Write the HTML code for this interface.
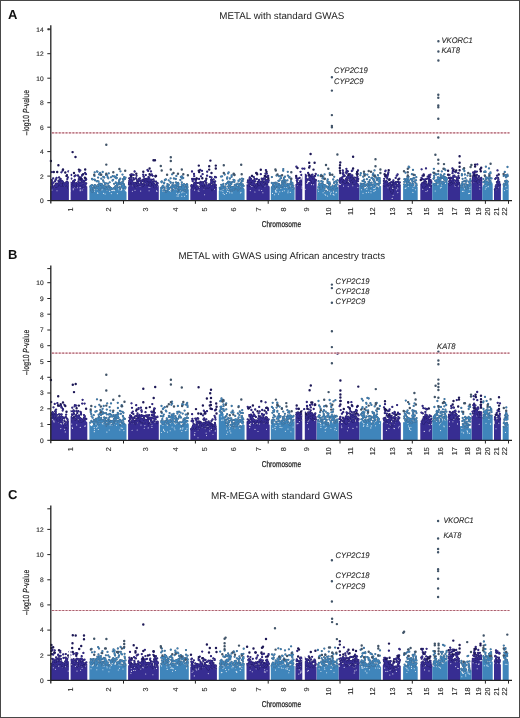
<!DOCTYPE html><html><head><meta charset="utf-8"><style>
html,body{margin:0;padding:0;background:#fff;width:520px;height:718px;overflow:hidden;}
#f{position:relative;width:520px;height:718px;box-sizing:border-box;border:1px solid #474747;overflow:hidden;background:#fff;}
svg{position:absolute;left:-1px;top:-1px;will-change:transform;}
text{font-family:"Liberation Sans",sans-serif;text-rendering:geometricPrecision;}
</style></head><body><div id="f">
<svg width="520" height="718" viewBox="0 0 520 718">
<path fill="#372d92" d="M50.4 200.6L50.4 186.3L51.4 185.6L52.4 185.1L53.4 186.4L54.4 188.1L55.4 186.4L56.4 186.4L57.4 185.5L58.4 184L59.4 183.5L60.4 185.5L61.4 186.1L62.4 185.8L63.4 185.7L64.4 186.4L65.4 185.6L66.4 184.7L67.4 186.8L68.4 187.5L69.4 189L70.4 186.6L71.4 185.7L72.4 185.5L73.4 184.8L74.4 185.5L75.4 186.1L76.4 187.3L77.4 185.6L78.4 184L79.4 184.7L80.4 184.1L81.4 184.3L82.4 186.2L83.4 188.5L84.4 187.2L85.4 185.4L86.4 186.1L87.3 186.5L87.3 200.6zM128.1 200.6L128.1 186.7L129.1 186L130.1 182.8L131.1 182.5L132.1 185.1L133.1 185.6L134.1 185.4L135.1 186.3L136.1 187.8L137.1 185.1L138.1 185.1L139.1 185.8L140.1 186.8L141.1 185.4L142.1 186.7L143.1 185.8L144.1 184.2L145.1 183.2L146.1 184L147.1 184.5L148.1 184.7L149.1 185.1L150.1 185.9L151.1 185.1L152.1 183.3L153.1 184.2L154.1 187.1L155.1 187.9L156.1 185.8L157.1 186.5L158.1 186.3L158.8 183.9L158.8 200.6zM190.3 200.6L190.3 189L191.3 188.3L192.3 189.2L193.3 189.3L194.3 188L195.3 187.2L196.3 187.5L197.3 188.6L198.3 188.8L199.3 187.9L200.3 186.6L201.3 186.7L202.3 185.8L203.3 185.4L204.3 188.2L205.3 188.9L206.3 187.4L207.3 186.8L208.3 187.2L209.3 187.5L210.3 187.8L211.3 189.2L212.3 189.6L213.3 189.1L214.3 187.6L215.3 186.6L216.3 186.7L216.9 186.8L216.9 200.6zM246.5 200.6L246.5 183.9L247.5 185.6L248.5 186.5L249.5 184.3L250.5 183.6L251.5 184.3L252.5 184.2L253.5 184.4L254.5 186.3L255.5 187.3L256.5 186.6L257.5 185.4L258.5 184.5L259.5 185.5L260.5 184.4L261.5 185.2L262.5 185.9L263.5 185.5L264.5 183.9L265.5 182.9L266.5 183.4L267.5 185L268.5 185.6L269.5 186.5L269.7 186.4L269.7 200.6zM295.4 200.6L295.4 184L296.4 183.9L297.4 183.9L298.4 184.5L299.4 184.7L300.4 184.6L301.4 183.1L302.4 181.7L303.4 180.2L304.4 181.8L305.4 182.4L306.4 181.7L307.4 183.1L308.4 182.2L309.4 182L310.4 179.6L311.4 181.4L312.4 182.4L313.4 182.3L314.4 180.5L315.4 180.7L316.4 178.8L316.6 179.5L316.6 200.6zM338.5 200.6L338.5 183.5L339.5 185L340.5 184.9L341.5 183.4L342.5 181.8L343.5 181.2L344.5 183.1L345.5 181.9L346.5 183.1L347.5 182.6L348.5 181.8L349.5 181.3L350.5 180.8L351.5 182.8L352.5 184.7L353.5 184.1L354.5 185L355.5 183.9L356.5 182.4L357.5 182.6L358.5 183.5L359.5 185.2L359.5 183.9L359.5 200.6zM382.8 200.6L382.8 184.6L383.8 184.9L384.8 186.2L385.8 185.9L386.8 184.3L387.8 183.6L388.8 185L389.8 187.7L390.8 190L391.8 193.5L392.8 190.7L393.8 186.4L394.8 184.1L395.8 186L396.8 186.7L397.8 185.6L398.8 186.1L399.8 185.4L400.8 184.3L400.8 184.6L400.8 200.6zM420.3 200.6L420.3 184L421.3 183.5L422.3 185.1L423.3 187.7L424.3 187.7L425.3 185.7L426.3 185.4L427.3 185.8L428.3 184.6L429.3 184.2L430.3 185.1L431.3 186L432.3 184.5L432.3 184L432.3 200.6zM447.7 200.6L447.7 183.4L448.7 184.3L449.7 183.9L450.7 185.2L451.7 182.7L452.7 182L453.7 183.2L454.7 185.8L455.7 184.4L456.7 183.9L457.7 183.5L458.7 182.5L459.7 181.6L460 181.4L460 200.6zM471.5 200.6L471.5 182.5L472.5 181.5L473.5 181.5L474.5 180.8L475.5 180.5L476.5 180.2L477.5 181.4L478.5 183.7L479.5 183.3L480.5 180.2L481.5 180.1L482.3 180.3L482.3 200.6zM494 200.6L494 189.4L495 189.6L496 190.6L497 187L498 183.8L499 184.2L500 184.3L500.9 185.3L500.9 200.6z"/>
<path fill="#3f85bb" d="M89.4 200.6L89.4 187.9L90.4 188.5L91.4 191.1L92.4 191.3L93.4 190.7L94.4 189.5L95.4 188.9L96.4 189.2L97.4 189L98.4 189.8L99.4 190.8L100.4 189.4L101.4 187.2L102.4 186.2L103.4 187.6L104.4 188.3L105.4 189.6L106.4 190.2L107.4 190.6L108.4 188L109.4 187.5L110.4 189.3L111.4 190.9L112.4 190.6L113.4 190.7L114.4 190L115.4 188.4L116.4 186.7L117.4 187.6L118.4 188.5L119.4 189.7L120.4 188.4L121.4 190.1L122.4 189.4L123.4 186.7L124.4 188.3L125.4 191.1L126.4 192L126.5 191.1L126.5 200.6zM159.9 200.6L159.9 189.8L160.9 187.9L161.9 189.2L162.9 191.5L163.9 191.5L164.9 191.6L165.9 192.3L166.9 191.3L167.9 189.1L168.9 189.3L169.9 191.2L170.9 191.7L171.9 190.6L172.9 190.4L173.9 189.9L174.9 188.5L175.9 187.5L176.9 189L177.9 191.5L178.9 190.5L179.9 190.4L180.9 191.2L181.9 190.7L182.9 189.7L183.9 190L184.9 192.2L185.9 192L186.9 190.5L187.9 189.4L188.8 189.6L188.8 200.6zM218.8 200.6L218.8 190.7L219.8 189.7L220.8 187.9L221.8 186.9L222.8 189.5L223.8 189.9L224.8 189.2L225.8 189.1L226.8 189L227.8 187.9L228.8 187.5L229.8 189.5L230.8 191.8L231.8 191L232.8 190.4L233.8 189.3L234.8 189.2L235.8 189L236.8 188.8L237.8 190.9L238.8 190.2L239.8 188.1L240.8 188.7L241.8 187.8L242.8 188.1L243.8 187.8L244.6 189.4L244.6 200.6zM270.8 200.6L270.8 187.2L271.8 186.6L272.8 188.5L273.8 189.2L274.8 188.7L275.8 186.3L276.8 186.2L277.8 188.4L278.8 187.7L279.8 187.9L280.8 188.7L281.8 188L282.8 184.2L283.8 184.4L284.8 185.7L285.8 187.1L286.8 187.7L287.8 188.4L288.8 187.4L289.8 186.2L290.8 186.5L291.8 187.9L292.8 188.9L293.8 188.6L294.6 187.7L294.6 200.6zM316.9 200.6L316.9 187.4L317.9 189.3L318.9 189.4L319.9 189.9L320.9 188L321.9 189L322.9 187.6L323.9 188.2L324.9 189.3L325.9 191.9L326.9 191.3L327.9 190.5L328.9 190.4L329.9 189.5L330.9 188.3L331.9 189.8L332.9 190.4L333.9 191.5L334.9 188.4L335.9 187.4L336.9 187.5L337.9 188.1L338.5 188.3L338.5 200.6zM359.5 200.6L359.5 184.7L360.5 184.7L361.5 186.8L362.5 189.2L363.5 188.6L364.5 188.2L365.5 188.2L366.5 187.3L367.5 186.2L368.5 185.9L369.5 187.8L370.5 187.2L371.5 186.8L372.5 185.8L373.5 185.6L374.5 184.3L375.5 184.8L376.5 186.6L377.5 188.3L378.5 187.6L379.5 185.7L380.5 185.9L381.1 186.3L381.1 200.6zM403.1 200.6L403.1 185.5L404.1 185.4L405.1 185.8L406.1 186.7L407.1 184.4L408.1 183.4L409.1 183.3L410.1 184.8L411.1 185.8L412.1 186.2L413.1 185.8L414.1 186.5L415.1 185.2L416.1 184.9L417.1 186.5L417.7 186.6L417.7 200.6zM432.3 200.6L432.3 181.9L433.3 182.5L434.3 184.2L435.3 185.2L436.3 184.7L437.3 183.4L438.3 184.2L439.3 183.4L440.3 181.7L441.3 183.6L442.3 183.7L443.3 184L444.3 181.8L445.3 181.7L446.3 181.7L447.3 181.1L447.7 181.8L447.7 200.6zM460 200.6L460 187.1L461 186.3L462 188L463 187.9L464 185.1L465 185.9L466 188L467 189.2L468 188.2L469 187L470 187.5L471 184.8L471.5 184L471.5 200.6zM482.3 200.6L482.3 187.4L483.3 184.9L484.3 184L485.3 184.3L486.3 185.5L487.3 184.5L488.3 184.2L489.3 185.1L490.3 183.6L491.3 181.8L492.3 182.8L492.7 183.9L492.7 200.6zM502.7 200.6L502.7 187.7L503.7 186.2L504.7 184.5L505.7 183.7L506.7 184.7L507.7 183.9L508.7 184.4L508.7 184.7L508.7 200.6z"/>
<path stroke="#fff" stroke-opacity="0.85" stroke-width="1.1" stroke-linecap="round" fill="none" d="M57 190.7h0M73.7 182.5h0M80.2 190.8h0M73.2 189.7h0M79.4 183.2h0M69.7 190.2h0M80.2 189.9h0M79.9 187.7h0M82.2 190h0M75.4 186.1h0M53 184.7h0M64.1 183.8h0M80.2 187.5h0M73.2 188.7h0M75 187.8h0M52 190h0M77.3 187.8h0M70 191.1h0M103.6 193.4h0M106.2 189.4h0M117.4 193.6h0M94.5 191.1h0M112 189.1h0M103.5 186.2h0M97.9 188.1h0M111.3 193.6h0M97.8 185.7h0M102.1 189.8h0M97.2 188.7h0M97.8 193.4h0M109.6 185.6h0M94.4 189.2h0M109.7 191.3h0M94 187.3h0M114.6 190.6h0M100.6 188.4h0M123.4 187.1h0M110.2 189.5h0M105.1 194h0M124.9 189.6h0M97.6 192.7h0M97.8 185.7h0M121.6 190h0M118.9 189.8h0M121 190.2h0M96.4 186.1h0M109.7 191.4h0M121.9 186.6h0M112.1 190.6h0M108.1 187.3h0M100.6 190.5h0M149.1 190.7h0M133.9 183.9h0M136.5 186.9h0M144.1 183.2h0M138.7 184.1h0M156.6 190.7h0M132.4 191.2h0M132.4 185.6h0M156.9 191.4h0M149.9 187.3h0M135 190.3h0M132.6 183.9h0M140.4 183.8h0M140.7 191.1h0M148.8 187.2h0M161.7 185.2h0M178.3 196h0M163.5 191.1h0M180.3 188.8h0M183.7 191.4h0M162.9 191.1h0M176.3 188.9h0M178.9 189.1h0M182.1 190.4h0M178.1 194.2h0M172.2 190.4h0M181.8 196.3h0M181.7 192.7h0M169 186.2h0M186.6 194.2h0M182.8 189.3h0M177.1 196h0M182.9 191.9h0M169.4 190.4h0M184.4 191.7h0M179.1 193.4h0M184.6 196.3h0M168.7 185.5h0M168.2 189.8h0M176.6 193.2h0M184.4 188.4h0M207.8 187.4h0M204.6 194.7h0M206.5 187h0M204.1 189h0M214.2 187.2h0M199 191.2h0M194.6 190.1h0M214.4 189.3h0M198.1 190.7h0M204.4 186.8h0M194.7 185.5h0M198.7 189.2h0M198.6 187.8h0M234.2 188.7h0M240.2 185.8h0M232 192.9h0M226.5 193.2h0M229.1 191.3h0M233.2 189.7h0M229.2 185.9h0M224.3 194.5h0M227.6 191.4h0M222.8 191.2h0M228.5 189.3h0M227.1 186.1h0M227.4 187.4h0M223.2 193.3h0M226.7 189.6h0M241 192.2h0M240.4 193h0M223.3 189.1h0M221 190.7h0M235.4 188.7h0M229.7 192.8h0M236.2 187.5h0M239.6 188.8h0M254.9 192h0M261.7 190.5h0M250.5 185.2h0M262.9 192.8h0M262.6 183.9h0M260.2 182.6h0M259.1 190.1h0M250.3 190.6h0M261.6 184.8h0M251.9 186.4h0M264.9 186h0M288.1 191h0M278.5 194.1h0M276.8 188.9h0M275.6 191.9h0M290.4 185.2h0M287.9 192.7h0M278.2 187.7h0M282.4 191.2h0M275.7 190h0M284.7 187.1h0M284.3 190.7h0M276.7 191.9h0M279.8 191.8h0M290.3 184.4h0M290.3 192.4h0M278.5 184.6h0M274.6 194.8h0M272.5 193.4h0M275.4 190.8h0M274.3 187.4h0M286.5 184.5h0M307.5 183.1h0M311.5 180.7h0M313.6 184.7h0M297.8 185.2h0M306.6 183.5h0M307.2 182.6h0M301.9 188h0M302.2 186.3h0M311.5 184.6h0M305.2 189.3h0M336.4 192.3h0M323.1 192.7h0M322.7 186.8h0M326.9 190.1h0M327.6 196h0M331.1 192.2h0M325.7 195.3h0M333.2 194.4h0M335.9 192.7h0M326 188.9h0M330.5 193.9h0M324.7 191.2h0M334 195.1h0M318.5 191.3h0M318.7 187.8h0M333.5 191.9h0M329.6 191h0M324.6 187.3h0M325 194.3h0M357.9 187.5h0M357.3 182.2h0M357.8 180h0M348.6 180.5h0M348.2 186.6h0M352.8 185.7h0M346.2 181.5h0M347.3 183h0M343.5 186.1h0M349.3 182.3h0M375.4 190.2h0M375.8 187.3h0M363 193.2h0M366.8 189.2h0M367.8 187.7h0M379 184.4h0M370.9 190.2h0M371 192.8h0M368.6 192.3h0M373.8 191.2h0M362.7 187.2h0M366.3 192.6h0M361.3 185h0M374.3 191h0M364.3 188.4h0M373.8 188.5h0M374.9 188.5h0M365.6 186.6h0M361.5 189.8h0M397.4 187.5h0M392.2 198.4h0M396.4 189.7h0M392 191.7h0M388 187.7h0M393.1 195.2h0M397.8 192.6h0M387.2 181.6h0M397.8 188.7h0M412.9 192.4h0M413.8 186.4h0M408.3 186.5h0M405.2 188.5h0M405.6 183.3h0M410.6 183.4h0M415.4 189.7h0M410 183.1h0M406 187.9h0M410.6 185.5h0M412.9 188.2h0M413.6 184.5h0M405.4 186.4h0M430.4 186.1h0M427.5 190.8h0M426 191.5h0M428.4 184.1h0M429.7 187.4h0M422.8 189.2h0M445.5 183.4h0M438.8 181.8h0M435.2 191h0M443.7 179.9h0M437.8 184.7h0M439.9 182.6h0M444.9 181.3h0M440.4 187.9h0M441.7 184.9h0M437.9 183.8h0M441.4 187.3h0M437 184.1h0M438.6 183.6h0M453.6 182h0M456.2 183.2h0M455.5 182.8h0M458.4 186h0M456.1 183.1h0M455.1 186.3h0M463.8 191.3h0M465.9 187.5h0M469.7 187.6h0M467.4 185.8h0M468.6 193.6h0M462.4 191.4h0M463.8 184.1h0M464.6 188.7h0M469.6 193.4h0M469.9 189.6h0M479.8 186.3h0M473.9 181.8h0M478.2 180.5h0M473.3 181.6h0M479.8 189h0M488.3 184.1h0M485.3 189h0M490.5 182h0M488.1 186.8h0M486.2 181.7h0M486.2 187.6h0M488.3 186.2h0M484.7 182.1h0M486.1 185.4h0M497.4 187.3h0M496.3 188.5h0M498 187.6h0M507 189.2h0M506.4 183.3h0M504.5 190.6h0M505.9 186.6h0M506.8 182.6h0"/>
<defs><path id="f00" d="M61.8 180.9h0M75.8 186.1h0M71.5 183.5h0M82 181.1h0M61.4 172.3h0M55.4 185.1h0M77.9 184h0M68.5 188.2h0M74.8 180.2h0M71.4 178.6h0M62.3 182h0M72.2 183h0M67.3 179.1h0M84.5 184.9h0M74.6 185h0M75.9 183.4h0M86.2 179.4h0M61.3 184.8h0M74.8 185.4h0M67.5 185.6h0M55.4 186.9h0M78.3 183.8h0M60 182.3h0M81.9 185.3h0M67.1 182.5h0M82.3 180.2h0M81.6 184h0M65.9 183.5h0M82.3 174.9h0M56.6 185.8h0M59.4 182.6h0M68.3 184.9h0M60.5 185.2h0M66 183.3h0M71.2 175h0M75.5 184.2h0M73 181.4h0M53.2 178.3h0M78.7 176.6h0M79.3 182.7h0M65.3 185.2h0M73.6 184.7h0M53.7 186.7h0M57 184.9h0M53.1 186.6h0M56.6 186.1h0M64.1 185.5h0M82 182.3h0M56.5 185.4h0M63.5 183.8h0M55.6 180h0M86.2 183.4h0M68.3 187.7h0M54.9 186.2h0M60.6 178.9h0M57 186.3h0M84.7 184h0M56.4 183.6h0M52.2 182.4h0M85.6 178.3h0M75.7 186h0M64.2 184.9h0M78.4 181.4h0M78.6 182.8h0M59.1 177.5h0M85.9 178.6h0M79.6 178.5h0M77.3 184.7h0M69.5 186.7h0M52.3 185.1h0M61.1 185.2h0M75.6 175.4h0M67 175.1h0M86 174.2h0M64.1 184.7h0M59.3 182.8h0M58.5 180.9h0M82.9 181h0M68.1 183.9h0M79.4 184.3h0M74.5 176.3h0M78.8 179.2h0M68.1 186.9h0M79 182.9h0M79.4 171.5h0M65.2 183.8h0M84.5 182.4h0M57.3 185.8h0M56.6 177.8h0M79.6 184.2h0M80.3 170.4h0M74.4 183.4h0M70.6 186.2h0M51.8 172.1h0M74.1 182.1h0M84.1 185.8h0M81.9 179.2h0M58.7 183.1h0M61.6 185.7h0M71.9 185.1h0M66 184.5h0M83.2 186.5h0M67.4 182.8h0M83 185.9h0M83.5 185.7h0M70 184.9h0M52 182.9h0M57.7 185.8h0M79.4 183.9h0M67.9 182.5h0M70.8 185h0M69.5 185.3h0M78.8 183.9h0M71 185.3h0M61 180.8h0M69.1 185.6h0M78 175.5h0M66.9 181.6h0M69 186.1h0M75.6 184.7h0M70 185.1h0M84.3 183h0M82.1 175.5h0M60.4 182h0M84.4 180.6h0M56.1 186.1h0M66.8 184.8h0M59.7 183.5h0M74.8 179.9h0M82.8 186.9h0M76.4 183.1h0M56.3 178.7h0M85.3 185h0M84.7 184.8h0M68.4 171.4h0M80.5 184.2h0M66.4 182.2h0M63.2 184.7h0M62.5 181.5h0M52 182.1h0M66.8 184.9h0M62.9 182.1h0M69.3 188.3h0M85.9 179.9h0M85.4 185.3h0M60.6 185.3h0M78.6 183.1h0M55.8 184.7h0M83.3 181.9h0M60.4 184.3h0M83.6 185.2h0M75.9 186.8h0M53.3 182.7h0M66.2 184.6h0M84.2 183.9h0M79.4 184.3h0M81.4 184.7h0M81.6 183h0M63.2 182.6h0M83.8 187h0M55.8 184h0M59.7 183.3h0M57 186.2h0M58.4 183.3h0M62 181.4h0M61.5 184.2h0M57.5 184.5h0M51.9 184h0M51.8 180.2h0M70.6 185.8h0M68 177.4h0M55 181.3h0M66.5 182.4h0M80.6 183h0M69.1 184.4h0M85.8 184h0M80.5 180.3h0M73.6 183h0M63.5 185.2h0M55.9 186.5h0M77.3 184.5h0M57 186.1h0M80.8 177.3h0M74.8 184.4h0M59.8 182.6h0M67.4 185.5h0M66.9 184.1h0M85.1 172.9h0M70.5 185.7h0M85.2 184.6h0M63.8 185.5h0M64.7 183.4h0M68.9 187.9h0M69 188.7h0M60.6 185h0M65.3 185.4h0M52.1 183.7h0M59.5 180.4h0M69.9 182.6h0M74.4 180.4h0M82.2 184.3h0M62.7 170.5h0M153.2 184.4h0M146.3 181h0M147.1 183.7h0M141.1 182.8h0M141.3 182h0M141.9 184.1h0M129.7 180.5h0M143.1 185.2h0M151.1 179.8h0M142.2 185.6h0M142.7 186.1h0M132.7 182.7h0M131.7 181.7h0M143.7 185h0M147.4 184.8h0M150.2 180.4h0M143.8 184.9h0M143.6 183.8h0M156.5 185.9h0M150.2 179.7h0M134.6 171.5h0M143.2 174.6h0M155.5 186.4h0M151.8 174.4h0M130.9 181.4h0M150.9 185h0M154.9 186.1h0M152.6 183.3h0M143.5 176.4h0M135 185.7h0M143.6 184h0M130.1 182.6h0M133.7 174.9h0M148.6 176.8h0M133.9 179.6h0M132.3 181.8h0M147.4 183.5h0M154.2 183.9h0M145.8 175.1h0M147.2 183.2h0M152.1 182.8h0M157.6 183.2h0M139.4 180.7h0M141.8 185.4h0M150.5 185.7h0M152.7 182.9h0M147.5 170h0M145.9 179.2h0M138 184.4h0M130 182.8h0M146.8 182.6h0M143.8 176.7h0M132.8 183.9h0M147.9 185.1h0M129.1 183.7h0M132.1 182.7h0M135.5 184.1h0M146 182.5h0M147 182.6h0M132.9 174.7h0M136 186.6h0M131.8 180.2h0M154.2 181.2h0M140.6 185h0M129.3 181h0M145.3 181h0M147.7 183h0M156.1 181.7h0M136.2 178.4h0M130.3 180.3h0M140.7 185.1h0M130.7 177.3h0M129.4 181.8h0M156.2 186h0M134.8 183h0M143.7 181.6h0M152.5 183.1h0M137.9 183.1h0M130.4 174.9h0M151.6 179.8h0M129.2 178.3h0M150.5 183.6h0M150.4 183.7h0M135.5 186.9h0M135.7 187.2h0M138.7 180h0M149.1 178.4h0M149.6 184.4h0M145 180.6h0M151.8 181.5h0M136.7 182.3h0M156.9 185.5h0M154.4 187.1h0M136.5 185.4h0M150.5 175.3h0M150.6 184.4h0M154.4 185.7h0M135.9 178.5h0M147.2 180.8h0M148.2 170.9h0M142.6 179.8h0M149.2 178.1h0M141.6 181.3h0M145.5 181.3h0M135.1 183.4h0M131.2 174.4h0M133.2 184.8h0M132.1 174.6h0M139 184.9h0M129.8 183.5h0M149 181.5h0M149.1 180.4h0M130.9 179.7h0M139.5 179.8h0M152.7 175.8h0M130.9 175.5h0M155.4 176.5h0M132.1 183.5h0M132.2 184.4h0M153.5 179.3h0M147.3 178.7h0M147.3 183.9h0M131.9 183.8h0M150.9 184.7h0M138.2 182.5h0M129.6 183.1h0M137.2 180.5h0M139.6 184.8h0M156.9 183.9h0M153.6 182.1h0M129.9 181.6h0M141.6 180.6h0M139 181h0M144.5 182.4h0M153.9 186h0M152.7 183.3h0M129 184.6h0M151 171.4h0M129.1 182.8h0M143.2 180.3h0M134.3 183.3h0M139 179h0M136.5 175.8h0M137.2 184.2h0M149.2 182.8h0M132.2 180.7h0M131.3 177.7h0M149.1 179.6h0M147.1 183.4h0M140.6 184.3h0M154.7 187h0M154.7 187.2h0M135 185.6h0M155 184.7h0M140 178.4h0M135.8 185.1h0M144.4 178.6h0M150.8 181.9h0M139.1 184.1h0M133.5 178.2h0M148.1 180.1h0M133.9 183.1h0M151.4 181.7h0M132.6 182.5h0M154.6 186.3h0M134.5 184.8h0M213.2 186.2h0M203 182.1h0M195.9 186.2h0M195.7 182.3h0M200.2 184h0M201.2 183.8h0M194.9 186.6h0M215.9 185.1h0M193.8 184.7h0M210.7 187.5h0M206 186.2h0M204.1 187.5h0M192 171.5h0M212.7 187.4h0M205.3 187.5h0M210.5 185.7h0M214.7 181.6h0M211.5 177.5h0M197.5 189.2h0M196.2 186.8h0M193.3 188.6h0M205 181.2h0M202.6 174.2h0M213.8 187.5h0M206 185.9h0M194.2 176.1h0M197.6 186.3h0M207.1 175.7h0M207.8 185.7h0M202.3 184.5h0M196.7 188.4h0M197.5 187.8h0M213.6 179.4h0M212 190h0M210.7 183.5h0M207.2 171.7h0M192.6 188.2h0M209.9 176.8h0M208 186.3h0M205.9 182.8h0M193.8 187h0M197.6 188.9h0M203.1 184.8h0M197.1 188.6h0M208 187.5h0M209 186.5h0M192.1 178.9h0M196.7 178.5h0M212.7 181.7h0M194.7 184.9h0M193.6 178.9h0M212.1 186.6h0M202.4 183.5h0M211.6 187.5h0M206.8 186.6h0M196.7 188.3h0M208.9 184.4h0M194.8 179.4h0M197.8 187.3h0M195.1 185.5h0M212 188.7h0M195.4 184.1h0M199.1 179h0M194 174h0M192.6 180.5h0M207.8 186.6h0M203 184.1h0M197.6 188.5h0M200.2 169.8h0M216 177.3h0M193.6 187.4h0M213.4 188.2h0M209.2 185.9h0M215.5 186.9h0M211.2 187.6h0M194.7 187.1h0M211.8 187.4h0M195.8 184.8h0M213.8 186.8h0M205.4 188h0M195.7 181.3h0M208.8 186.6h0M193.2 188.5h0M206.3 185h0M198 188.3h0M206.4 182.9h0M211.3 186.1h0M196.2 187.3h0M209.4 185.2h0M209.1 187h0M211.3 187.8h0M212.1 182.9h0M203.4 186h0M213.8 185.4h0M212.8 188.5h0M195.8 180.4h0M200.3 186.4h0M200.4 183.7h0M191.3 186h0M202.3 182.5h0M194.2 183.2h0M211.5 182.2h0M199.2 183h0M200.7 181.8h0M192.7 181.2h0M214.9 184.5h0M203.9 184.5h0M204.5 188.3h0M215.2 186.1h0M195.7 186.4h0M197.4 183.1h0M191.9 188.2h0M208.5 186.8h0M191.6 185.2h0M205.5 185.7h0M208.6 187.1h0M212.8 185.1h0M192.3 188.2h0M203.4 183.6h0M198.1 188.5h0M201.3 185.8h0M205.9 180.7h0M194.9 183.7h0M209.7 186.3h0M211.7 179.8h0M200.8 184.8h0M212 187.5h0M201 176.3h0M210.5 186.1h0M197.2 187.7h0M202 170.8h0M211.1 180h0M211.4 182.6h0M192.5 186h0M215 177h0M197.4 187.3h0M206.9 185.5h0M204.4 187.9h0M201.9 182.9h0M191.7 188h0M215.2 181.5h0M214.4 183.4h0M211.3 181.3h0M213.1 188.9h0M207.1 186.1h0M265.7 179.9h0M248.4 185.2h0M249.8 178.9h0M251.9 175.8h0M263.4 185.4h0M262.3 184.2h0M263.4 179.3h0M253.4 184.3h0M267.7 182.5h0M267.3 180.2h0M263.2 179.6h0M260.8 182.1h0M248.6 181.7h0M256.6 184.2h0M267.3 184h0M263.7 185.1h0M262.4 180.2h0M253 181.6h0M268.1 181h0M259 184h0M248.7 184.4h0M256.2 186.6h0M254 185h0M262.5 182.2h0M252.5 183.6h0M258.4 182.8h0M267.4 182.9h0M253.8 177.2h0M250.4 181.3h0M254.5 180.4h0M259.1 179.8h0M251 180.5h0M260.2 182.2h0M263.8 178.5h0M249.8 183.3h0M255.1 186.8h0M248.7 184.8h0M251.6 180.4h0M257 185.5h0M254.3 183.8h0M255.2 187.1h0M248.9 185.7h0M268.6 180.2h0M249.2 180.8h0M268.4 181.9h0M249.7 182.3h0M256.7 185.8h0M259 185h0M267.1 180.7h0M260.8 174.2h0M261.4 183.7h0M252.7 184h0M248 180.5h0M265.4 181.8h0M251.4 181h0M265.5 173.6h0M251 178.9h0M265.2 178.1h0M254.4 185.5h0M265.1 181.7h0M255.3 185h0M255.3 181.4h0M252.5 184.5h0M259.5 181.3h0M264.9 178.6h0M266.8 173.7h0M258 182.4h0M250.8 183.1h0M259.8 184.4h0M262.1 185.2h0M256.9 173.3h0M249.3 185.1h0M256.8 185.5h0M262.9 186.3h0M265.4 176h0M264.2 182h0M253.5 180.7h0M258.4 183h0M254.6 184.7h0M261.7 178.7h0M266.7 183.7h0M253.7 182.8h0M259.5 183.4h0M251.6 184.5h0M254.3 183.8h0M268.2 176h0M265.9 170.1h0M268 181.1h0M264.8 183h0M261.9 182h0M253.8 181.9h0M267.8 182.2h0M261.3 183.3h0M254.7 179.1h0M248 185.3h0M261.9 183.4h0M249.2 181.4h0M255.4 184.8h0M256.3 184.5h0M259.5 183.1h0M249.8 183.9h0M266.4 181.2h0M249.8 177.4h0M252.8 184.2h0M258.8 184h0M257.9 182h0M252.2 181.6h0M249.8 182h0M260 184.3h0M256.1 187.3h0M256.8 179h0M259.2 180.4h0M263.6 185h0M268.6 180.6h0M249.6 178.4h0M255.8 187.3h0M267.9 181.6h0M264 184.1h0M264 184.3h0M252.5 183h0M247.7 182.4h0M252 183.5h0M262.5 184.3h0M266.4 180.5h0M266.1 180.7h0M267 176.9h0M251 179.5h0M306 182.3h0M303.2 178.1h0M314.1 179.7h0M300.5 171.8h0M313.4 177.6h0M301.6 182.9h0M301.4 183.6h0M297.1 181.6h0M304.2 178.6h0M303.3 180.5h0M309.7 177.1h0M306.9 179.3h0M309.7 166.1h0M313.3 178h0M304 179.9h0M304.4 168.7h0M303.8 179.2h0M304.3 181.1h0M315.7 180.2h0M308.1 172.9h0M301.2 180.6h0M303.6 179.7h0M300.1 183.8h0M312.7 177.4h0M313.9 181.4h0M309.8 179.4h0M308.8 179.3h0M302.4 168.6h0M296.3 178h0M312.9 180.4h0M300.8 180.7h0M310.7 178.6h0M310.1 178.6h0M306.5 178.9h0M309.4 179.9h0M308.5 179.6h0M300.6 180.9h0M301.4 175h0M305.5 178.3h0M306.4 180.1h0M300.6 183.8h0M314.3 178.3h0M306.5 179.7h0M312.1 181.6h0M299.6 177.9h0M305.2 179.2h0M312.4 174.7h0M313.1 182.6h0M303.7 174.3h0M312.2 182.3h0M299.3 183.2h0M298.3 183.3h0M311.9 179.6h0M305.1 182.5h0M309.8 178.6h0M305.6 177.1h0M311 180.1h0M309.5 179.5h0M306.4 181.5h0M303.5 179.1h0M303.7 180.7h0M300.2 181.2h0M297.4 183.9h0M310.2 179.1h0M302.6 180.3h0M312.5 182.7h0M308.6 175.2h0M300.2 182.3h0M311.7 178.4h0M303.5 180.5h0M304.9 181h0M310.1 179.1h0M304.2 177.8h0M312 181h0M303.8 177.7h0M314.2 180.4h0M315.1 175.9h0M303.5 176.6h0M302.7 180.8h0M311 178.9h0M306.5 179.9h0M313.8 176.6h0M296.8 180.4h0M305.3 180.7h0M312.6 181.1h0M305.5 174.9h0M304.8 180.1h0M306.2 176.2h0M309.3 176.6h0M304.1 181.2h0M309.5 178.3h0M311.2 175.6h0M298.6 183.9h0M297.8 178.7h0M298.3 184.6h0M310.9 177.5h0M297.4 180.4h0M310.1 178h0M297.4 180.2h0M304.4 178.7h0M315.7 174h0M313.2 182.1h0M302.8 178.3h0M296.4 166.7h0M301.6 182.4h0M302.4 180.7h0M313 180h0M306.2 180.6h0M297.3 183.1h0M313.1 176.9h0M312.9 181.9h0M300.2 184.1h0M306.7 180.6h0M305.3 180.5h0M355.3 183.6h0M349.5 180.5h0M342.8 170.5h0M348.1 176.7h0M344.2 181h0M341.3 180.6h0M356 180.8h0M346.6 173h0M356.6 178.3h0M340.9 181h0M347.9 171.3h0M346.3 178.6h0M351.5 181.5h0M349.4 176.5h0M356.8 179.5h0M346.4 168.8h0M340.5 178.4h0M352.5 181.1h0M348 177.8h0M356.5 177.6h0M353.8 183.9h0M345.6 182h0M357.7 173.9h0M342.2 178.4h0M350.5 180.8h0M346.9 177.8h0M351.7 182.3h0M354 182.8h0M349.9 178.4h0M358.2 179h0M354.9 180.3h0M346.7 170.6h0M353 179.6h0M344.7 182.2h0M350.4 174.5h0M354.6 182.8h0M342.1 179.2h0M356.2 182.2h0M353.6 183.2h0M345.4 182.5h0M345.1 181h0M358 170.5h0M343 179.9h0M357.5 181.1h0M345.6 180.5h0M341.5 182.1h0M347 181.1h0M357.9 181.2h0M343.3 172.7h0M348 176.2h0M351.6 177.9h0M345.4 182h0M353.9 181.7h0M350.1 176.5h0M353.9 182.8h0M346.4 173.4h0M349.6 179.2h0M351.5 182.1h0M354.2 184h0M355.3 181.3h0M346.2 172.2h0M344.5 181.8h0M340.7 181.8h0M353.9 179.9h0M347.3 177h0M341.5 181.7h0M351.8 171.1h0M351.6 179h0M354.3 182.4h0M357.5 176.9h0M346 180.6h0M354.9 182.9h0M343 173.7h0M349.6 177.8h0M352.3 175.5h0M342 180.5h0M340.7 182.9h0M349 174.2h0M352.2 180.8h0M347.2 179.9h0M344.7 176h0M354.5 177.7h0M342.3 177.4h0M353.9 181.5h0M356.6 173.8h0M353.7 177.6h0M351.9 176h0M341.9 177.7h0M352.9 180.5h0M344.7 182.6h0M351 175.7h0M344.6 182h0M343.7 181.7h0M352.4 170.5h0M354.8 182.8h0M352.8 183.7h0M355.5 182.7h0M339.5 181h0M342.1 180.7h0M340.5 182.8h0M350.1 174.4h0M340.2 178.7h0M341.5 182.2h0M351.5 181.6h0M345.8 179.4h0M343.6 176.1h0M343.4 174.9h0M354.9 181.6h0M340 179.6h0M339.9 182.5h0M347.5 182.9h0M351.5 178.5h0M350.6 179.4h0M349.2 177.6h0M343.7 174.7h0M390.3 185.3h0M390.9 186.3h0M385.2 176.3h0M389.2 180.1h0M384.2 178.8h0M387.4 176.5h0M396.7 182.3h0M388.2 184.5h0M386.8 175.4h0M386.3 181h0M393.2 185.7h0M386.6 183.7h0M385.3 171.3h0M389.9 184.7h0M392.9 189.9h0M384.7 185.9h0M397.5 185.6h0M399.3 184.2h0M395.4 184h0M396.5 185.1h0M389.6 185.2h0M385.5 185h0M396.6 185h0M389.9 183.2h0M387.3 182.8h0M387.2 181.8h0M389.6 184.1h0M391.3 184.8h0M384.5 181.7h0M397.3 185.3h0M384.2 183.1h0M385.6 183.7h0M395.2 184h0M385.6 183.5h0M386.5 183.5h0M390.8 190.4h0M384.8 184.3h0M391.3 182.1h0M392.7 191.4h0M387.3 178.6h0M392.8 183.7h0M399.3 178.7h0M385.5 175.5h0M392.2 192h0M386.5 177.2h0M387.1 183.3h0M388 174.7h0M391.2 187h0M384.9 183.9h0M388.8 184.9h0M394.4 182.8h0M385.6 170.7h0M391.5 192.1h0M383.9 181h0M392 193.2h0M391.3 187.3h0M392.4 191.5h0M391.8 190.3h0M394.2 184.5h0M396.7 175.7h0M395.7 177.9h0M389.7 179.4h0M386.6 183.3h0M393.4 180.4h0M385 185.2h0M384.3 183.3h0M386 184.7h0M395.8 182.1h0M398.9 183.8h0M394.7 184.1h0M399.1 184.8h0M391.4 190h0M399.1 183.3h0M399.8 182.3h0M387.2 177h0M391.1 190.6h0M399.3 184.4h0M390.3 188h0M394.5 184.1h0M389.8 187.6h0M397.1 186.4h0M393.5 187.1h0M391.1 188.4h0M395.2 183.8h0M387.6 183.2h0M399.3 185.2h0M385.9 182.8h0M393.1 182.1h0M384.6 184.8h0M386.4 181.4h0M391 189.5h0M398.1 181.8h0M397.6 174.5h0M388.1 173.8h0M390.3 189.4h0M398.5 185.2h0M384 183.7h0M388.4 172.4h0M421.6 169.3h0M430.5 185.5h0M426 181.9h0M424.3 187.1h0M428.9 178.3h0M425.7 185.3h0M425.2 185.6h0M431 186h0M424.1 182.1h0M422.6 185.4h0M421.9 183.7h0M426.6 178.8h0M422.9 186h0M429 181.7h0M424.6 186.3h0M423.7 174.5h0M422.4 184.3h0M428.8 175.5h0M430.4 183.6h0M431 182.8h0M424.1 185.1h0M428.5 178.9h0M422.5 184.9h0M431 185.8h0M429.5 182.8h0M423.7 186.5h0M426 168.4h0M422.7 179.1h0M424.5 186.3h0M428.8 182.2h0M423.1 185h0M429.6 177.2h0M427.1 185.2h0M429 180.3h0M430.4 174.7h0M424.5 180h0M429.6 183.3h0M424.9 184.6h0M424.8 184.8h0M422.3 184.3h0M430.5 184h0M427.7 176.6h0M428.9 182.7h0M430.6 180.1h0M431.3 181.3h0M428.9 177.6h0M423.8 183.7h0M425.1 179.4h0M422.6 183h0M424.6 180.5h0M424.7 179.9h0M429.8 177.2h0M422.6 175.7h0M428.8 179.5h0M427.9 184.3h0M430.1 182.5h0M425.8 184h0M429.2 178.3h0M430.1 184.5h0M424.7 185.7h0M422.2 183.5h0M421.5 178h0M423.5 187.3h0M421.9 179.3h0M423.2 184.9h0M425.3 179.9h0M458.2 173.1h0M454.4 175.7h0M449.5 174.8h0M453.2 182.1h0M456.5 177.3h0M452.7 182.1h0M457.8 179.1h0M454.9 171.6h0M449 183.7h0M449.9 184.6h0M456 181h0M449.8 183.9h0M450.5 181.5h0M455.7 172.2h0M452.4 168.4h0M453.2 181.1h0M451.3 183.3h0M456 184h0M450.5 184.3h0M452.3 177.7h0M449.2 181.3h0M455.7 184.8h0M453.2 177.2h0M454.6 183.1h0M457.9 180.8h0M452.1 180.9h0M458.5 176.1h0M458.2 180.8h0M450.1 184.1h0M452.6 178.2h0M448.6 177.8h0M456.9 181.7h0M448.7 177.9h0M452.9 178.6h0M454.6 180.5h0M452.9 170.8h0M458.6 173.3h0M455.1 184h0M452.6 181.3h0M458.1 178.2h0M456.9 178h0M459 178h0M451.9 177.9h0M451.4 180.6h0M450.3 177.7h0M453.7 182.8h0M458.3 183.3h0M458.4 178.3h0M450.2 179.6h0M454.6 176.6h0M454.8 183.3h0M458.4 183.1h0M456.8 184h0M451.5 183.4h0M457.7 182.1h0M456.2 183.5h0M456.3 180.7h0M449.6 181.9h0M456.2 183.7h0M455.5 184h0M452.5 173.2h0M453.1 179.7h0M457.1 179.1h0M453.4 175.9h0M452.8 171.5h0M477.4 179.9h0M477.3 181.5h0M472.9 179.2h0M474.5 176h0M474.6 174.8h0M474.6 180.9h0M476.7 179h0M475.4 175.8h0M474.4 177.1h0M479.9 179.7h0M476.9 171.6h0M477.8 181.9h0M473 180.8h0M475.4 180.8h0M478.2 181.3h0M475.2 178.6h0M480.8 179.3h0M473.8 179.5h0M475.3 172.4h0M478.8 181.6h0M473.9 180.7h0M473.5 174h0M478.2 182.7h0M478 182.8h0M477 179.5h0M473.3 175.9h0M478.9 181h0M473.9 176.9h0M476.3 176.7h0M473.2 172.4h0M472.4 180.9h0M476 180h0M473.2 176.7h0M481.3 178.6h0M474.8 177.2h0M474.4 179.3h0M478.6 181.6h0M473.8 180.6h0M477.3 164.4h0M480.7 180.1h0M476.9 178.5h0M474.1 177h0M476.9 174.9h0M475 171.3h0M479.7 179.9h0M473.7 178.4h0M473.5 176.6h0M478.7 180.5h0M481.2 180h0M478.8 177.7h0M473.4 179.4h0M472.9 178h0M478.9 182h0M478.7 182h0M478.8 182.4h0M481.2 178h0M472.4 181.4h0M478.9 176.2h0M478.1 182.5h0M499 183.3h0M498.9 181.8h0M499.9 184.9h0M496.8 187.2h0M498.1 177.9h0M499.2 181.7h0M496.9 182.1h0M495.4 189.2h0M498.7 181.9h0M500 184.7h0M497.3 185.3h0M494.9 189.6h0M495.4 188.6h0M497.1 184.3h0M496.4 184.9h0M497.5 170.4h0M495.8 187.7h0M497.4 183.8h0M499.3 183.9h0M499.4 183.2h0M496.6 185.4h0M497.8 183.1h0M495.3 178.9h0M496.8 188h0M498.2 180.6h0M496.6 187.5h0M499.2 183.1h0M497 175.7h0M496.7 186.7h0M495.7 186.3h0M498.3 181.3h0M497 186.5h0M498.9 182.1h0M499.1 182.9h0M498.6 183.8h0M496 178.1h0M498.4 179.4h0"/></defs>
<use href="#f00" stroke="#241c6a" stroke-width="2.3" stroke-linecap="round" fill="none"/>
<use href="#f00" stroke="#372d92" stroke-width="1.35" stroke-linecap="round" fill="none"/>
<defs><path id="f01" d="M99.8 189h0M123.7 186.2h0M110.8 189.6h0M108.8 173.3h0M95 180.3h0M108.3 178.3h0M115.1 187.8h0M122 185.9h0M91.2 190.2h0M107.7 187.2h0M101 187.1h0M102.4 185.1h0M120 188.8h0M116.8 177.9h0M94.5 175.9h0M115.5 176.9h0M100.5 186.6h0M111.1 188.3h0M105.4 187.6h0M92 191.1h0M119.8 187.2h0M123.3 186.1h0M99.7 186.8h0M97 186.9h0M124.1 177.2h0M119 184.4h0M122.5 174.6h0M109.7 182.3h0M92 185.2h0M106.2 183.4h0M113.1 188.7h0M92 178.9h0M94.8 185.5h0M102.4 185.2h0M99.5 185.1h0M100.9 183.9h0M104.2 187.8h0M96 188.2h0M122.3 185.5h0M98.1 177.6h0M125.5 187.8h0M95.2 187.8h0M93.5 188.1h0M93.5 188.8h0M99.4 186.2h0M121.6 182.5h0M104.9 186.2h0M108.8 185.9h0M102.2 186.4h0M100.1 173h0M94.7 185.2h0M112.5 180.5h0M97.9 187.5h0M99.1 187.7h0M106 174.9h0M120.3 178.7h0M91.1 189.8h0M115.3 177.5h0M107 186.4h0M90.3 186.4h0M123 179.2h0M120.5 171.3h0M99.1 189.6h0M95.7 185.6h0M114.4 176.4h0M115.8 182.4h0M117.3 184.5h0M109.8 188.4h0M117.9 187.3h0M122.8 183h0M101 187h0M99.2 185.3h0M115 188.8h0M92.8 187.9h0M110.9 188h0M98.2 184.8h0M90.7 187.5h0M106.6 175h0M113.1 179.8h0M107.1 189.4h0M99 174.3h0M115.2 187.1h0M91.1 186.6h0M114.1 187.9h0M99.4 185h0M123 186.6h0M91.5 188.9h0M105.1 183.3h0M97.3 181.2h0M116.4 183.3h0M97.5 171.8h0M101.3 178.7h0M98.4 188.3h0M117.1 185.5h0M123.9 184.2h0M96.9 188h0M105 183.5h0M123.8 186.7h0M104.2 187.5h0M124.7 188.2h0M92.1 191.4h0M104.2 177.5h0M121.5 182.8h0M125.5 177.7h0M101.9 185.6h0M123.3 180.8h0M91.4 185.4h0M103.7 186.2h0M102 185.7h0M90.4 187.3h0M102.7 172h0M94.7 172.3h0M97.6 186.8h0M119.3 180.7h0M105.6 189.1h0M107 188.5h0M122.8 187.1h0M103.2 176.8h0M91.4 188h0M119 182.1h0M91.7 191.1h0M92.5 179.4h0M99.4 183.6h0M122 187.1h0M99.9 174.6h0M112.1 188.9h0M115.6 186.1h0M100 189.9h0M117 174.9h0M112.7 176.2h0M91.2 188.9h0M107.1 175.4h0M124 185.2h0M99.2 187.5h0M107.7 177.2h0M96.8 181.3h0M116.4 178.3h0M117.6 183.4h0M101.9 184.7h0M103.1 180.3h0M93.1 189.9h0M116.9 185.5h0M92.6 191.5h0M109.8 186.8h0M124.9 179h0M125.2 188.6h0M93.3 190.1h0M107.9 183.7h0M106.1 188.7h0M105 184.1h0M114.1 183.8h0M120.2 183.5h0M94.6 179.6h0M100.7 184.4h0M103.5 181.7h0M97.3 187.6h0M99 189.3h0M121.5 185.1h0M101.8 184.1h0M125.3 187h0M98.5 181.5h0M93.9 186.2h0M119.2 180.2h0M122.6 188.2h0M100.7 187.9h0M97 171.5h0M110.9 177.3h0M186 190.9h0M178.5 184h0M171.3 187.6h0M187.2 189.7h0M175.5 186.7h0M182 176.5h0M174.9 187.8h0M176.4 184.3h0M180.2 187h0M178.1 182.8h0M174.9 185.7h0M186.5 189.9h0M179.3 188.3h0M181.5 190.1h0M187.5 187.6h0M162.3 188.2h0M171.6 190.5h0M172.1 187.4h0M179.7 188.4h0M168 188.1h0M180.9 177h0M175.1 186.8h0M182.5 187.3h0M166.5 191.1h0M181.8 182.3h0M178 188.3h0M176 186.4h0M186.9 188.2h0M178.1 183.1h0M182.9 186.4h0M168.8 185h0M164.2 182.7h0M170.4 181.9h0M168 186.9h0M167.7 187.2h0M165.8 191.9h0M180.4 189h0M167.4 188.6h0M173.8 187h0M178.1 186.1h0M170.6 178.3h0M184 190.2h0M183.2 178h0M182 189.5h0M183.3 184.7h0M161.2 188h0M186.6 185.6h0M167.6 189.6h0M164.7 190.1h0M181.8 188.4h0M164.9 180h0M182.3 189.1h0M184.9 187.8h0M182 184.9h0M185 184.8h0M183.5 188.7h0M179.6 186.9h0M180.9 188h0M184.7 188.1h0M168 188.1h0M164.6 188.1h0M162.4 186.8h0M164.7 188.1h0M174.3 185.4h0M184.2 191h0M183.6 186.8h0M176 182.3h0M183.6 187.6h0M172.1 174.3h0M162.8 185.8h0M178 191.3h0M177.3 184.7h0M186 189.9h0M187.4 186.3h0M173.9 178.5h0M161.7 182.3h0M177.7 189.1h0M184.2 188.7h0M173.7 186.1h0M181.7 189.4h0M172.6 187.2h0M175.8 179h0M168.7 180.3h0M171.7 187.1h0M168.2 185.6h0M187.2 184.7h0M182.3 188h0M169.4 187.9h0M176.7 183.9h0M182.1 190h0M180.4 180h0M175.6 187.3h0M168.9 189h0M165.9 179.5h0M177.3 185h0M182.2 178.3h0M177.4 185.8h0M177.8 185.3h0M177 183.9h0M166.6 186.4h0M173.2 182.8h0M163.5 190.5h0M161.8 181.4h0M185.6 187.2h0M170.8 182.8h0M182.1 186.1h0M167.8 187.9h0M172.2 188.2h0M172.5 184.9h0M186.1 191.5h0M176.2 187.7h0M164 183.4h0M176.4 175.9h0M172.9 189.8h0M171.3 186.6h0M173.7 187.2h0M163.6 186.5h0M166.6 191h0M161.2 188h0M179.3 190.1h0M187 189.7h0M184.4 190.7h0M161.3 181.8h0M167.4 184.1h0M165.9 191.6h0M181.8 184.4h0M184 184.2h0M163.1 186.3h0M180 187.5h0M186.1 190.4h0M186.9 184.1h0M240.6 185.1h0M221.2 184.8h0M230.3 184.5h0M222.3 187h0M242.7 181.1h0M223.4 187.9h0M228.2 182.3h0M234.5 180.5h0M239.4 185.5h0M237.4 183.7h0M237.9 187.7h0M238.5 184.6h0M241.7 187.4h0M240.6 187.9h0M238.1 186.6h0M231.6 175.3h0M233.4 187.5h0M238.5 180.6h0M234.3 187.6h0M230.6 188.5h0M237.1 187.9h0M229.1 184.3h0M228.9 186.2h0M238.6 181.3h0M231.7 188.5h0M224.1 188h0M223.2 185.5h0M233.7 189.7h0M241.8 186.2h0M239.9 179.4h0M242.7 186.6h0M229.9 178.5h0M220 189.1h0M233.3 186.8h0M241.8 180.8h0M232.1 187.2h0M236.1 186h0M228.3 183.4h0M228.1 173.4h0M235.9 184.7h0M222.1 185.5h0M229.3 184.8h0M233.5 179.8h0M242.8 184.4h0M230.3 186.3h0M243.6 186h0M232.4 182.2h0M223.8 188.1h0M243.2 179.1h0M232 190.4h0M241.2 182.3h0M241 185.3h0M223.5 188.3h0M232 187.5h0M224.2 188.7h0M234.8 184.9h0M235 189h0M229.6 181.8h0M227.1 183.2h0M219.8 187.9h0M239.9 184h0M235.7 187.3h0M231.6 187.5h0M226.1 183.9h0M233.5 187.5h0M222.6 188h0M237.9 190.3h0M222.1 186.9h0M232.2 182.2h0M234.4 181.8h0M221.2 187.2h0M238.2 189h0M236.9 187.2h0M223.8 188.4h0M222.1 176.3h0M233.7 188h0M230.5 189.1h0M221 176.6h0M233.7 174.4h0M230.3 186.3h0M225.7 188.7h0M242 178.6h0M227.3 177.5h0M239.3 187.6h0M234.2 174.3h0M231.6 176.8h0M225.5 186.4h0M236.9 188.2h0M227.1 178.7h0M231.3 184h0M225.5 187.9h0M228.3 186.8h0M243 186h0M233.2 189.5h0M232.5 188h0M229.4 188.6h0M222.7 180.3h0M228.1 186.5h0M224.3 188h0M225.4 188.7h0M235.6 186.4h0M223.4 183.9h0M221.9 186h0M239.7 187.9h0M230.3 182.3h0M239 189h0M228.2 181.6h0M228.7 172.3h0M224.7 174.5h0M231.8 189.9h0M230.6 190.9h0M236.7 187.5h0M241.3 183.7h0M228.5 186.4h0M290.3 183.6h0M290.9 181.5h0M273.4 187.3h0M276.5 175.5h0M284.7 185.8h0M275.4 184.9h0M282 182.6h0M280.2 185.8h0M271.8 182.9h0M279 187.5h0M272.7 187.4h0M286.5 185.5h0M277.7 184.3h0M277.5 183.4h0M283.3 169.1h0M293.5 188.7h0M284 177.7h0M290.9 178.8h0M285.6 182.1h0M279.7 186h0M289.2 177.6h0M292.4 183h0M278.4 180.8h0M288 184.6h0M285.7 184.9h0M283.8 182.1h0M273 186.8h0M282.3 183.9h0M277.1 185.8h0M279.4 186.8h0M271.9 177.1h0M281.7 184.6h0M284.2 183.5h0M275.4 186.7h0M278.3 186h0M287.7 183.9h0M292.3 186.6h0M292 183.7h0M273.5 188.4h0M279.6 180.3h0M281.1 178.2h0M273.2 185.8h0M291.5 185.4h0M277.4 187.3h0M275.3 185.7h0M287.2 186.1h0M280.5 187h0M285 176.7h0M286 186h0M287.8 171.8h0M284.9 186h0M289.5 177h0M279.2 186.8h0M275.8 182.7h0M291 181.1h0M292 186.9h0M278.9 180.9h0M286 184.5h0M286.6 185.1h0M273 186.1h0M272.7 183.4h0M279.1 184.2h0M284.9 184.9h0M281.9 187h0M292.1 184.1h0M293.4 188.7h0M285.2 180.5h0M278.9 187.1h0M275.1 186.9h0M288.6 187.8h0M289.6 184.3h0M283.6 180.1h0M283.9 179.5h0M284.9 184.5h0M288 186.6h0M287.4 180.4h0M288.8 186.4h0M281.7 185.9h0M283.2 170.7h0M274.6 188.7h0M282.2 181.2h0M288.7 186h0M293.5 187.7h0M288.3 187.8h0M272.3 186.9h0M273 185.4h0M283.9 183.8h0M292.4 186.5h0M275 187h0M287.9 175.6h0M275.3 187.2h0M288.8 186.8h0M293.3 185.6h0M285.7 185h0M289.3 184.5h0M278.8 176.2h0M274.1 183h0M273.1 183.9h0M280.5 178.4h0M273 184.7h0M280.7 175.9h0M292.5 184h0M276.6 185.2h0M277.5 184.8h0M276.8 185.7h0M326 186.2h0M322.9 176.5h0M331.4 187.9h0M318.9 184.3h0M318.6 181.2h0M323.6 186.2h0M329.3 188.3h0M328.9 189.3h0M335.9 186.1h0M334.5 189h0M325.6 190.7h0M325.3 185.3h0M322.2 184.9h0M319.7 186.5h0M332.2 187h0M331.2 188.1h0M334.2 189.7h0M336.4 184.4h0M323.6 185.4h0M332.7 187.2h0M336.2 187.5h0M327.4 180.9h0M329.6 186.2h0M319.6 189h0M323.2 176.8h0M334.5 188.4h0M336.1 187.8h0M329.7 173.2h0M324.6 174.4h0M330.8 188.6h0M324.4 185.2h0M322.7 181.7h0M321.3 181.2h0M323.7 187.1h0M328.9 189.6h0M328.7 182.5h0M329.6 187h0M318.5 186.4h0M319.7 184.4h0M320.4 184.6h0M324.8 186.6h0M330.9 187.9h0M321.2 174.9h0M324.4 179h0M335.1 185.4h0M320.8 188.3h0M335.2 187.8h0M327.6 186.7h0M320.1 186h0M321 185h0M327.8 188h0M321.7 186.3h0M321.8 188.2h0M322.5 178.4h0M327.7 179.5h0M318.1 175.4h0M327.5 182.9h0M329.1 184.4h0M322.3 181.9h0M320.8 187.2h0M318.4 187.4h0M328.1 188.4h0M335.4 187.8h0M329.3 188.8h0M329.6 182.5h0M331.9 188.9h0M322.7 183.9h0M337.3 187.8h0M330 183.9h0M333.9 188.7h0M333.8 187.9h0M336 187.9h0M336.4 185.5h0M325.9 190.9h0M322.6 181.9h0M331.2 187.9h0M324.6 187.8h0M321.7 187.6h0M337.5 180.2h0M327.3 187.4h0M333.2 179.5h0M332.7 185.7h0M321.7 184.1h0M334.5 182.1h0M319.6 183.4h0M324.7 187.9h0M336.9 182.6h0M332.6 189.7h0M334.2 176.8h0M335.7 181.4h0M334.3 182.2h0M329.5 187.3h0M334.1 182.9h0M335 186.9h0M336.8 184.4h0M336.5 187.5h0M367.4 174.7h0M376.3 183.8h0M362.4 187.8h0M363.4 180.9h0M378.5 179.1h0M369.8 180.1h0M362.9 188h0M371.6 182.6h0M364.5 186h0M360.8 173.2h0M374.5 170.4h0M379.8 183.3h0M374.9 182.2h0M376.5 178.1h0M363 188.5h0M364.6 183.1h0M367.9 185.8h0M376.8 180.2h0M369.6 188.2h0M378 183.8h0M361.8 185.3h0M372.8 174.9h0M370 183.5h0M364.5 186.1h0M378.3 184.7h0M362.5 184h0M362.9 187.5h0M369.4 183.9h0M373 179.5h0M369.1 187.4h0M374.7 184.3h0M369.7 186h0M373.7 179.1h0M365.1 182.3h0M374.1 181.8h0M363.2 176.7h0M372.3 185.2h0M364.9 185h0M376 177.5h0M373 178.9h0M361.2 185.1h0M379.7 178.2h0M361.2 185.4h0M365.2 174.4h0M364.7 182h0M378.8 181.4h0M378.6 185.2h0M363.4 188.2h0M375.4 184.3h0M379.7 180h0M364.1 179.6h0M363.6 184.6h0M362.5 180.9h0M378 175.4h0M360.4 175.2h0M371.4 177.9h0M370.3 183.5h0M372.2 177.7h0M361.9 187.3h0M371.2 185h0M368.3 186.2h0M375.2 184.5h0M376.8 179.6h0M369.5 187.6h0M373.3 184.3h0M368.9 186.8h0M379.7 182.2h0M367.4 185.5h0M374.9 175.3h0M377.2 187.6h0M367.7 184.1h0M375.5 184.2h0M375.6 185.2h0M361.9 186.8h0M374.1 180.5h0M370.7 184.7h0M368.5 181.9h0M373.2 173.3h0M374.9 176.7h0M378.5 178h0M374.6 184.4h0M373.9 175.8h0M368.9 177.1h0M364 173.8h0M369.1 181.8h0M365.4 185.8h0M367.3 184.1h0M362.3 185.3h0M379.8 181h0M378.9 179.3h0M375.3 183.2h0M365.3 184.9h0M360.8 183.6h0M377.9 175.2h0M366.9 179.2h0M416.3 177.2h0M407 182.6h0M416.3 183.6h0M409.2 167.4h0M415.5 183.1h0M413.4 184.6h0M412.5 178.9h0M405.6 185h0M406.8 184.3h0M404.5 184.8h0M409.2 180.6h0M405 181.5h0M416.1 180.3h0M408.6 176.8h0M409.6 183h0M410.2 184.8h0M412.7 185.3h0M408.7 166.7h0M413.8 178h0M412.2 180.8h0M413 169.9h0M406.5 179h0M407.9 182h0M414.5 181.5h0M414.9 175.1h0M411.5 184.4h0M404.2 181.8h0M413.3 185.2h0M404.9 185.7h0M406.2 180.5h0M404.1 184.4h0M407.4 178.4h0M416.6 185.2h0M405.5 172.7h0M416.4 184.2h0M408.3 179.2h0M408.1 180.4h0M410.1 183.4h0M404.7 185.2h0M406.1 185.9h0M412 179.8h0M407.4 176.8h0M413.3 184.7h0M410.3 184.1h0M415.9 180.4h0M404.7 184.8h0M412.9 184h0M413.2 185.4h0M414.2 178.5h0M405.2 181.6h0M406.4 180.2h0M414.3 178.6h0M407 184.9h0M412.5 181.9h0M405.8 185.3h0M411.5 184.9h0M412.1 184.3h0M407.3 181.9h0M410.8 179.1h0M404.4 179.2h0M406.8 184h0M412.2 180h0M411.9 174.2h0M406.6 184.2h0M412.5 184.5h0M406 185.1h0M413.9 178.2h0M444.4 174.2h0M438 182.2h0M443.3 175.9h0M436.2 174.6h0M446.7 179h0M438.4 177.4h0M445.8 180.5h0M437.3 181.7h0M443.2 183.1h0M440.6 178.9h0M442.3 183.7h0M440.8 174.6h0M435.7 173.9h0M440.7 175.3h0M445 179.1h0M445.8 180.4h0M433.5 178.8h0M445.4 170.1h0M446.2 178.3h0M445.9 177.6h0M435.2 180.7h0M444.1 179.5h0M441.4 181.6h0M437 181.3h0M440.2 179.2h0M434.5 184.2h0M437.8 177.3h0M443.4 182.4h0M436.7 180.8h0M435.6 181.2h0M445.5 180.3h0M441.2 176.5h0M443.4 177.6h0M442.9 182.9h0M444.6 168.8h0M433.9 168.8h0M439.2 182.7h0M434.1 175.7h0M442.4 183.8h0M439.5 178h0M446.8 179.8h0M443.6 181.9h0M435.9 184.6h0M438.8 178.7h0M437.3 182.7h0M436.2 184.7h0M435.8 183.7h0M440.1 181.4h0M439.7 179.9h0M446.4 178.6h0M446 178.6h0M435.9 181.1h0M435.2 184.7h0M434.2 177.7h0M446.4 179.3h0M438 180.7h0M438 177.7h0M438.5 182.7h0M445 177.1h0M433.3 172.6h0M443.1 182.1h0M441.8 171.4h0M438.7 180.7h0M437.3 179.7h0M442.2 177.9h0M446.1 181h0M438.2 174.1h0M444 178.2h0M442.4 182.5h0M468.8 186.7h0M462.7 184.1h0M464.2 184.8h0M469.9 183.8h0M468.5 186h0M469.8 185.8h0M469.7 182.4h0M470.3 179.2h0M467 185.1h0M469.2 184.3h0M461.9 175.4h0M468.7 181.7h0M468.1 186.5h0M465.4 178.2h0M470.2 174h0M462.5 181.9h0M466.3 185.9h0M462.5 186.8h0M465.5 183.5h0M463.5 184.3h0M466.3 181.5h0M466.6 188h0M469.5 184.9h0M462.3 183.3h0M470.3 184.1h0M466.2 186.5h0M461.2 185.8h0M462.1 185.9h0M467 184.8h0M470.1 181.1h0M464.4 171h0M467 185h0M469.3 181.8h0M464.4 181h0M463.8 169h0M463.3 169.2h0M461.5 187.1h0M466.3 187.3h0M465.8 187h0M469 181.8h0M467.5 175.6h0M470.5 180.6h0M467.8 188.1h0M461.4 184.3h0M470.3 184.7h0M466.4 188.6h0M464.9 174.5h0M466.6 180.3h0M461 185.8h0M462.6 178.8h0M461.9 174.2h0M488.3 183.4h0M485.6 181h0M487.5 181.7h0M488.9 184.1h0M487.8 182.8h0M489.8 178.6h0M489.9 180.8h0M485.3 171.4h0M487.6 182.1h0M485.7 182h0M489.3 176.7h0M487.4 178h0M485 180.8h0M486.3 183h0M486.3 177.9h0M489.5 183.8h0M485.2 176.4h0M488.8 179.5h0M488.7 179.1h0M485.5 184h0M486.3 184.6h0M491.5 178.4h0M489 168.4h0M490.1 182.7h0M486.1 184.2h0M490 177.6h0M487.4 182.1h0M485.5 181h0M489.3 174h0M490.5 173.3h0M487 181.8h0M485.9 166.7h0M484.8 182.6h0M485.6 171.9h0M490.5 181.2h0M490.5 172.3h0M486.9 183.5h0M489.8 182.2h0M484.2 171.9h0M487 182h0M488.3 183.2h0M483.4 182.2h0M486.5 184.7h0M486.4 177.7h0M486.1 179.1h0M488.6 183.8h0M483.4 179.1h0M504.2 183.8h0M506.5 180.6h0M506.2 176.9h0M506 182.9h0M505.5 175.2h0M506 177.3h0M505.1 181.1h0M507.7 176h0M506.3 183.9h0M506.2 184.1h0M507.5 167h0M506.7 183.1h0M507.2 183.7h0M507.1 181.1h0M503.7 175.9h0M505.4 175.2h0M506.5 180.8h0M507.2 183.5h0M507.4 182.6h0M503.7 184.7h0M503.9 185.9h0M506.2 183.7h0M504.3 183.7h0M504.8 172h0M507.4 174.6h0M507.8 181.6h0M506.9 183.1h0"/></defs>
<use href="#f01" stroke="#3f6a90" stroke-width="2.3" stroke-linecap="round" fill="none"/>
<use href="#f01" stroke="#3f85bb" stroke-width="1.35" stroke-linecap="round" fill="none"/>
<path stroke="#1d1856" stroke-width="2.45" stroke-linecap="round" fill="none" d="M50.9 161h0M58.4 165.2h0M72.6 152.1h0M75.5 156.9h0M63 169.4h0M78.9 169.6h0M85.2 169.4h0M65.3 172.5h0M66.5 176h0M83.2 174.2h0M53.8 171.9h0M57.2 171.9h0M74 173h0M80.9 178.8h0M84.9 177.7h0M153.5 160.2h0M155 160.2h0M149.6 168.5h0M136.3 173.7h0M143.3 171.7h0M149.6 174.2h0M156 176h0M131.2 176h0M155.6 176h0M210.4 160.6h0M198.8 165.6h0M198.8 170.8h0M199.2 172h0M209.2 166.2h0M209.2 169.6h0M211.5 173h0M196.5 178.8h0M202.3 178.3h0M206.3 178.8h0M215.8 165.6h0M215.8 168.5h0M260.8 169.8h0M266.5 171.7h0M256.2 173h0M257.2 174.2h0M252.1 176h0M264.8 176h0M268.3 178.3h0M310.6 154h0M309.2 162.7h0M314.6 162.7h0M309.2 167.5h0M313.5 169.6h0M297.5 167.9h0M296.2 176h0M309.2 174.8h0M340.3 162.5h0M340 165.2h0M339.8 168h0M340 170.8h0M340.3 173h0M353.1 156.8h0M353.1 168.5h0M357.1 171.9h0M357.1 174.8h0M348.5 174.8h0M388.7 170.2h0M384.6 174.3h0M385.6 175.5h0M389.4 179.4h0M398.3 179.4h0M423.7 175.4h0M420.8 180h0M459.6 156.3h0M459.6 162.7h0M459.6 166.7h0M459.6 170.2h0M453.6 169.6h0M456.2 170.5h0M448.1 170.8h0M448.1 174.8h0M475.1 164.8h0M475.1 166.6h0M474.5 175.4h0M480.3 169.3h0M481.2 167.7h0M480.8 171.3h0M498.7 174.5h0"/>
<path stroke="#415468" stroke-width="2.45" stroke-linecap="round" fill="none" d="M106.3 144.8h0M106.3 164.6h0M119.4 169h0M113.3 172.2h0M125.2 170.8h0M106.3 173.8h0M101.2 174.8h0M94.2 174.8h0M101 174.8h0M170.8 157.2h0M170.8 161h0M160.8 165.9h0M161.7 170.5h0M170.8 169.4h0M181.8 169.4h0M167.1 174.8h0M183.3 174.2h0M187.9 175.2h0M173.5 173h0M178 173.7h0M223.8 165.2h0M241.2 164.8h0M233.7 173.7h0M234.5 175h0M241.7 174.2h0M223.8 173h0M275.4 169.4h0M275.8 170.5h0M277.5 174.5h0M282.1 175.2h0M291.3 172.2h0M291.3 178.8h0M331.9 77.3h0M331.9 90.6h0M331.9 115.1h0M331.9 125.9h0M331.9 127.3h0M337.4 154.4h0M326 165h0M328.3 168.7h0M320.8 176h0M322 176h0M330 174.8h0M332.3 174.8h0M324.8 178.8h0M364 171.7h0M368.7 171h0M371 171.7h0M364.6 175.4h0M375.5 159.2h0M375.5 166.2h0M380.4 169.4h0M380.4 173h0M374.6 176h0M407.8 168.7h0M404 171.3h0M407.8 172.2h0M407.8 175.4h0M413.6 174.8h0M438.4 41.2h0M438.4 51.5h0M438.4 60.5h0M438.3 94.8h0M438.3 97.7h0M438.3 105.5h0M438.3 107.2h0M438.3 118.7h0M438.3 137.5h0M435.4 154.8h0M438.3 159.8h0M438.3 163.6h0M444 164.1h0M443.5 168.7h0M438.3 171h0M434.2 173h0M464.1 168.2h0M468.2 172.9h0M470.6 167h0M471.4 165h0M470.4 176h0M490.6 163.8h0M484.8 175.4h0M489.4 175.4h0M503.6 174h0"/>
<rect x="68.9" y="170.6" width="1.7" height="30" fill="#fff"/>
<rect x="302.3" y="170.6" width="2.5" height="30" fill="#fff"/>
<line x1="51.5" x2="509.5" y1="132.9" y2="132.9" stroke="#f0c4cc" stroke-width="1.2"/>
<line x1="52" x2="509.5" y1="132.9" y2="132.9" stroke="#a8636f" stroke-width="1.1" stroke-dasharray="1.9 1.5"/>
<path stroke="#222" stroke-width="1.3" fill="none" d="M50.8 25.3V203.6 M50.2 200.6H512" />
<path stroke="#222" stroke-width="1" fill="none" d="M47.3 200.6H50.8M47.3 176.1H50.8M47.3 151.6H50.8M47.3 127.2H50.8M47.3 102.7H50.8M47.3 78.2H50.8M47.3 53.7H50.8M47.3 29.2H50.8M123.5 200.6V203.8M195.4 200.6V203.8M268.2 200.6V203.8M340 200.6V203.8M412.3 200.6V203.8M485.4 200.6V203.8M508.5 200.6V203.8"/>
<rect x="47.7" y="28.3" width="1.9" height="2" fill="#333"/>
<text x="43.6" y="202.9" font-size="6.6" text-anchor="end" fill="#333" stroke="#333" stroke-width="0.18">0</text>
<text x="43.6" y="178.5" font-size="6.6" text-anchor="end" fill="#333" stroke="#333" stroke-width="0.18">2</text>
<text x="43.6" y="154" font-size="6.6" text-anchor="end" fill="#333" stroke="#333" stroke-width="0.18">4</text>
<text x="43.6" y="129.5" font-size="6.6" text-anchor="end" fill="#333" stroke="#333" stroke-width="0.18">6</text>
<text x="43.6" y="105" font-size="6.6" text-anchor="end" fill="#333" stroke="#333" stroke-width="0.18">8</text>
<text x="43.6" y="80.5" font-size="6.6" text-anchor="end" fill="#333" stroke="#333" stroke-width="0.18">10</text>
<text x="43.6" y="56.1" font-size="6.6" text-anchor="end" fill="#333" stroke="#333" stroke-width="0.18">12</text>
<text x="43.6" y="31.6" font-size="6.6" text-anchor="end" fill="#333" stroke="#333" stroke-width="0.18">14</text>
<text transform="translate(72.6 207.6) rotate(-90)" font-size="7.2" text-anchor="end" fill="#333" stroke="#333" stroke-width="0.15">1</text>
<text transform="translate(111.4 207.6) rotate(-90)" font-size="7.2" text-anchor="end" fill="#333" stroke="#333" stroke-width="0.15">2</text>
<text transform="translate(147.6 207.6) rotate(-90)" font-size="7.2" text-anchor="end" fill="#333" stroke="#333" stroke-width="0.15">3</text>
<text transform="translate(177.6 207.6) rotate(-90)" font-size="7.2" text-anchor="end" fill="#333" stroke="#333" stroke-width="0.15">4</text>
<text transform="translate(207.2 207.6) rotate(-90)" font-size="7.2" text-anchor="end" fill="#333" stroke="#333" stroke-width="0.15">5</text>
<text transform="translate(235.7 207.6) rotate(-90)" font-size="7.2" text-anchor="end" fill="#333" stroke="#333" stroke-width="0.15">6</text>
<text transform="translate(261.1 207.6) rotate(-90)" font-size="7.2" text-anchor="end" fill="#333" stroke="#333" stroke-width="0.15">7</text>
<text transform="translate(285.7 207.6) rotate(-90)" font-size="7.2" text-anchor="end" fill="#333" stroke="#333" stroke-width="0.15">8</text>
<text transform="translate(308.8 207.6) rotate(-90)" font-size="7.2" text-anchor="end" fill="#333" stroke="#333" stroke-width="0.15">9</text>
<text transform="translate(331.4 207.6) rotate(-90)" font-size="7.2" text-anchor="end" fill="#333" stroke="#333" stroke-width="0.15">10</text>
<text transform="translate(352.9 207.6) rotate(-90)" font-size="7.2" text-anchor="end" fill="#333" stroke="#333" stroke-width="0.15">11</text>
<text transform="translate(374.9 207.6) rotate(-90)" font-size="7.2" text-anchor="end" fill="#333" stroke="#333" stroke-width="0.15">12</text>
<text transform="translate(394.9 207.6) rotate(-90)" font-size="7.2" text-anchor="end" fill="#333" stroke="#333" stroke-width="0.15">13</text>
<text transform="translate(411.8 207.6) rotate(-90)" font-size="7.2" text-anchor="end" fill="#333" stroke="#333" stroke-width="0.15">14</text>
<text transform="translate(428.8 207.6) rotate(-90)" font-size="7.2" text-anchor="end" fill="#333" stroke="#333" stroke-width="0.15">15</text>
<text transform="translate(443.1 207.6) rotate(-90)" font-size="7.2" text-anchor="end" fill="#333" stroke="#333" stroke-width="0.15">16</text>
<text transform="translate(456.8 207.6) rotate(-90)" font-size="7.2" text-anchor="end" fill="#333" stroke="#333" stroke-width="0.15">17</text>
<text transform="translate(469.5 207.6) rotate(-90)" font-size="7.2" text-anchor="end" fill="#333" stroke="#333" stroke-width="0.15">18</text>
<text transform="translate(480.9 207.6) rotate(-90)" font-size="7.2" text-anchor="end" fill="#333" stroke="#333" stroke-width="0.15">19</text>
<text transform="translate(489.9 207.6) rotate(-90)" font-size="7.2" text-anchor="end" fill="#333" stroke="#333" stroke-width="0.15">20</text>
<text transform="translate(498.6 207.6) rotate(-90)" font-size="7.2" text-anchor="end" fill="#333" stroke="#333" stroke-width="0.15">21</text>
<text transform="translate(507.2 207.6) rotate(-90)" font-size="7.2" text-anchor="end" fill="#333" stroke="#333" stroke-width="0.15">22</text>
<text transform="translate(281.4 227.2) scale(0.765 1)" font-size="8.6" text-anchor="middle" fill="#222" stroke="#222" stroke-width="0.25">Chromosome</text>
<text transform="translate(28.8 112.6) rotate(-90) scale(0.77 1)" font-size="8.8" text-anchor="middle" fill="#222" stroke="#222" stroke-width="0.2">&#8211;log10 <tspan font-style="italic">P</tspan>-value</text>
<text x="281.8" y="18.9" font-size="9.8" text-anchor="middle" fill="#222">METAL with standard GWAS</text>
<text x="8.1" y="18.9" font-size="13" font-weight="bold" fill="#111">A</text>
<path fill="#372d92" d="M50.4 440.3L50.4 417.2L51.4 417L52.4 419.5L53.4 419.2L54.4 418.5L55.4 417.5L56.4 417.8L57.4 420.4L58.4 420.8L59.4 421.9L60.4 423.7L61.4 424.8L62.4 422.8L63.4 424L64.4 426.3L65.4 426.7L66.4 428.3L67.4 428.7L68.4 427.5L69.4 423.6L70.4 420.7L71.4 420.4L72.4 420L73.4 419.3L74.4 419.1L75.4 419.8L76.4 418.2L77.4 418.8L78.4 419.9L79.4 422.1L80.4 422.6L81.4 421.1L82.4 422L83.4 420.7L84.4 420L85.4 419.4L86.4 421.6L87.3 422.4L87.3 440.3zM128.1 440.3L128.1 423.6L129.1 423.6L130.1 423.1L131.1 423.6L132.1 421.5L133.1 422.6L134.1 424.1L135.1 424.5L136.1 424.2L137.1 423.2L138.1 422.9L139.1 420.3L140.1 420.6L141.1 422.2L142.1 423.8L143.1 422.4L144.1 422.9L145.1 422.4L146.1 422.7L147.1 422.6L148.1 422.8L149.1 424.4L150.1 425.7L151.1 422.7L152.1 421.6L153.1 421.7L154.1 422.4L155.1 422L156.1 422.7L157.1 423L158.1 422.5L158.8 421.1L158.8 440.3zM190.3 440.3L190.3 428.7L191.3 430.1L192.3 428.2L193.3 427.4L194.3 428.2L195.3 427.8L196.3 427.4L197.3 429.8L198.3 430.9L199.3 429.3L200.3 426.6L201.3 427.1L202.3 427.6L203.3 427L204.3 427.1L205.3 429.2L206.3 428.6L207.3 426.6L208.3 426.3L209.3 428.7L210.3 428.9L211.3 429.8L212.3 429.8L213.3 430.1L214.3 428.4L215.3 426.2L216.3 427.4L216.9 428.3L216.9 440.3zM246.5 440.3L246.5 421.2L247.5 422.4L248.5 423.6L249.5 426L250.5 423.9L251.5 422.6L252.5 422.8L253.5 423.9L254.5 423.3L255.5 424.4L256.5 425L257.5 424.4L258.5 421.3L259.5 421L260.5 422.2L261.5 422.8L262.5 422.9L263.5 423.6L264.5 423.3L265.5 421.7L266.5 421.1L267.5 422.7L268.5 424L269.5 424.8L269.7 424.3L269.7 440.3zM295.4 440.3L295.4 417.2L296.4 418L297.4 419L298.4 419.7L299.4 418.9L300.4 420.2L301.4 420.7L302.4 420.1L303.4 418L304.4 420.3L305.4 420.9L306.4 422.1L307.4 421.4L308.4 421.5L309.4 419.9L310.4 417.2L311.4 417.9L312.4 419.3L313.4 420.1L314.4 418.6L315.4 418.9L316.4 418.6L316.6 419.6L316.6 440.3zM338.5 440.3L338.5 423.3L339.5 422.3L340.5 421.5L341.5 423L342.5 422.7L343.5 421.1L344.5 421.8L345.5 423.5L346.5 423.9L347.5 422.6L348.5 421.1L349.5 420.3L350.5 420.4L351.5 419.9L352.5 421.9L353.5 422.3L354.5 421.7L355.5 421.6L356.5 421.3L357.5 421.8L358.5 421.3L359.5 423.2L359.5 423.8L359.5 440.3zM382.8 440.3L382.8 423.4L383.8 420.6L384.8 421.3L385.8 423.3L386.8 423.2L387.8 423.5L388.8 422.1L389.8 424.8L390.8 425.5L391.8 428.1L392.8 426.2L393.8 424.4L394.8 421.1L395.8 420.6L396.8 421.1L397.8 421L398.8 419.7L399.8 421.8L400.8 422.9L400.8 423.4L400.8 440.3zM420.3 440.3L420.3 423.1L421.3 421.9L422.3 421.9L423.3 423.8L424.3 423.6L425.3 421.2L426.3 421.7L427.3 422.1L428.3 422.4L429.3 423.2L430.3 424L431.3 425L432.3 424.4L432.3 423.3L432.3 440.3zM447.7 440.3L447.7 420.7L448.7 417.5L449.7 418.4L450.7 419L451.7 419.1L452.7 418.7L453.7 420.1L454.7 419.7L455.7 417.8L456.7 417.4L457.7 418.7L458.7 419.8L459.7 420.4L460 420.6L460 440.3zM471.5 440.3L471.5 414.8L472.5 416.2L473.5 414.3L474.5 413.2L475.5 414.2L476.5 413.5L477.5 413.8L478.5 416.8L479.5 417.4L480.5 416.6L481.5 414L482.3 414.3L482.3 440.3zM494 440.3L494 424.3L495 423.9L496 424.7L497 422.9L498 420.5L499 419.1L500 420.1L500.9 419.7L500.9 440.3z"/>
<path fill="#3f85bb" d="M89.4 440.3L89.4 422.3L90.4 425.5L91.4 426.3L92.4 425.5L93.4 424L94.4 424.1L95.4 422.3L96.4 421.2L97.4 423.4L98.4 424.5L99.4 423.2L100.4 422.6L101.4 423.3L102.4 422.4L103.4 422.5L104.4 423.4L105.4 426.3L106.4 424.8L107.4 424.1L108.4 423.9L109.4 424.2L110.4 423.8L111.4 423.4L112.4 424.7L113.4 425.1L114.4 423L115.4 422L116.4 422.7L117.4 421.2L118.4 421.9L119.4 424.4L120.4 424.5L121.4 424.5L122.4 421.9L123.4 423.5L124.4 424.6L125.4 423.6L126.4 424.6L126.5 424.4L126.5 440.3zM159.9 440.3L159.9 424.6L160.9 424.8L161.9 424.1L162.9 423.7L163.9 424.8L164.9 423.6L165.9 423.4L166.9 424.6L167.9 426.1L168.9 424.2L169.9 423.3L170.9 422.4L171.9 422.6L172.9 421.7L173.9 422.8L174.9 424.6L175.9 424.4L176.9 422.6L177.9 423.5L178.9 422.5L179.9 423.9L180.9 424.6L181.9 426L182.9 426.3L183.9 423.1L184.9 422.4L185.9 423.5L186.9 423.4L187.9 422.6L188.8 424.6L188.8 440.3zM218.8 440.3L218.8 414.5L219.8 414.3L220.8 412.4L221.8 412.1L222.8 411.7L223.8 414.7L224.8 418.8L225.8 423.9L226.8 427.4L227.8 425.7L228.8 425.3L229.8 425.9L230.8 425.8L231.8 425.8L232.8 428L233.8 428.7L234.8 427.7L235.8 426L236.8 425.2L237.8 425.2L238.8 424.4L239.8 426.1L240.8 427.4L241.8 424.8L242.8 424.2L243.8 424.3L244.6 425.3L244.6 440.3zM270.8 440.3L270.8 424.8L271.8 424.6L272.8 421.5L273.8 422.2L274.8 423.3L275.8 424.1L276.8 422.5L277.8 422.9L278.8 422.2L279.8 421.5L280.8 420.7L281.8 421.9L282.8 424.1L283.8 424.6L284.8 422.7L285.8 423.9L286.8 423.3L287.8 422.7L288.8 423L289.8 425L290.8 424.7L291.8 423.3L292.8 421.5L293.8 421.9L294.6 420.8L294.6 440.3zM316.9 440.3L316.9 422L317.9 422.3L318.9 422.2L319.9 422.8L320.9 424.2L321.9 424L322.9 421.1L323.9 421.6L324.9 422.7L325.9 423.9L326.9 424.1L327.9 425.9L328.9 425.4L329.9 422.2L330.9 421.4L331.9 421.8L332.9 423.4L333.9 422.7L334.9 422.5L335.9 423.8L336.9 420.8L337.9 420L338.5 421.2L338.5 440.3zM359.5 440.3L359.5 421.9L360.5 421.4L361.5 421L362.5 419.4L363.5 420.2L364.5 421.4L365.5 422.2L366.5 421.3L367.5 421.2L368.5 420.5L369.5 421.2L370.5 421L371.5 422.6L372.5 424.8L373.5 422.9L374.5 421.9L375.5 421.7L376.5 421L377.5 420.8L378.5 420.6L379.5 422.3L380.5 421L381.1 420.5L381.1 440.3zM403.1 440.3L403.1 422.1L404.1 422.4L405.1 420.7L406.1 420L407.1 419.9L408.1 422.1L409.1 422.2L410.1 423.1L411.1 423.4L412.1 422.7L413.1 421.1L414.1 420.3L415.1 421.3L416.1 421.3L417.1 422L417.7 421.4L417.7 440.3zM432.3 440.3L432.3 419.4L433.3 421.2L434.3 421.3L435.3 420.5L436.3 419.8L437.3 420.2L438.3 420.8L439.3 421.4L440.3 421.7L441.3 423.1L442.3 421.3L443.3 418.6L444.3 418.5L445.3 420L446.3 419.4L447.3 419.6L447.7 421L447.7 440.3zM460 440.3L460 426.3L461 426L462 426.1L463 428.3L464 428.5L465 426.5L466 426L467 426.8L468 428.3L469 428.1L470 428.5L471 428.6L471.5 428.2L471.5 440.3zM482.3 440.3L482.3 418.4L483.3 418L484.3 418L485.3 417.7L486.3 416.5L487.3 416.1L488.3 418L489.3 418.5L490.3 418L491.3 416.3L492.3 416.3L492.7 416.2L492.7 440.3zM502.7 440.3L502.7 426.1L503.7 426.4L504.7 427L505.7 425.7L506.7 426L507.7 424.5L508.7 423.5L508.7 423.7L508.7 440.3z"/>
<path stroke="#fff" stroke-opacity="0.85" stroke-width="1.1" stroke-linecap="round" fill="none" d="M65.3 431.9h0M69 425.4h0M72.5 428.4h0M58.8 421.9h0M52.3 416.1h0M53.8 420.9h0M80.3 427.4h0M84.7 426.3h0M71.8 424.1h0M52.3 419.8h0M60.8 428.6h0M54.1 421.9h0M64.6 429.3h0M65.6 425.2h0M76.7 424.9h0M72.2 417.8h0M72.2 427.3h0M85.3 425.9h0M122.2 428.4h0M110.1 424.9h0M102.1 419.8h0M121.1 427.9h0M94.3 431.4h0M121.1 420.5h0M114.8 420.8h0M109.2 430h0M102.9 423.9h0M113.6 422.7h0M112.3 425.5h0M124.4 422h0M115.1 417.9h0M100.2 419.7h0M96 423.9h0M96.8 427.6h0M94.2 427.6h0M120.3 422.3h0M98.3 429.5h0M106.9 432.1h0M102.4 422.9h0M123.6 423.3h0M123.9 430.6h0M97.7 426.1h0M123 419.9h0M119.8 430h0M116.5 425.2h0M94.3 431.8h0M94.4 429.5h0M115.6 421.3h0M114.2 424h0M116.5 418.2h0M122.7 423.1h0M137.2 430h0M151.8 422.6h0M131.9 421.2h0M156.3 420.3h0M152 425.3h0M144.9 425.6h0M141 425h0M132.1 430.2h0M132.5 420h0M148.2 427.9h0M151.9 427.4h0M155.4 419h0M129.9 423.1h0M151.2 421.3h0M144.3 428.3h0M170.4 419.1h0M186.7 430h0M182.5 421.9h0M172.2 418.6h0M180.2 429.1h0M181.8 431.5h0M164.5 419.3h0M163.8 430.4h0M182.9 427.9h0M167.5 432.1h0M164.5 423.2h0M161.4 432.5h0M172.1 427h0M182.2 429.1h0M187 428.2h0M185.4 430.6h0M163.5 429.3h0M167.3 425.2h0M170.2 430.8h0M163 425.2h0M164.7 431.5h0M174.2 428h0M174.9 429.8h0M170.1 423.6h0M180.7 428.3h0M184.4 422.4h0M194.7 434.9h0M209.8 430.9h0M215.3 430.9h0M194.6 427.7h0M194.9 432.6h0M206.5 435.6h0M192 425.8h0M214.8 427.1h0M198 437.8h0M194.4 434.9h0M213 434.2h0M206.2 425.4h0M206.1 433.1h0M224.4 416.4h0M227.7 432.1h0M238.1 424h0M243 420.4h0M221.7 412.5h0M222.1 420.1h0M228.5 426h0M239.8 428.4h0M234.7 428.2h0M230.8 432.9h0M226.6 429h0M231.2 422.6h0M223.6 415.8h0M238.5 425.6h0M221.6 420.2h0M223.4 420h0M221.3 416.7h0M223.6 412.6h0M229.9 430.9h0M230.2 426.5h0M229.5 428.1h0M226.7 434.3h0M224.6 415.2h0M263.4 422h0M263.2 419.8h0M250.5 425.1h0M249.7 427.6h0M255 429.4h0M258 431.5h0M265 421.7h0M266.5 429.3h0M259.4 424h0M251.4 423.2h0M252.4 421.9h0M278.8 422.4h0M282.5 423.3h0M293.1 427h0M280 425.3h0M291.5 420.9h0M285.4 431.3h0M280.1 427.4h0M289 423.3h0M275.3 429.6h0M280.9 420.7h0M281.9 427.6h0M290.9 431.7h0M288.2 420.3h0M280 416.6h0M276.5 423.2h0M276 425.4h0M275 427.4h0M280.8 419.3h0M286.6 423.2h0M272.8 428.3h0M288 429h0M298 418.1h0M314.7 420.4h0M299.4 421.5h0M298 423.5h0M301.1 420h0M308.5 429h0M297.1 423.7h0M307.5 423.5h0M304.6 417h0M303.3 421.5h0M319.4 421.1h0M335.7 422.4h0M323.9 424.9h0M325.3 431.3h0M336.7 419.2h0M322.6 419.9h0M326.7 423.2h0M330.9 428.2h0M319.7 418.4h0M320.5 423.2h0M320.9 425.2h0M325.2 428.5h0M336.4 430.5h0M326.2 427.6h0M320.9 427.4h0M334.8 429.7h0M321 421.9h0M335.2 427.6h0M332.6 419.4h0M353 428.4h0M344.7 422.1h0M350.8 416.4h0M356.9 426.9h0M348.9 422.1h0M341.4 426h0M353.9 420h0M341.8 427.6h0M348.5 427.7h0M347.4 430.7h0M371.6 419.4h0M363.5 423.8h0M363.4 426.5h0M362 416h0M379.5 423.3h0M371.3 425.9h0M363.2 419.1h0M367.9 426.1h0M375.6 425.7h0M364.4 423h0M378 418.4h0M367.5 424.4h0M379.5 418.5h0M373.9 423.6h0M370.8 427.9h0M362.8 422.1h0M366.9 426.1h0M374.3 422.5h0M363.8 425.6h0M386.4 430.4h0M393.9 428.2h0M388.9 428.4h0M392.2 426.8h0M399.2 426.2h0M394.5 428.6h0M394.7 422.6h0M398.6 427.7h0M394.4 423.9h0M409.3 419h0M409.2 427.6h0M408.3 420.3h0M410.8 430.5h0M412.1 419.5h0M409.6 421.1h0M414 421.2h0M409.7 429.4h0M408 423.4h0M416 421.6h0M410.9 427.3h0M408.5 426h0M409.5 428.7h0M430.1 429.6h0M429.3 424.6h0M425.7 418.9h0M424.2 431.4h0M424.4 431.5h0M429.3 430.9h0M444.7 419.7h0M433.8 417.9h0M440.6 418.5h0M440.7 418.5h0M439.6 424.8h0M440.5 420.8h0M444.2 426.8h0M443.9 426h0M445.8 420.1h0M440.5 423.3h0M443.6 416.3h0M436.6 421.2h0M440.6 430.6h0M457.5 423.9h0M450 418.6h0M452.9 421.7h0M449.4 426.2h0M454.1 419.5h0M449.5 421.8h0M467.5 431.5h0M469.5 433.3h0M464.8 426.1h0M461.9 432h0M465.1 427h0M461.9 428.5h0M469.1 427h0M467.8 432.9h0M467.1 430.7h0M463.6 432.9h0M479.2 424.2h0M480.6 416.5h0M480.1 413.4h0M479.2 414.8h0M476.9 416h0M489.2 416.3h0M489.1 417.2h0M489.8 415.5h0M490.6 424.2h0M484 415.3h0M490.6 423.7h0M486 423.2h0M488.1 415.6h0M488.9 419.2h0M498.8 423.2h0M496 428.7h0M495.8 422.4h0M505.5 432.4h0M506.5 423.2h0M504.8 424.5h0M506.4 424.7h0M506.9 426.2h0"/>
<defs><path id="f10" d="M68.2 425h0M71.6 419.4h0M66.7 428.1h0M79.3 420.6h0M80.5 418.3h0M72.4 414.9h0M55.7 410.1h0M61.6 414.5h0M78.9 415.8h0M79.9 419.6h0M74.9 405.2h0M57.9 420.1h0M65.8 424.2h0M56.5 417.3h0M81.7 419.3h0M56.5 417.6h0M71.6 419.6h0M68 424.1h0M66.7 424.9h0M80.7 421.8h0M83.9 419h0M52.6 412.2h0M71.3 417h0M58.9 414.4h0M62.1 417.1h0M59.3 418.1h0M74.1 416.9h0M68.1 427.1h0M73.9 413.5h0M56.7 415h0M77 417.6h0M80.7 412.2h0M53.1 418.2h0M54.3 417h0M54.3 415.1h0M60.1 422h0M67.5 426.1h0M79 415.3h0M55.3 415.8h0M51.6 415.7h0M55.1 411.5h0M58.6 421h0M77.9 416.2h0M84 417.7h0M62.3 422.7h0M84.6 416h0M66.8 425.5h0M78.3 411.2h0M68 426.8h0M65.6 417h0M65.6 422.4h0M70.9 417.8h0M71.5 419.3h0M70.9 411.3h0M54.1 416.5h0M82.2 403.6h0M51.8 413.1h0M73.5 410.3h0M67.8 427.3h0M61.8 417.6h0M76.9 417.1h0M73.9 414h0M74.4 419.2h0M66.8 426.4h0M72.3 417.9h0M55.8 412h0M61.4 416.7h0M62 419.6h0M79.7 421.7h0M77 417.8h0M84.2 419.6h0M76.7 416.2h0M57.6 417.9h0M68.9 422.9h0M55.6 413.6h0M61.8 407.4h0M64.7 424.2h0M59.3 405.8h0M62.6 418.1h0M80.5 419.7h0M77.8 417h0M55.1 416.9h0M67.1 418.7h0M58.4 418.2h0M78.1 417.6h0M56.7 415.3h0M66.2 414.6h0M82.8 420.3h0M71 418.2h0M52.5 416.1h0M83.4 419.2h0M71.9 414.5h0M53.5 407.3h0M55.1 415.4h0M76.4 418.6h0M64.5 425.9h0M67.9 427.7h0M56.6 417.5h0M54.2 418.1h0M58.1 417.3h0M56.1 409.6h0M65.9 426.2h0M59.8 414.4h0M52.9 413h0M54.7 403.9h0M65.6 423.2h0M81.6 421.1h0M53.5 413.9h0M71.9 414.3h0M61.1 421.1h0M57.9 417.8h0M61.2 420.1h0M61.8 422.1h0M73.9 418.6h0M79.4 418.8h0M59.3 421.6h0M69.2 421.3h0M76.6 416.3h0M65.8 417h0M60.9 405.6h0M82.6 399.8h0M84.4 418.1h0M79.9 417.9h0M74 411.2h0M70.9 420.4h0M81.6 420.7h0M60.4 419.6h0M58.1 417.8h0M76.3 418.4h0M74.5 418.8h0M68 422.7h0M75.4 419.5h0M58 405.4h0M65 424.6h0M64.4 420.8h0M77.3 413.1h0M65.4 423.5h0M69.4 422.9h0M84.6 403.6h0M67.6 419.5h0M59.7 416.6h0M76.4 405.6h0M80.6 412h0M60.7 417h0M68 425.9h0M64.2 418.4h0M80.9 413h0M74.8 418.7h0M56.8 415h0M58.7 419.3h0M54.9 416.6h0M76.5 417.5h0M81.1 419.8h0M81.1 420h0M60.7 422h0M51.7 415h0M64.6 426.7h0M81.5 419.3h0M51.3 402.1h0M59.3 420.8h0M52.2 417.8h0M76.2 414.9h0M69 423.8h0M61.4 407.5h0M64.4 404.8h0M82.4 421.1h0M81.1 421.6h0M76.3 411.1h0M75.7 415.8h0M79.8 421.5h0M70.2 420h0M65.3 426.4h0M76.2 415.1h0M78.7 415.9h0M72.3 407.7h0M79.8 418.4h0M62.7 410.6h0M64.3 425.7h0M63 417.5h0M84 415.1h0M74.6 406.3h0M78.6 417.7h0M67.5 421.5h0M62.5 422.5h0M73 411.4h0M60 418.1h0M82.6 421h0M56.1 414.4h0M63 409.2h0M86.3 419h0M79.1 416.9h0M57.4 403.2h0M57.4 419.7h0M67.2 428.3h0M68.2 424.9h0M84.8 416.9h0M81.1 414.5h0M71.9 419.1h0M62 420.1h0M145.8 421.9h0M140.9 407.7h0M129.1 421h0M132 407.8h0M153.3 416h0M130.2 418.3h0M143.2 419.8h0M133.2 418.8h0M152.2 421.6h0M154.3 418.9h0M136.7 421.4h0M142.3 418.8h0M145.5 412.2h0M143.8 419h0M157.6 421.7h0M129.5 421.7h0M138.1 421.6h0M141.1 421.7h0M155.6 419.2h0M154.4 415.8h0M150.1 418.3h0M137.7 416.2h0M135 420.8h0M146.2 415.4h0M133.8 421.4h0M152.8 414.6h0M157.3 422.8h0M135.1 424.1h0M149.9 418.8h0M147.7 415.4h0M143.9 418.4h0M155.6 417.4h0M148 418.7h0M143.3 416.3h0M145.5 422h0M141.3 419.8h0M141.5 418.9h0M139.5 418.2h0M141.3 420.2h0M157.1 423.1h0M129.5 417.6h0M140.4 417.7h0M146.1 420.3h0M135.9 423.6h0M154.3 408.3h0M137.3 419.5h0M138.4 421.7h0M154.8 412.8h0M136 422.2h0M149.2 417.7h0M142.6 421.4h0M135.7 416.3h0M154 412.5h0M132.3 417.7h0M157.5 417.1h0M142.3 423h0M130.7 417.7h0M131 415.9h0M148.2 420.5h0M154.8 408.6h0M146.8 421.6h0M146 420h0M136.2 410.8h0M150.1 424.4h0M135.6 422.1h0M145.6 420.8h0M141.7 415.2h0M134.3 418.1h0M138.6 408.1h0M156.5 421.8h0M146.5 421.7h0M140.9 416.7h0M147.4 420.2h0M130 423.2h0M145.2 421.6h0M137.8 417.8h0M155 418.1h0M136.4 418.9h0M137 415.3h0M133.5 421.2h0M141.7 411.8h0M133.8 422.2h0M132.8 420.7h0M138.6 419.3h0M151 420.9h0M142.7 421.2h0M151.4 411.7h0M141.3 410.3h0M136.2 405.2h0M144.2 416.8h0M140 418.7h0M132.9 411.6h0M139.4 414.9h0M142.3 420.2h0M135 423.7h0M138.7 416.1h0M144.7 422.3h0M149.5 422.8h0M131 422.3h0M135.1 416.4h0M144.9 420.5h0M136.2 421.7h0M137.1 420.5h0M151.9 415h0M149.2 415.1h0M147.9 422.2h0M130.3 423.1h0M136.5 419.4h0M152.8 418.2h0M141.4 421.3h0M157.4 416.6h0M138.9 421.1h0M157.4 421.8h0M153.5 421.5h0M147.9 420.7h0M154.7 419.7h0M131.9 421.4h0M152.3 404.1h0M147.6 416.9h0M137.2 421h0M131.5 403.3h0M130.3 419.4h0M139.1 420h0M141.6 410.3h0M136.2 422.5h0M147.2 417h0M143.8 421.5h0M154.3 420.9h0M134 422.4h0M143.8 419.3h0M145 416.3h0M154.8 418.4h0M130.2 415.5h0M129.5 421.8h0M133.1 417.7h0M151.6 421.8h0M137.5 413.4h0M148.9 424.4h0M148.8 417.3h0M140.8 420.4h0M148 421.3h0M132.9 421h0M140.6 420.2h0M140.1 416.5h0M145 420h0M152.1 421.9h0M138.5 409h0M154 409.7h0M151.1 419.4h0M151.8 418.4h0M132.4 420.5h0M131.8 412.8h0M138.3 419.5h0M144.6 421.7h0M149.4 417.9h0M152 412.2h0M138.2 421.4h0M151 417.7h0M139.7 418.3h0M133.4 414.1h0M142.3 415.8h0M138.8 419.6h0M143.8 415.9h0M154.5 419.3h0M149 422.7h0M153.9 415h0M145 420.3h0M203.1 415.4h0M205.5 424.4h0M205.7 422h0M200.3 427h0M215.5 419.5h0M194.3 427.9h0M196.7 423.5h0M194.4 428.4h0M203.5 426.7h0M197.6 427.7h0M196.3 428.1h0M197.6 428.7h0M199.2 426.7h0M200.1 425.4h0M191.7 421.2h0M209.5 425.2h0M191.3 428.8h0M213.5 427.2h0M196.3 420.1h0M213.3 429.8h0M203.6 422.9h0M194.1 426.6h0M206.5 423.1h0M206.8 423.3h0M200.6 426.4h0M191.6 421.2h0M212.6 419.5h0M193.1 421.1h0M195.5 426.3h0M196.2 418.8h0M211.5 420.9h0M200.7 413.7h0M197.6 426h0M207.9 425.3h0M200.7 426.2h0M211 427.9h0M194.6 427h0M207.1 422.5h0M204.2 418.3h0M209.9 427.5h0M204.5 426.9h0M197.2 428.5h0M193.1 426h0M213.2 425.5h0M193.4 426.9h0M205.9 425.7h0M191.9 429.1h0M205.2 424.7h0M193.2 421h0M197.2 425h0M204.3 425.6h0M214.7 425.2h0M201.7 423.3h0M212 409.2h0M210.3 425.1h0M209 422.9h0M215 410.4h0M210 427.5h0M205.3 426.3h0M196.9 421.7h0M196.7 422.6h0M203.3 424.1h0M208.7 421.3h0M211 427.5h0M207.8 423.4h0M214.5 425h0M200.1 427.3h0M202.9 423.3h0M198.8 429.5h0M203.2 426.4h0M195.5 425.5h0M199.8 424.6h0M204.3 425.3h0M194.5 428.5h0M205.1 412.2h0M198.2 428.5h0M199.1 423.1h0M203.4 419.3h0M191.3 429.3h0M196.3 426h0M201.1 424.4h0M215.1 424.2h0M205.5 413.6h0M207.1 423h0M211.7 427.7h0M192.1 414.2h0M204.5 423.6h0M192.9 421.7h0M200.5 422h0M198.2 418.7h0M200.3 425.5h0M213.4 429.2h0M197.9 427.2h0M215.5 426.4h0M196.4 420.7h0M193.1 425.6h0M210.6 422.9h0M210.9 428.2h0M213.3 428.4h0M211.4 426.2h0M213.3 427.4h0M197.6 429.2h0M203.5 426.5h0M195.3 418.6h0M205.4 419.8h0M194.9 425.4h0M202.8 426.4h0M197.7 418.1h0M209.1 424.6h0M206.3 419.4h0M214.9 423h0M192.4 418.9h0M195.3 427.1h0M194.6 425.2h0M205.6 426.4h0M202.9 426.2h0M209 424.1h0M198.9 421.5h0M214.5 415.8h0M215.6 426.7h0M200.8 423.9h0M197.6 423.5h0M213.6 429.2h0M203.8 410.7h0M213.2 427.7h0M193.8 425.3h0M204 419.9h0M195.8 426.6h0M215.6 426.9h0M206.4 428.2h0M209.8 426h0M214.2 427.5h0M213 429.5h0M192.4 428.3h0M193.1 425.8h0M215.3 424.9h0M209 427.6h0M204 423.4h0M193.6 424h0M202.3 425.2h0M211.8 424.1h0M194.2 427.9h0M192.5 427.1h0M207 411.2h0M215.2 417.5h0M266.8 420.8h0M252.7 422.3h0M250.5 418.9h0M259.8 419.9h0M264.7 418.3h0M256.6 420.7h0M261.5 419.7h0M249.4 423.1h0M267.6 421.3h0M261.1 422h0M264 414.7h0M255.4 421.8h0M258.4 420.5h0M251.9 422h0M262.1 419.1h0M267.9 408.4h0M266.1 407.9h0M265.3 422.5h0M250.2 407.2h0M266.1 417.1h0M260.7 419.5h0M256.5 424.3h0M259.1 419.5h0M250 415.4h0M259.7 411.4h0M253.7 419.8h0M253.3 415.4h0M251.9 417.7h0M259.3 419.1h0M249.1 421.8h0M258.6 413.4h0M251.7 421.7h0M253.9 416.1h0M252.4 418.2h0M248.1 422.6h0M262.6 419.4h0M249.8 422.2h0M267.5 421h0M259.3 418.4h0M258.2 422.1h0M266.3 417.5h0M254.8 422.1h0M251.4 410h0M265.4 420.2h0M260.3 418.1h0M251.7 422.5h0M263.1 422.5h0M259.5 421h0M247.9 421.8h0M261.4 418h0M268.6 419.5h0M258.6 421.5h0M267.9 420.8h0M265.8 421.7h0M265.3 419.7h0M252 420.2h0M249 420.7h0M252.1 417h0M251.1 417.6h0M260.6 416.3h0M267.7 422h0M262 420h0M266.5 413.4h0M263.7 419.7h0M253 412.3h0M268.1 410.1h0M254.6 415.5h0M261.9 413.8h0M264.6 421h0M255.9 417h0M261.4 418.8h0M266.1 421.5h0M247.7 419.4h0M249.5 416.6h0M249.3 415.1h0M252.2 422.1h0M263.5 418.4h0M256.2 420.6h0M259.2 406.9h0M258.3 418.5h0M257.3 422h0M262.2 421.9h0M262.2 410h0M263.7 420.2h0M255 423.2h0M249.4 421.6h0M266.2 412.1h0M251.3 416.3h0M264.7 420.7h0M265.8 420.9h0M254.6 420.2h0M263 420.3h0M253.9 414.3h0M255.8 421.9h0M252.2 419.7h0M262.5 420.5h0M261.6 419.2h0M247.7 406.8h0M253.6 420.1h0M267.9 422.9h0M248.8 423.3h0M250.7 414.9h0M258.5 421.5h0M253.2 420.3h0M251.1 421.4h0M266.8 419.1h0M252.4 418.7h0M249.8 421.8h0M261.3 422h0M259.1 419.2h0M263.3 419h0M266.9 417.6h0M251.3 421.9h0M262.5 414.7h0M248.7 421.8h0M253.5 420.8h0M266.1 417.7h0M263.3 416.7h0M253.3 419.2h0M255.4 421h0M258.8 416.1h0M251 414.7h0M250.8 421.8h0M265.6 402.3h0M255.2 409.5h0M248.2 408.5h0M251.7 422.5h0M311.6 417.1h0M315.1 418.5h0M299 417.3h0M311.9 418.8h0M311.6 415h0M311.8 417.1h0M297.1 417.8h0M310.3 414.5h0M311.1 416.9h0M301.7 419.4h0M312.8 414.6h0M299.3 413.5h0M297.1 415.2h0M301.3 414h0M310.2 412.4h0M300.1 420h0M308.7 415.1h0M296.5 408.7h0M313.7 417.7h0M306.4 416.4h0M314.3 414.4h0M306.3 414.5h0M305.8 421.5h0M306.9 418.5h0M302.8 416.4h0M300.6 418.9h0M310.8 407.4h0M305.2 412.6h0M298.7 416.2h0M310.7 410.4h0M303.8 418.1h0M314.9 414.8h0M309 418.3h0M298.5 415.6h0M304.2 409.2h0M309.2 413.3h0M307.4 414.4h0M307.6 416.7h0M300 419.6h0M310 412.2h0M309.2 418.5h0M305.7 414.8h0M308.7 409.3h0M298 412.4h0M296.6 412.8h0M306.7 420.8h0M304.4 415h0M313.1 419.9h0M306.2 414h0M298.6 409.1h0M314.5 417.3h0M300.4 419.7h0M300.6 418.1h0M310 405.2h0M307.1 406.6h0M304.6 415.5h0M296.3 414.6h0M296.7 417h0M312 418.9h0M302.1 416.3h0M306.5 421.1h0M298.4 414.3h0M304.2 419.2h0M305.6 419.5h0M315.7 419.2h0M299.8 419.5h0M307 405.8h0M311.4 417.7h0M306.8 419h0M315.3 413.5h0M308 419.7h0M304.8 417.3h0M303.6 414.9h0M298 416.9h0M315.4 417h0M306.1 414.9h0M312.1 413.3h0M303.7 413h0M300.2 415.7h0M296.6 416.5h0M299.7 417.8h0M310.6 417.5h0M313.3 419.7h0M314.7 405.2h0M308.2 412.4h0M314.6 416.4h0M312.9 420.1h0M311.4 413.5h0M311.4 417.5h0M297.9 415.9h0M308.1 415.6h0M299.8 415.9h0M315.1 417.9h0M312.2 404.5h0M309.4 416.9h0M304.4 417.2h0M298.7 419.2h0M301.7 419.6h0M313.8 417.6h0M313.3 416.2h0M313.7 409h0M310.1 415.3h0M301 417h0M302.3 411.1h0M297.1 413.5h0M302.9 416.1h0M306.8 402h0M315.6 417.3h0M314.9 404.5h0M306.5 417.3h0M300.1 412.9h0M305.7 414.9h0M314.2 414.8h0M309.8 414.9h0M298.8 416.7h0M358 414.5h0M352.9 414.3h0M357 406.9h0M349.6 418.3h0M339.5 419h0M346.2 423.7h0M358.5 419.7h0M357.3 421.2h0M346.3 416.4h0M352.3 416.4h0M348.8 420.8h0M355.4 414h0M348.6 417.4h0M354.8 417.7h0M348.5 418.2h0M353.5 416.3h0M345.8 416.9h0M346.6 417.9h0M346.6 412.3h0M357.5 414.1h0M346.7 421h0M347.7 417.2h0M340 418.6h0M357.2 421h0M356.5 417.3h0M358.6 415.4h0M353.2 416.1h0M347.5 421.2h0M355.8 411.1h0M353.2 421.6h0M349 417.7h0M346.4 420.3h0M348.2 402.7h0M351.4 402.2h0M356.8 420.5h0M354.2 419.5h0M350.9 415.5h0M353.6 420.8h0M352.4 419.7h0M354.4 418.2h0M344.8 422.6h0M356.6 417.9h0M351.8 412.2h0M356.5 419h0M358.4 419h0M353.4 414.3h0M346.4 421h0M346.4 421.5h0M347.3 413.2h0M340.6 400.9h0M354.6 417.3h0M351.7 418.7h0M354.1 412.1h0M346.7 419.7h0M343.6 419.5h0M355.8 416.1h0M348 416.6h0M343 421.2h0M346.3 419.6h0M342.9 417.6h0M345.6 422.5h0M353.6 420.4h0M353.7 415.9h0M346.6 423h0M355.6 417.1h0M350.5 414.1h0M349.9 409h0M339.6 406.2h0M351.2 417.1h0M356.8 410.7h0M350.9 419.4h0M351.4 417.3h0M350.4 411.2h0M341.9 413.7h0M345.4 422.3h0M340.1 421.8h0M344.5 418.6h0M357.4 420.3h0M344.9 420.8h0M351.7 418.3h0M352.3 420.8h0M340.2 418.2h0M353.3 422h0M340.3 417.1h0M340.7 410.1h0M352.7 421.5h0M347.3 421.9h0M341.1 420.5h0M356.2 409.9h0M353.9 417.4h0M350.6 416.1h0M352 417.7h0M347 413.9h0M345.2 420.9h0M352.4 406.2h0M346 421.2h0M347.1 421.2h0M346.2 416.4h0M343 418.1h0M344.9 418.7h0M354.2 421.1h0M348.7 420.3h0M351.8 415.2h0M343.6 419.7h0M345.2 421.6h0M356.5 411.6h0M354.6 418.8h0M348.2 420.3h0M348.2 407.1h0M341.2 420.2h0M343.2 412.2h0M345.2 420.2h0M340.4 416.8h0M349.3 413.3h0M386.1 422.3h0M388.4 422.2h0M392.9 420.9h0M390.1 417.1h0M392.5 420.5h0M385.1 419.5h0M384 419.9h0M397.5 420.1h0M393.4 422.7h0M394.6 411.8h0M397.1 405.1h0M399.3 417.9h0M399.7 414.2h0M388.2 420.7h0M392.2 417.6h0M385.3 411.3h0M394.6 417.3h0M390.3 422.6h0M390.3 418.9h0M390.9 419.5h0M397.9 420h0M384 407.4h0M386.8 415.6h0M390.3 423.6h0M383.9 418.3h0M393.4 424.5h0M383.9 419.3h0M398 413.8h0M387.9 420.3h0M390.4 419.2h0M388.3 420.4h0M391.9 425.9h0M390.7 418.7h0M391.9 426.9h0M389.4 419.1h0M387.5 420.8h0M392.8 423.5h0M386.7 413.8h0M384.8 409.7h0M385.2 417.9h0M392.5 423.4h0M393.8 413.7h0M388.9 422.1h0M386.9 413.6h0M393.4 418.2h0M390 422.6h0M394.9 417.2h0M398.5 419.1h0M389.3 417.3h0M398.4 417h0M396.5 420.3h0M394.1 421.3h0M394.9 419.5h0M386.7 422.1h0M395.4 414.9h0M398.5 417.4h0M384.8 413.1h0M387.9 416.8h0M391.6 424h0M384.2 419.5h0M395.8 417.8h0M398 412.6h0M392.3 406.9h0M383.7 418.7h0M392.3 425.9h0M397.8 419.8h0M393.1 423.8h0M389.9 421.3h0M388.4 421.6h0M394.5 416.9h0M385 404.2h0M385.4 420.9h0M388.3 420.4h0M391.6 415.8h0M385.3 417.9h0M393.8 422.5h0M389.5 420.6h0M398.1 413.2h0M391.5 426.1h0M389.5 415.4h0M390.7 423h0M394 423h0M394.2 417.2h0M385.5 419.7h0M397.6 419.3h0M392.3 424.3h0M392.7 423.4h0M389.3 410.7h0M389.1 419.5h0M389.6 414.2h0M389.6 418.4h0M386.6 419.9h0M388.1 411h0M389.6 409.3h0M392.9 423.6h0M392.6 413.2h0M394.9 412.9h0M392.9 421h0M430.1 420.9h0M431.1 416.3h0M425.4 419.8h0M425.6 414.5h0M425.9 415.2h0M431.3 419h0M426.4 414.9h0M426.2 417.1h0M425.5 408.7h0M431.3 421.6h0M426.9 421.2h0M427 409.2h0M423.7 417.2h0M423.8 418.4h0M424.1 419.8h0M429.1 422.6h0M429.8 420.1h0M423.7 422.5h0M426.9 415.3h0M423 423.3h0M423.6 419.5h0M425.3 415.1h0M428.6 420.3h0M427.2 421.3h0M427.4 417.2h0M423.6 419.1h0M422.6 406h0M426.8 409.5h0M428 421.3h0M428.7 418h0M425.1 416.8h0M429 417.2h0M423.4 408.2h0M430.5 422.3h0M424.7 422.1h0M423.7 421.1h0M422.7 421.7h0M428.7 422.4h0M427.4 419.7h0M428.4 421h0M426.1 420.1h0M421.4 412.6h0M424.9 421h0M430.7 423.2h0M426.7 420.8h0M425.4 411.9h0M429.6 415.3h0M430.5 423.8h0M421.7 421.3h0M427.8 418.6h0M425 416.7h0M423.4 419.7h0M425.5 421h0M429.1 421.8h0M429.4 416.2h0M425.7 418.6h0M423.3 423.3h0M428.3 420.2h0M426.9 419.6h0M423.9 423.4h0M429 419.9h0M422.8 413.4h0M422.8 422h0M422.8 419.4h0M429.1 422.6h0M455.7 414.7h0M456.1 414.7h0M451 418.3h0M454.4 418.6h0M451.6 416.9h0M452.5 416.3h0M458.8 416.1h0M454.4 417.1h0M454.3 411.6h0M454.1 416.4h0M452.3 417.7h0M450.8 418.4h0M451.6 418.3h0M453 415.3h0M449.8 411.8h0M453.3 415.1h0M453.1 412h0M455.7 416.4h0M454.4 418.1h0M456.4 414.8h0M451 418.6h0M459 419.1h0M451.2 406h0M449.1 415.5h0M453.1 414.1h0M456.8 400.1h0M451.9 418.1h0M450.9 418.8h0M451.4 414h0M458 418.8h0M451.4 408.2h0M454.8 416.4h0M449.4 417.8h0M450.9 414.3h0M449.2 414.7h0M457.2 418.1h0M451.6 416h0M455 412h0M455.7 414.3h0M452.1 413.9h0M453.4 407.3h0M454.2 415.6h0M455.6 414.1h0M453.8 414.8h0M451.8 415.3h0M458.8 411.7h0M454.4 417.7h0M450.5 416.3h0M453.1 416.8h0M451.3 415.6h0M454.6 418.6h0M455.5 411.4h0M450.7 417.5h0M449 415h0M455.7 414.5h0M454.8 414.4h0M449.1 417.8h0M453.9 407.7h0M456 414h0M451.3 418h0M455.4 410.7h0M452.7 418.6h0M451.5 412.8h0M456.7 414.8h0M457.9 416.9h0M448.8 417h0M474.5 405.8h0M477.8 412.3h0M475.9 413h0M474.3 407.9h0M475.2 413.3h0M475.9 411.3h0M481.3 412.4h0M476 397.3h0M478.9 414h0M476 412.9h0M473.8 410.7h0M478.2 414.9h0M476.7 413.2h0M477.8 412.8h0M478.4 408.7h0M476 411.9h0M473.1 413.6h0M478 407.3h0M473.6 396.2h0M480.6 413.7h0M477.3 408.9h0M475.4 411.8h0M478.9 413.8h0M476.3 410.2h0M473.4 411.2h0M475.1 412.8h0M477.1 408.4h0M477.1 410.8h0M478.4 413.4h0M481.2 413.6h0M472.5 411.6h0M478.7 414.2h0M476 412.2h0M474.6 406h0M480.2 415.3h0M477.5 411.4h0M473.6 407.7h0M477.2 392h0M480.6 404.9h0M474.8 413h0M479.7 416.9h0M478.6 415.4h0M478.7 416.4h0M473.2 405.1h0M477 411.2h0M481.1 407.6h0M474.4 407.6h0M475.9 411.2h0M475.2 412.6h0M475.1 412.2h0M474.1 403.7h0M475.8 410.2h0M479.7 412h0M473.8 399.3h0M480.8 406.9h0M475.4 405.5h0M478.2 415.3h0M475.8 408.5h0M477.3 400.2h0M496.2 421.2h0M494.9 419.2h0M495.6 423h0M495.6 420.8h0M500 403.4h0M496.8 412.8h0M498.4 419.6h0M499.5 417.4h0M499.9 418.6h0M499.5 415.5h0M497.5 420.7h0M497.4 415.3h0M497.7 402.8h0M497.6 410.5h0M495.6 417.8h0M498 410.8h0M496.6 420.9h0M499 417.7h0M496.8 414.7h0M498.2 417.3h0M495 417.2h0M497 421.8h0M496.9 422.7h0M499.2 411.4h0M499.8 413.9h0M495.7 421.6h0M500 419.3h0M496.6 423.1h0M495.8 422.7h0M498.1 420.4h0M499.3 416.3h0M495.8 423.7h0M497.6 419.6h0M497.5 421.2h0M496.7 420.4h0M495.3 420.7h0"/></defs>
<use href="#f10" stroke="#241c6a" stroke-width="2.3" stroke-linecap="round" fill="none"/>
<use href="#f10" stroke="#372d92" stroke-width="1.35" stroke-linecap="round" fill="none"/>
<defs><path id="f11" d="M115.2 417h0M111.7 421.1h0M111 403.4h0M117.8 402.8h0M99 419.4h0M103.9 419.6h0M118.7 421.2h0M110 414h0M123.3 423h0M99.9 418.6h0M123.4 422.1h0M120 421.7h0M109.6 407.1h0M92.6 422.2h0M95.8 420.9h0M101 415h0M110.8 422h0M118.6 417.9h0M95.4 411.7h0M119.3 422h0M123.5 412.8h0M98.4 424.3h0M120.9 413.8h0M93.7 415.2h0M117.6 415.6h0M101.9 411.3h0M122.8 420.3h0M114.4 415.6h0M120.3 419.9h0M100 420.9h0M109.5 422.9h0M120.6 411.2h0M98.9 416.6h0M114.1 422.8h0M117.8 412.8h0M101.1 421.9h0M100.2 413.3h0M106.8 414.4h0M95.9 421h0M102.6 408.8h0M96 421.1h0M116.9 421.5h0M113.9 423.5h0M99 417.1h0M121.1 421.2h0M106.2 425.6h0M102.3 420.6h0M118.1 414.1h0M118 417.1h0M115 421.1h0M103.9 420.1h0M100.3 414.1h0M97.9 421.3h0M100.3 410h0M112.8 421h0M103.7 406h0M123.5 419.6h0M110.3 410.6h0M99.4 421.7h0M93.9 419.9h0M117.4 420.9h0M107.3 421.3h0M119.9 410.8h0M103.6 421.1h0M112.8 416.6h0M122.9 416h0M101.2 418h0M100.5 418.8h0M106.8 409.6h0M122.3 406.3h0M107.2 403.4h0M95.2 406.8h0M112.9 412.2h0M91.2 413.9h0M119.2 420.5h0M119.6 422.6h0M116.9 418.1h0M104.8 422.9h0M118.5 414h0M98.1 421.2h0M104.9 419.2h0M121.7 405.2h0M112.7 422.2h0M94.1 423.8h0M108.6 418.4h0M104.9 421.8h0M105.1 423.7h0M123.5 417.7h0M109.5 420.3h0M99.1 421.5h0M107.7 420.2h0M124.9 418.9h0M97.6 423h0M95.9 419h0M117.9 408h0M98.6 414.7h0M105.9 421h0M109.1 423.6h0M92.6 417.7h0M114.6 419.5h0M122.7 411.9h0M101 422.1h0M109.8 416.8h0M98.2 423.9h0M107.5 423.9h0M116.3 415.8h0M100.2 418.9h0M98.5 423h0M96.7 411.1h0M106.3 417.8h0M102.6 411.8h0M111.3 416.4h0M104.2 417.5h0M97 399.3h0M114 419h0M112.8 424.5h0M102.1 420.9h0M120.1 424.9h0M106 413.1h0M117.9 413.9h0M100.9 420.9h0M115.2 419.6h0M115.8 419h0M117.1 416.7h0M90.7 412h0M91.4 420.8h0M104 413.2h0M101.4 421.2h0M118 416.9h0M117 417.9h0M91.6 416.3h0M98 420h0M90.3 422.7h0M113.8 415.1h0M112.8 421.5h0M116.2 414.9h0M97.6 418.5h0M111.4 415h0M97.3 420.4h0M102.4 421.7h0M102.6 413.9h0M110.7 421.7h0M116.1 421.1h0M116.8 421.1h0M93.7 422.5h0M108.5 421.9h0M121.5 406.3h0M100.3 413.8h0M114.9 416.9h0M99.3 404.8h0M124.1 423.8h0M102 420.2h0M97.3 419.2h0M122 422.9h0M119.8 422.3h0M90.8 410.9h0M99.9 421.4h0M94.4 421.1h0M94.5 422.6h0M99.1 418.4h0M106.1 423.6h0M108.9 414.5h0M115.9 419.1h0M178.4 422.8h0M164.1 423.4h0M176.2 420.9h0M167.9 422h0M162.9 409h0M183.5 419.3h0M172.8 419.1h0M177.1 419.7h0M187.2 403h0M180.5 412.6h0M162.8 423.2h0M170.2 421.9h0M183.4 404.6h0M166.8 423.1h0M161.4 422.5h0M162.3 419.2h0M168.9 417.1h0M176 418h0M168.9 415.8h0M179.5 415.4h0M173.6 418.3h0M168.5 424.6h0M173.4 415.9h0M165.8 410.6h0M184.6 410.6h0M182.9 421.5h0M165.6 420.9h0M163.8 424.1h0M170.4 420h0M177 421.7h0M183.7 421.5h0M185.4 420.4h0M169.1 422.7h0M187 417.3h0M183.2 424.8h0M175.5 416.1h0M187.5 405.3h0M163.6 421.3h0M187.9 418h0M186.7 421.2h0M161.5 406h0M167.9 420.5h0M170.6 417.2h0M186.1 404.7h0M184.6 420.9h0M183 425.4h0M172.1 403.6h0M167.7 422.9h0M176.6 421.1h0M180 416.6h0M163.4 408.3h0M162.7 416.5h0M170.2 421.7h0M182.5 422.4h0M182.3 404.2h0M185.9 418.3h0M168.3 420.8h0M187.4 414.5h0M179 411.7h0M171.9 416.8h0M183.8 422.4h0M184.1 423.2h0M175.4 419.1h0M164.8 407.2h0M172.7 420.1h0M172 416.3h0M172.4 421.5h0M163.3 416.3h0M164.4 421.9h0M182.7 413.6h0M184.7 421.5h0M160.9 416.1h0M177 419.6h0M161.3 421.1h0M167.2 419.9h0M187.4 421.2h0M162.8 416.6h0M163.7 422.6h0M169.6 420.7h0M173.7 421.3h0M171.7 414.6h0M169.6 413.1h0M165.8 422.3h0M177.8 418.9h0M185.7 422.3h0M181 417.5h0M170.8 421.8h0M177.4 413.5h0M173.6 418.2h0M179.4 417.4h0M172.3 420.3h0M173.4 416.8h0M175.9 421.4h0M166.8 418.5h0M180.8 422.3h0M171.4 404.8h0M172.6 414.7h0M184.3 421.6h0M162.6 421.7h0M173.7 413.9h0M177.9 406h0M178.9 423.3h0M162.7 423.8h0M172.5 421.3h0M175.1 418.3h0M166.3 411.4h0M172 401.6h0M170.5 416.6h0M175.5 422.5h0M181.9 426h0M167.6 423.3h0M184.7 418.3h0M161.8 422h0M177.3 412h0M163.8 414.6h0M171.4 417.7h0M172.2 418h0M187.6 406.9h0M185.7 414.6h0M179.8 422.3h0M161.8 413h0M179 417h0M169.3 421.6h0M185.8 418.3h0M161.3 422h0M239.4 421.4h0M234.8 424.7h0M225.8 419.8h0M232.5 425.8h0M238.1 420.4h0M228.2 423.7h0M239.8 411.4h0M242.2 423h0M221.4 406.6h0M220.3 401.2h0M236 423.2h0M230.3 418.3h0M223.5 410.7h0M238.6 417.4h0M233.7 427.9h0M224.9 417.5h0M220.5 406.8h0M233.4 412.5h0M233 412.6h0M231 420.6h0M226.5 422.7h0M242.2 420.6h0M219.8 411.4h0M224.4 410.7h0M231.9 422.1h0M242 416.2h0M221.8 412.6h0M236.5 420h0M235.4 421.7h0M220.6 409.4h0M239.8 420.2h0M220.8 412.2h0M241.4 421.4h0M223.6 406.1h0M241.9 412.8h0M235.2 415.9h0M221.8 408.8h0M239.1 422.4h0M223.2 400h0M236.6 425.7h0M221.2 407.8h0M242.6 418.2h0M240.7 426.3h0M233.5 427.5h0M227.7 424.7h0M230.8 424.9h0M235.5 419.4h0M241.4 417.1h0M221.5 400h0M232.7 410.6h0M231.5 425h0M236.6 424.6h0M243.3 419.3h0M241.4 422.2h0M227.5 419h0M236.7 421.9h0M226.3 422.7h0M236.9 424.1h0M223.5 409.2h0M235.5 425.5h0M226.2 403.4h0M226.1 416.1h0M227 425.8h0M231.4 412.5h0M238.4 424.3h0M236.6 419.6h0M231.3 418.4h0M232.2 425.6h0M236.4 424.9h0M227.1 414.2h0M233.3 424.2h0M236.7 421.5h0M228.9 420.7h0M220.2 410.8h0M241.5 419.5h0M223.5 401.3h0M226.5 416.4h0M235.3 420.2h0M237.5 423.4h0M239.7 421h0M237.9 413.4h0M225.8 420.8h0M228.4 425h0M240.7 419.8h0M231.5 420.5h0M240.8 426.6h0M228.3 418.2h0M232.5 423.2h0M225.9 423h0M235.8 423.2h0M242.2 410.2h0M243 422h0M232 425.8h0M228.3 425h0M231.7 406h0M238 422h0M226.3 409.3h0M221 401.2h0M240.2 426.3h0M242.5 417.8h0M229 422.3h0M234.3 423.1h0M240.5 412.8h0M227.5 425.8h0M238.4 418.1h0M235.4 425.5h0M221.5 398.4h0M228.4 421.5h0M243.1 422.7h0M234.9 426.2h0M233.2 420.1h0M223.5 404.4h0M242.9 413.1h0M238.7 406.1h0M236.9 420.7h0M239.5 415.2h0M234.8 419.9h0M284.7 421.7h0M276.2 421.9h0M291.4 420.8h0M291.1 415.9h0M277.6 417.4h0M271.9 406.9h0M285.6 422.9h0M283.1 420.2h0M286.5 421.4h0M291.7 416.9h0M273.3 410.8h0M291.2 421.8h0M287.4 410.2h0M291.1 423.7h0M290.1 423.4h0M289.3 417h0M281.9 408.2h0M292.8 416.8h0M287.9 415.3h0M280.5 416.1h0M282.9 422.9h0M277.4 410.8h0M290.3 417.7h0M286.8 418.7h0M284.3 416.8h0M271.9 420.3h0M293 420.7h0M282 422.4h0M277.3 411.7h0M272.4 412.8h0M289.3 411.4h0M277.4 405.7h0M279.9 417.3h0M292.6 417.2h0M286.7 422.6h0M271.8 422.1h0M274 411h0M277.2 402.7h0M286.6 422.1h0M287.3 420.2h0M283.3 424h0M290 415.4h0M284.5 416.2h0M279.2 421.2h0M278.9 413.9h0M284.1 423h0M277 418.7h0M272 423.4h0M281.6 421h0M291.3 423h0M288.2 412.4h0M278.6 417.6h0M293.5 416h0M277.4 403h0M278.5 419.1h0M278.6 415.8h0M291.1 416.8h0M287.6 418h0M290.4 424.4h0M284.9 413.8h0M288.8 416.2h0M273.1 417.6h0M277.6 416.6h0M280.4 416.7h0M283.5 418.8h0M291.3 421.7h0M277.7 421.3h0M274.2 410.2h0M291.9 421.9h0M279.6 406.6h0M293.5 419.8h0M273.2 419.8h0M282.8 424.2h0M277.3 418.6h0M286.7 422.3h0M274.4 420h0M273.7 420.8h0M274 411.7h0M291 424h0M289.4 412.7h0M286 421.5h0M289.7 424.4h0M272.7 402.8h0M276.6 407.6h0M288.3 422.2h0M273.8 415.1h0M274.9 416.5h0M286.5 421.9h0M282.2 421.9h0M290.9 418.3h0M286.9 417h0M273 408.1h0M288.8 418.8h0M284.7 419.3h0M288.3 417.7h0M277.8 418h0M276.4 423.4h0M283.2 411.6h0M287.5 421h0M282.9 418.9h0M284.4 419.8h0M282.9 417.1h0M291.1 419.6h0M289 416.4h0M274.3 420.5h0M337.5 419.7h0M323.1 411.7h0M324.5 406.2h0M318.2 420.1h0M323.9 410.2h0M319.8 415.6h0M335.4 400.2h0M333.8 422.3h0M327.4 423.2h0M320.2 421.6h0M332.4 417.5h0M320.4 421.5h0M319.1 405.4h0M332.7 419h0M321.9 421.6h0M321.6 417.6h0M329.6 418.5h0M333.1 418.2h0M324 415.3h0M336.6 421.9h0M327.4 423.8h0M332.6 419.4h0M334.4 415.7h0M336.8 416.3h0M329.6 400h0M333.7 420.1h0M319.8 406.6h0M319.1 405.6h0M336.3 415.9h0M336.6 416.3h0M332.6 417.3h0M322.2 422.3h0M332.5 419.2h0M320.3 418.2h0M323 419.7h0M335.1 417.1h0M332.6 412.3h0M326.4 420.2h0M326.4 421.1h0M333.2 409.3h0M323.7 414h0M322.1 423h0M331.4 412.3h0M332 420.2h0M332.9 411.3h0M320.6 408.6h0M326.4 421.9h0M325.3 419h0M328.2 423.1h0M319 415.5h0M332 415.1h0M325.7 411.6h0M318.1 420.9h0M318.2 416.7h0M328.2 423.7h0M328.2 425.3h0M318.5 401h0M335.3 422.8h0M330.8 416.9h0M328.5 413.7h0M330.5 403.6h0M331.3 406.2h0M320.1 412.2h0M324.1 406.4h0M333.5 401.4h0M332.8 419.9h0M328.2 415.7h0M318.9 416.8h0M329 416.4h0M324.6 417.2h0M332.4 419.9h0M331.3 407h0M325.1 419h0M327.4 413.2h0M323.1 419.5h0M325.6 417.2h0M327.8 416.8h0M326 423.7h0M325.4 418.5h0M329.4 419.6h0M318.4 419.9h0M324.5 416.3h0M321.2 420h0M323.2 416.3h0M331.4 417.3h0M332.7 416.9h0M319.5 415.4h0M327.4 415.7h0M336.4 419.9h0M334.6 421.2h0M330.7 421.3h0M334.1 418.9h0M326.8 419.8h0M325.2 422.1h0M331.5 415.7h0M364.7 422h0M363.1 417.9h0M371.1 418.4h0M369.6 420.6h0M370.9 419.9h0M362.2 419h0M363.4 416.3h0M363.7 416.2h0M363.6 411.6h0M377.7 417.8h0M361.8 398.8h0M362.1 413h0M375.4 417.2h0M378 419.6h0M374.7 406.4h0M378.2 408.8h0M369 416.5h0M377.2 417.2h0M365.5 422.1h0M364.4 420.7h0M378.8 419.5h0M367.4 397.9h0M374.1 418.3h0M362.5 416.2h0M366.2 402.8h0M368.7 398.5h0M365.7 421.7h0M378.2 420.3h0M376 415.5h0M366 410.4h0M371.4 404.9h0M378.8 418.9h0M374.1 413.6h0M373.4 422.9h0M374 412.9h0M364.2 420.7h0M361.7 415.2h0M362.5 407.2h0M374.9 417.8h0M364 417.3h0M372.4 411.8h0M378.1 418.1h0M360.9 414.4h0M374 415.4h0M376.3 410.4h0M372.8 413.1h0M362.9 400.6h0M373.6 422h0M363.7 413.7h0M366.5 403.8h0M365.9 417.6h0M370.4 403.2h0M366.4 407.2h0M374.7 416.1h0M379.1 408.8h0M375.2 416.4h0M361.3 419.3h0M373.3 422.4h0M373.1 420.8h0M368.1 410.4h0M377 411.6h0M369.2 416.1h0M379.9 406h0M372.4 423.7h0M378.3 420.6h0M362.7 412.2h0M364.3 412.6h0M374 420.8h0M376.3 417h0M376.7 403h0M374.2 421.2h0M367.8 413.5h0M367.6 420h0M369.4 419.8h0M369.8 420h0M374.8 419.9h0M378.9 421.3h0M372.9 417.3h0M364.3 415.3h0M371.3 416.6h0M364.1 416.8h0M377 414.3h0M365.2 419.8h0M377.8 420h0M369.9 416.1h0M368.9 421.1h0M362.5 407.5h0M369.4 418.6h0M369.3 420.5h0M362 408.6h0M375.4 420h0M366.7 420.6h0M366.7 416.4h0M375.3 416.9h0M409.7 422.5h0M405.3 420.4h0M415.5 421.9h0M408.1 418.2h0M411.3 422h0M412.3 415.8h0M416.6 421.1h0M407.8 421.2h0M407.7 420.2h0M404.4 411.6h0M407.5 412.8h0M414.4 410.9h0M404.3 416.5h0M414.9 415.3h0M411.7 419.7h0M414.5 416.3h0M408.5 418.2h0M410 421.6h0M412.6 410.1h0M412.4 421.9h0M409.2 413.4h0M405.7 415.4h0M412.7 416.3h0M408.2 422.2h0M413 419.5h0M411.7 418.6h0M413.3 419.6h0M416.5 413.1h0M415.2 420.7h0M413.2 417.3h0M413 413.1h0M409.2 404h0M409.6 418.7h0M413.2 419.4h0M415.5 419.6h0M415.4 421.1h0M405.6 414.3h0M407.1 417h0M406.6 411.7h0M413.4 412.9h0M405.7 419.4h0M411.5 423h0M413.2 415.4h0M415.9 411.4h0M412.4 410.8h0M410.5 421.1h0M404.8 413.7h0M412.5 415.3h0M410.6 419.5h0M415.8 419.2h0M405.8 400.6h0M413.7 405.9h0M416.6 418.1h0M406 415.3h0M410.3 420h0M414.1 418.6h0M416.4 420.3h0M407.6 410.5h0M407 412.3h0M407.5 418.1h0M410 421.1h0M414.5 403.3h0M415.8 421.1h0M404.3 418.4h0M413.5 415.2h0M412.7 419.2h0M440.8 420.7h0M436.6 411.8h0M445.7 417.2h0M441.2 421.1h0M439.5 415.9h0M437.4 414.9h0M440.6 422.2h0M434.8 417.9h0M435.2 415.6h0M441.3 416.5h0M445.2 413.9h0M443.7 417.8h0M445.1 403h0M441.2 411.6h0M440.7 419h0M435.4 416.1h0M442.9 409.3h0M445.4 415.3h0M446.1 416.9h0M433.5 418.3h0M440.6 413.2h0M436.4 419.6h0M443 417.7h0M444.8 414.3h0M435 416.2h0M443.7 417h0M446.2 419.4h0M435.2 414.9h0M442.4 414.6h0M445.8 418.5h0M433.8 417.3h0M438 417.9h0M438.6 407.6h0M437.1 413h0M440.9 420.6h0M445.6 418h0M437.3 419.3h0M442.7 412.2h0M438.2 420.4h0M441.3 420h0M440.7 415.9h0M433.2 421.2h0M444.3 406.3h0M434.4 420.4h0M439 409.8h0M437.4 401h0M434.4 407h0M434 416.4h0M446.4 411.7h0M445.6 417.2h0M446.2 405h0M436.9 411h0M445.7 418.4h0M438.5 411.9h0M441 407h0M439.1 417.4h0M435.5 418.1h0M445.1 417.9h0M445.4 409.7h0M441 420.5h0M433.2 420.7h0M444.5 399.1h0M446.3 417.7h0M445.9 416.2h0M438.2 406.1h0M444.3 411.9h0M437.1 419.7h0M435.7 418h0M435.8 414.4h0M437.5 419.3h0M462.3 421.1h0M463.2 413.9h0M468.7 409h0M464.6 422.8h0M464 425.6h0M470.1 406.9h0M470.5 414h0M465.6 419.4h0M469.7 425h0M469.8 418.6h0M463.7 425.9h0M467.6 426.6h0M463.4 427.5h0M461.9 411.6h0M470.6 418.2h0M465.8 417.6h0M467.6 424.1h0M465.9 425.5h0M463.2 426.1h0M464.4 420.9h0M463.2 427.1h0M469.4 418.6h0M469.9 419.3h0M462.8 424.1h0M469 417.5h0M463.1 424.6h0M466.6 427h0M463.3 420.3h0M467.4 424h0M466.4 422.1h0M464.3 427.4h0M468.1 418.4h0M465.1 417.2h0M468.9 420.4h0M468.7 406.3h0M461.3 407.9h0M465.3 416.8h0M468 427.1h0M466.6 426.5h0M468 425.1h0M464.6 425.4h0M468.8 421.3h0M463.8 420.1h0M462.7 418h0M466.8 418.1h0M467.6 423.8h0M466.6 421.8h0M463.7 426.4h0M468.6 416.9h0M470.3 421.7h0M465.8 423.1h0M486.5 410.1h0M483.4 417.8h0M486.4 410.8h0M484.4 417.2h0M490.5 416.5h0M483.7 417.4h0M483.9 415.7h0M488.2 410.3h0M485.7 413.1h0M486.1 412h0M484.1 411.4h0M483.2 402.4h0M485 412.5h0M484.8 413.8h0M485.5 411.2h0M489.9 407.1h0M491.6 412.1h0M487.9 414h0M485.7 413.1h0M491.6 415.6h0M489.6 416.6h0M488.3 415.4h0M489.4 414.6h0M485.9 413.8h0M483.2 417.8h0M491 416.3h0M486.6 409.9h0M483.5 401.3h0M485 396.9h0M486.9 411h0M488.4 416.9h0M487.6 407.7h0M490 410.4h0M489.1 417.8h0M486.7 412.3h0M483.5 409h0M484.1 412.4h0M485.5 416.5h0M491.4 410.1h0M489.5 413.1h0M488.1 403.9h0M483.7 414.9h0M485.1 411.9h0M486.6 400.9h0M485.2 415.6h0M491.1 408.7h0M486.9 413.7h0M505 415.5h0M506.5 425.4h0M506.6 424.9h0M505.6 425h0M505.6 419.5h0M506.7 423.3h0M503.8 423.2h0M507.4 419.4h0M506.2 417h0M506.3 407.4h0M507.6 415.7h0M507 424.3h0M504.7 418.5h0M506 413.7h0M506.9 423h0M504.3 419.8h0M504.1 422.5h0M504.8 423.1h0M506.3 419.7h0M506.2 425.8h0M507.4 416.9h0M507.4 418.5h0M506.3 412.3h0M506.7 419.3h0M503.8 426.8h0M506.6 414h0M505.2 424.7h0"/></defs>
<use href="#f11" stroke="#3f6a90" stroke-width="2.3" stroke-linecap="round" fill="none"/>
<use href="#f11" stroke="#3f85bb" stroke-width="1.35" stroke-linecap="round" fill="none"/>
<path stroke="#1d1856" stroke-width="2.45" stroke-linecap="round" fill="none" d="M50.9 380h0M72.8 384.8h0M75.7 384h0M74 392.1h0M58.2 396.2h0M63 402.5h0M60.7 404.2h0M58.2 405.6h0M65.3 406h0M78.9 405.6h0M76.6 408.3h0M86.1 408.8h0M66.5 411.7h0M143.3 388.7h0M155.2 386.9h0M153.7 397.9h0M143.3 402.2h0M136.7 409.4h0M146.2 407.9h0M149.8 407.1h0M153.7 411.2h0M198.6 387.2h0M211 389.8h0M210.2 393.3h0M206.9 398.5h0M211 397.9h0M202.9 405.4h0M196 409.1h0M209.8 405.4h0M211 408.8h0M198.3 413.5h0M201.2 414h0M204.6 413.5h0M216.2 403.5h0M216.6 406.8h0M216 409.5h0M216.5 413.5h0M210.6 402h0M210.9 405h0M210.5 408.5h0M261.3 401.3h0M252.9 405.4h0M248.8 408.3h0M257.5 411.2h0M266.9 407.7h0M264.6 410.6h0M310.8 385.5h0M309.6 390.2h0M311.3 402.5h0M312.3 402.5h0M315.2 404.8h0M296.7 405.4h0M298.7 408.8h0M301 411.7h0M307.3 408.8h0M306.2 414h0M337.5 353.5h0M340.4 380.4h0M340.4 390.4h0M340.4 394.5h0M340.4 397.5h0M340.4 401h0M340.4 404.5h0M348.2 402.1h0M358.3 386.6h0M357.7 405.9h0M351.9 405.2h0M349.6 407.9h0M343.8 409h0M356.5 413.1h0M385 401.3h0M385 409h0M386.2 410h0M389 414.8h0M396.5 414.8h0M428.8 408.5h0M453.5 400.9h0M459 397.8h0M459 399.6h0M452.7 404.5h0M458.2 406.4h0M475.6 394.6h0M475.6 396.4h0M481 395.8h0M481 399.2h0M481 402h0M481 404.8h0M481 407.6h0M474.4 408.5h0M499 397.2h0M499 405.6h0M499 409h0M495.8 414.8h0"/>
<path stroke="#415468" stroke-width="2.45" stroke-linecap="round" fill="none" d="M106.3 374.8h0M106.3 390.4h0M106.3 405.6h0M100.8 400.2h0M100.8 406.5h0M100.8 412.3h0M91.3 406h0M90.7 409.4h0M119.4 395.9h0M113.3 399.8h0M124.5 401.7h0M121.9 406h0M113.3 410.6h0M170.9 379.8h0M170.9 384.4h0M181.8 387.5h0M183.3 401.9h0M182.1 406h0M170.9 402.2h0M168.8 404.2h0M167.1 406.5h0M174 406.5h0M161.3 411.7h0M187.9 413.5h0M222.5 401.5h0M223.4 400.3h0M225.8 404.8h0M241.3 399.4h0M238.5 407.1h0M229.8 415.2h0M233.3 414.6h0M275.9 399.6h0M277.3 404.8h0M278 405.5h0M286.3 403.1h0M281.9 408.8h0M286.5 406.5h0M291.7 411.2h0M331.9 284.6h0M331.9 288.1h0M331.9 302.8h0M331.9 331.3h0M331.9 347.1h0M331.9 363.3h0M328.6 392.1h0M324.2 399.8h0M326 405.6h0M326.6 406.2h0M332.3 404.8h0M320.8 410.2h0M331.2 409.6h0M368.7 405.6h0M361.2 409.6h0M364.6 409h0M368.1 411.9h0M375.8 389.1h0M375.8 403.2h0M375.8 404.6h0M377.5 408.5h0M414.4 392.9h0M415.6 399.5h0M415.9 404.4h0M408.1 402.1h0M409.8 407.9h0M403.7 411h0M438.4 351.8h0M438.4 360.4h0M438.4 364.3h0M438.4 379.6h0M438.4 383.8h0M438.4 386.9h0M438.4 390h0M435.6 385.8h0M434.8 397h0M438.4 397.8h0M442.9 403h0M443.9 402h0M438.7 406.4h0M471 394.6h0M471 396.4h0M464.2 403.3h0M465 403.3h0M469.8 404.8h0M463.2 411.9h0M490.6 399.2h0M487.7 405h0M487.7 406.3h0M503.8 407.9h0M506.2 410.8h0"/>
<rect x="68.9" y="410.3" width="1.7" height="30" fill="#fff"/>
<rect x="302.3" y="410.3" width="2.5" height="30" fill="#fff"/>
<line x1="51.5" x2="509.5" y1="353.1" y2="353.1" stroke="#f0c4cc" stroke-width="1.2"/>
<line x1="52" x2="509.5" y1="353.1" y2="353.1" stroke="#a8636f" stroke-width="1.1" stroke-dasharray="1.9 1.5"/>
<path stroke="#222" stroke-width="1.3" fill="none" d="M50.8 265.4V443.3 M50.2 440.3H512" />
<path stroke="#222" stroke-width="1" fill="none" d="M47.3 440.3H50.8M47.3 424.5H50.8M47.3 408.8H50.8M47.3 393H50.8M47.3 377.3H50.8M47.3 361.5H50.8M47.3 345.7H50.8M47.3 330H50.8M47.3 314.2H50.8M47.3 298.5H50.8M47.3 282.7H50.8M47.3 268.6H50.8M123.5 440.3V443.5M195.4 440.3V443.5M268.2 440.3V443.5M340 440.3V443.5M412.3 440.3V443.5M485.4 440.3V443.5M508.5 440.3V443.5"/>
<text x="43.6" y="442.7" font-size="6.6" text-anchor="end" fill="#333" stroke="#333" stroke-width="0.18">0</text>
<text x="43.6" y="426.9" font-size="6.6" text-anchor="end" fill="#333" stroke="#333" stroke-width="0.18">1</text>
<text x="43.6" y="411.1" font-size="6.6" text-anchor="end" fill="#333" stroke="#333" stroke-width="0.18">2</text>
<text x="43.6" y="395.4" font-size="6.6" text-anchor="end" fill="#333" stroke="#333" stroke-width="0.18">3</text>
<text x="43.6" y="379.6" font-size="6.6" text-anchor="end" fill="#333" stroke="#333" stroke-width="0.18">4</text>
<text x="43.6" y="363.9" font-size="6.6" text-anchor="end" fill="#333" stroke="#333" stroke-width="0.18">5</text>
<text x="43.6" y="348.1" font-size="6.6" text-anchor="end" fill="#333" stroke="#333" stroke-width="0.18">6</text>
<text x="43.6" y="332.3" font-size="6.6" text-anchor="end" fill="#333" stroke="#333" stroke-width="0.18">7</text>
<text x="43.6" y="316.6" font-size="6.6" text-anchor="end" fill="#333" stroke="#333" stroke-width="0.18">8</text>
<text x="43.6" y="300.8" font-size="6.6" text-anchor="end" fill="#333" stroke="#333" stroke-width="0.18">9</text>
<text x="43.6" y="285.1" font-size="6.6" text-anchor="end" fill="#333" stroke="#333" stroke-width="0.18">10</text>
<text transform="translate(72.6 447.3) rotate(-90)" font-size="7.2" text-anchor="end" fill="#333" stroke="#333" stroke-width="0.15">1</text>
<text transform="translate(111.4 447.3) rotate(-90)" font-size="7.2" text-anchor="end" fill="#333" stroke="#333" stroke-width="0.15">2</text>
<text transform="translate(147.6 447.3) rotate(-90)" font-size="7.2" text-anchor="end" fill="#333" stroke="#333" stroke-width="0.15">3</text>
<text transform="translate(177.6 447.3) rotate(-90)" font-size="7.2" text-anchor="end" fill="#333" stroke="#333" stroke-width="0.15">4</text>
<text transform="translate(207.2 447.3) rotate(-90)" font-size="7.2" text-anchor="end" fill="#333" stroke="#333" stroke-width="0.15">5</text>
<text transform="translate(235.7 447.3) rotate(-90)" font-size="7.2" text-anchor="end" fill="#333" stroke="#333" stroke-width="0.15">6</text>
<text transform="translate(261.1 447.3) rotate(-90)" font-size="7.2" text-anchor="end" fill="#333" stroke="#333" stroke-width="0.15">7</text>
<text transform="translate(285.7 447.3) rotate(-90)" font-size="7.2" text-anchor="end" fill="#333" stroke="#333" stroke-width="0.15">8</text>
<text transform="translate(308.8 447.3) rotate(-90)" font-size="7.2" text-anchor="end" fill="#333" stroke="#333" stroke-width="0.15">9</text>
<text transform="translate(331.4 447.3) rotate(-90)" font-size="7.2" text-anchor="end" fill="#333" stroke="#333" stroke-width="0.15">10</text>
<text transform="translate(352.9 447.3) rotate(-90)" font-size="7.2" text-anchor="end" fill="#333" stroke="#333" stroke-width="0.15">11</text>
<text transform="translate(374.9 447.3) rotate(-90)" font-size="7.2" text-anchor="end" fill="#333" stroke="#333" stroke-width="0.15">12</text>
<text transform="translate(394.9 447.3) rotate(-90)" font-size="7.2" text-anchor="end" fill="#333" stroke="#333" stroke-width="0.15">13</text>
<text transform="translate(411.8 447.3) rotate(-90)" font-size="7.2" text-anchor="end" fill="#333" stroke="#333" stroke-width="0.15">14</text>
<text transform="translate(428.8 447.3) rotate(-90)" font-size="7.2" text-anchor="end" fill="#333" stroke="#333" stroke-width="0.15">15</text>
<text transform="translate(443.1 447.3) rotate(-90)" font-size="7.2" text-anchor="end" fill="#333" stroke="#333" stroke-width="0.15">16</text>
<text transform="translate(456.8 447.3) rotate(-90)" font-size="7.2" text-anchor="end" fill="#333" stroke="#333" stroke-width="0.15">17</text>
<text transform="translate(469.5 447.3) rotate(-90)" font-size="7.2" text-anchor="end" fill="#333" stroke="#333" stroke-width="0.15">18</text>
<text transform="translate(480.9 447.3) rotate(-90)" font-size="7.2" text-anchor="end" fill="#333" stroke="#333" stroke-width="0.15">19</text>
<text transform="translate(489.9 447.3) rotate(-90)" font-size="7.2" text-anchor="end" fill="#333" stroke="#333" stroke-width="0.15">20</text>
<text transform="translate(498.6 447.3) rotate(-90)" font-size="7.2" text-anchor="end" fill="#333" stroke="#333" stroke-width="0.15">21</text>
<text transform="translate(507.2 447.3) rotate(-90)" font-size="7.2" text-anchor="end" fill="#333" stroke="#333" stroke-width="0.15">22</text>
<text transform="translate(281.4 466.9) scale(0.765 1)" font-size="8.6" text-anchor="middle" fill="#222" stroke="#222" stroke-width="0.25">Chromosome</text>
<text transform="translate(28.8 352.3) rotate(-90) scale(0.77 1)" font-size="8.8" text-anchor="middle" fill="#222" stroke="#222" stroke-width="0.2">&#8211;log10 <tspan font-style="italic">P</tspan>-value</text>
<text x="281.8" y="259.4" font-size="9.68" text-anchor="middle" fill="#222">METAL with GWAS using African ancestry tracts</text>
<text x="8.1" y="258.7" font-size="13" font-weight="bold" fill="#111">B</text>
<path fill="#372d92" d="M50.4 680.4L50.4 666.5L51.4 664.7L52.4 664.7L53.4 663.5L54.4 663.3L55.4 665.5L56.4 666.8L57.4 665.1L58.4 663.8L59.4 665L60.4 664.9L61.4 665.3L62.4 667.2L63.4 668L64.4 666.6L65.4 665.5L66.4 665.6L67.4 666.2L68.4 664.5L69.4 666.5L70.4 667.3L71.4 665.4L72.4 663.9L73.4 663L74.4 664L75.4 664.5L76.4 665.9L77.4 666.3L78.4 667.2L79.4 665.1L80.4 665.2L81.4 665.5L82.4 666.8L83.4 667L84.4 667.6L85.4 667.2L86.4 665.3L87.3 663.4L87.3 680.4zM128.1 680.4L128.1 665.7L129.1 664.7L130.1 664L131.1 666.2L132.1 667.9L133.1 665.9L134.1 666.5L135.1 667.1L136.1 666.5L137.1 666L138.1 668.1L139.1 669.6L140.1 667.6L141.1 666.2L142.1 665.8L143.1 666.4L144.1 665.7L145.1 666.2L146.1 667.4L147.1 667.3L148.1 665L149.1 664.9L150.1 665.5L151.1 665.7L152.1 667L153.1 668L154.1 669.4L155.1 666.3L156.1 666.2L157.1 666.2L158.1 666.6L158.8 667L158.8 680.4zM190.3 680.4L190.3 666.9L191.3 666.9L192.3 667.3L193.3 669.6L194.3 670.6L195.3 668.3L196.3 668.5L197.3 667.6L198.3 667.1L199.3 665.8L200.3 667.8L201.3 667.9L202.3 667.7L203.3 666.6L204.3 666.3L205.3 666.5L206.3 667.4L207.3 668.1L208.3 669.7L209.3 668.6L210.3 668.2L211.3 668L212.3 668.1L213.3 668.1L214.3 668.7L215.3 669.5L216.3 667.9L216.9 667.3L216.9 680.4zM246.5 680.4L246.5 664.9L247.5 665L248.5 665.4L249.5 665.9L250.5 666.9L251.5 667.2L252.5 665.4L253.5 664.6L254.5 665.5L255.5 666.7L256.5 667.3L257.5 667.7L258.5 669.8L259.5 667.1L260.5 665.8L261.5 665.8L262.5 667.3L263.5 666.6L264.5 667L265.5 667.3L266.5 666.2L267.5 663.5L268.5 665.2L269.5 666.1L269.7 666.2L269.7 680.4zM295.4 680.4L295.4 665.8L296.4 666.9L297.4 667.8L298.4 669L299.4 667.8L300.4 666.3L301.4 667.5L302.4 668L303.4 668.5L304.4 669L305.4 668.9L306.4 668.1L307.4 664.9L308.4 664.6L309.4 667.1L310.4 667L311.4 667.4L312.4 667.4L313.4 666.6L314.4 664.9L315.4 665.9L316.4 667L316.6 667.3L316.6 680.4zM338.5 680.4L338.5 665.9L339.5 666.9L340.5 665.1L341.5 664L342.5 664.2L343.5 663.3L344.5 662.7L345.5 664.5L346.5 666.3L347.5 665.7L348.5 664.2L349.5 665.7L350.5 664.7L351.5 664.4L352.5 666L353.5 668L354.5 666.2L355.5 664.3L356.5 664.2L357.5 663.4L358.5 663.3L359.5 663.3L359.5 663.5L359.5 680.4zM382.8 680.4L382.8 665.5L383.8 662.8L384.8 663.9L385.8 665.6L386.8 665.7L387.8 667.3L388.8 667.5L389.8 667.9L390.8 667.1L391.8 669.5L392.8 672.2L393.8 670.6L394.8 669.5L395.8 668.5L396.8 668L397.8 665.6L398.8 664.3L399.8 665.3L400.8 666L400.8 666.1L400.8 680.4zM420.3 680.4L420.3 663.8L421.3 663.2L422.3 664L423.3 666L424.3 666.9L425.3 666.3L426.3 664.2L427.3 665.8L428.3 665.6L429.3 666.2L430.3 665.9L431.3 667.4L432.3 666.1L432.3 666.3L432.3 680.4zM447.7 680.4L447.7 661.7L448.7 658.6L449.7 659.4L450.7 659.5L451.7 659.8L452.7 661.6L453.7 662.4L454.7 661.4L455.7 659.3L456.7 660.4L457.7 662.1L458.7 661.7L459.7 661.7L460 663.6L460 680.4zM471.5 680.4L471.5 661.1L472.5 661.6L473.5 661.6L474.5 661L475.5 662L476.5 663.1L477.5 661.8L478.5 660L479.5 660.1L480.5 661.4L481.5 661L482.3 661.4L482.3 680.4zM494 680.4L494 663.8L495 663.1L496 662.8L497 662.9L498 661.7L499 662L500 663.4L500.9 664.9L500.9 680.4z"/>
<path fill="#3f85bb" d="M89.4 680.4L89.4 665.1L90.4 665.2L91.4 665.2L92.4 664.7L93.4 664.1L94.4 664.7L95.4 665.1L96.4 663.4L97.4 663.2L98.4 662.7L99.4 663.5L100.4 663.6L101.4 663.8L102.4 666.7L103.4 665L104.4 663.2L105.4 663.4L106.4 665.6L107.4 665.6L108.4 665L109.4 666.3L110.4 666.4L111.4 663.9L112.4 663L113.4 663L114.4 663.3L115.4 663.6L116.4 665.1L117.4 665L118.4 664L119.4 661.8L120.4 663.6L121.4 666L122.4 665.6L123.4 666.2L124.4 666.8L125.4 665L126.4 663.4L126.5 663.3L126.5 680.4zM159.9 680.4L159.9 664.3L160.9 665.6L161.9 662.3L162.9 662.1L163.9 662.1L164.9 664.2L165.9 664.6L166.9 665.3L167.9 666L168.9 664L169.9 663.5L170.9 663.8L171.9 665.3L172.9 666.1L173.9 666.1L174.9 664.5L175.9 664.8L176.9 662.7L177.9 662.8L178.9 663.9L179.9 664.4L180.9 664.6L181.9 663L182.9 664.1L183.9 662.7L184.9 662L185.9 664.2L186.9 667.2L187.9 665.5L188.8 665.7L188.8 680.4zM218.8 680.4L218.8 667L219.8 667.4L220.8 668.2L221.8 666.9L222.8 665.5L223.8 665.3L224.8 665.3L225.8 666.4L226.8 665.4L227.8 666.1L228.8 665.1L229.8 663.5L230.8 662.8L231.8 664.5L232.8 666.9L233.8 667.2L234.8 666.6L235.8 667.9L236.8 665.8L237.8 664.9L238.8 665.3L239.8 668L240.8 667.1L241.8 666.3L242.8 666.5L243.8 665L244.6 663.6L244.6 680.4zM270.8 680.4L270.8 665.5L271.8 666.4L272.8 667.2L273.8 665.9L274.8 666.6L275.8 666.5L276.8 664.2L277.8 662.8L278.8 664.8L279.8 665.2L280.8 665.3L281.8 665.1L282.8 665L283.8 664.3L284.8 663.7L285.8 665.2L286.8 667.4L287.8 666.5L288.8 666.5L289.8 666.1L290.8 665.1L291.8 663.9L292.8 664.2L293.8 666.1L294.6 666L294.6 680.4zM316.9 680.4L316.9 665L317.9 667.1L318.9 668.7L319.9 667.2L320.9 664.5L321.9 664.7L322.9 664.7L323.9 664.3L324.9 665.3L325.9 666.5L326.9 666.6L327.9 664.2L328.9 662.7L329.9 664.2L330.9 666.1L331.9 665.6L332.9 667.5L333.9 667.2L334.9 666.7L335.9 663.8L336.9 665.4L337.9 665.9L338.5 667.1L338.5 680.4zM359.5 680.4L359.5 665L360.5 664.6L361.5 666.9L362.5 666.7L363.5 664.2L364.5 664.2L365.5 666.1L366.5 666.6L367.5 667.6L368.5 667.3L369.5 667.6L370.5 665.9L371.5 664.8L372.5 665.2L373.5 665.8L374.5 666.2L375.5 665.1L376.5 666.3L377.5 663.7L378.5 663.7L379.5 664.8L380.5 666.4L381.1 667.5L381.1 680.4zM403.1 680.4L403.1 666.6L404.1 665.7L405.1 666.5L406.1 668.2L407.1 668L408.1 664.5L409.1 663.8L410.1 664.6L411.1 665.1L412.1 664.6L413.1 666.1L414.1 667.5L415.1 665.7L416.1 664.3L417.1 666.4L417.7 666.4L417.7 680.4zM432.3 680.4L432.3 666.8L433.3 666.4L434.3 664.8L435.3 662.9L436.3 664.8L437.3 665.6L438.3 665.7L439.3 665L440.3 663.7L441.3 663.4L442.3 660.2L443.3 660.5L444.3 662.4L445.3 661.6L446.3 661.2L447.3 659.3L447.7 660.5L447.7 680.4zM460 680.4L460 670.2L461 670.8L462 673.1L463 673.9L464 672.7L465 671L466 670.6L467 671.4L468 670.2L469 671.4L470 671.8L471 670.4L471.5 670.2L471.5 680.4zM482.3 680.4L482.3 660.1L483.3 660.3L484.3 660L485.3 660L486.3 662.3L487.3 663.4L488.3 662.5L489.3 661.8L490.3 661.7L491.3 661.3L492.3 661.4L492.7 662L492.7 680.4zM502.7 680.4L502.7 660.7L503.7 660.4L504.7 658.3L505.7 660.2L506.7 662.2L507.7 661.9L508.7 661.3L508.7 661.9L508.7 680.4z"/>
<path stroke="#fff" stroke-opacity="0.85" stroke-width="1.1" stroke-linecap="round" fill="none" d="M68.2 671.1h0M72.7 663.3h0M65.5 666.6h0M62.8 665.2h0M57.2 663.3h0M58.9 664.7h0M55.4 669.2h0M58.7 666.3h0M75.4 666.5h0M77 671.1h0M67.1 664.8h0M53.3 667.8h0M64.4 666.6h0M54.7 663.6h0M82.1 668.3h0M80.6 670.3h0M60.3 663.7h0M82 665.9h0M119.5 668.2h0M97.2 665.9h0M96.8 669.7h0M118 664.7h0M116.2 663.6h0M93.1 665.3h0M93.5 664.9h0M120 665.1h0M100 661.4h0M109.9 668h0M121.7 663.7h0M106.8 666h0M103.7 663h0M104 666.2h0M97.5 662.1h0M108.9 671.7h0M107.4 664.9h0M92.1 666h0M102.6 663.7h0M107.1 667.7h0M102.9 669.8h0M112.4 659.5h0M92.6 665.6h0M111.5 665.2h0M98.7 662.8h0M115.4 664.1h0M108.9 664.7h0M112.3 663.6h0M91 668.7h0M118.3 670h0M123 669.1h0M106.8 664.1h0M114.9 664.3h0M152.9 674.8h0M143.4 667.7h0M131.3 668.5h0M145.7 674h0M131.4 671h0M130.9 673.2h0M135.2 670.5h0M147.2 665.8h0M142.4 667.1h0M134.6 667.1h0M131.4 671.4h0M156.5 668.4h0M140.7 668.9h0M133.6 670.5h0M148.7 662.5h0M161.6 665.9h0M176.4 664.8h0M175.7 663.1h0M166.8 667h0M171.9 667.3h0M185.1 664.1h0M180.7 661.3h0M174.1 662.4h0M166.5 662.8h0M171.3 662.9h0M185.6 663.4h0M169.3 661.1h0M171 668.4h0M175.5 670.5h0M177.4 665h0M172.5 671.2h0M173 663.9h0M167.2 669.4h0M162.9 659.8h0M177.6 665.4h0M173.5 668.8h0M172.3 668.6h0M162.4 662.6h0M186.6 668.6h0M170.2 665.9h0M186.7 667.5h0M198.5 669.1h0M208.3 673.6h0M199.1 666.8h0M192.1 672.3h0M200.7 668.6h0M196.7 669.9h0M195.3 668.9h0M194.3 669.1h0M204.2 666.7h0M194.3 675.9h0M193.2 670.9h0M198.7 663.9h0M198.8 667.8h0M236.8 672.5h0M232 667.8h0M237.9 663.6h0M221.3 672.8h0M236.1 671.2h0M238.5 663.9h0M240.3 670.4h0M241.8 668.3h0M240 664.5h0M224.1 666.9h0M235.5 667.8h0M221.9 672.4h0M221.9 672.5h0M225.6 669.5h0M233.8 665.3h0M227.8 665h0M232.5 665.3h0M232.7 665.6h0M223 668.2h0M226.3 671.6h0M229.5 663.6h0M236.7 671.9h0M228.7 669.8h0M264.6 669.8h0M251.1 667.1h0M267 670.8h0M252.5 666.1h0M260.4 666h0M252.3 671.7h0M250.2 670.3h0M256.2 668.7h0M265.6 672h0M263.6 664h0M264.4 671.9h0M287.8 663.9h0M285.8 668.8h0M275.1 666.7h0M281.8 664.3h0M274.5 665h0M281.8 661.9h0M288.8 667.2h0M278.1 662.6h0M278.9 667.3h0M287.2 668h0M287.2 669.4h0M289.2 670.4h0M288.2 663.3h0M279.6 662.9h0M289.6 664.8h0M291.5 664.1h0M275.5 670.1h0M276.2 665.3h0M281.4 667.9h0M283.1 668.2h0M288.8 672.8h0M307.4 671.1h0M308.5 670.6h0M313.9 665.9h0M300.3 673.1h0M313.6 667.1h0M313.8 664.5h0M301 672.2h0M298.8 674.1h0M301 671.1h0M299.2 669.8h0M320.9 671.5h0M324.4 667.7h0M326.6 672.8h0M322.6 661.5h0M330.5 669.2h0M333.9 665.4h0M321.7 665.4h0M323.6 662.6h0M321 661.6h0M326.4 664.2h0M318.9 665.6h0M331.5 669.2h0M324.8 669.3h0M319.2 668.8h0M335.8 661.7h0M321.2 665.8h0M324.9 662h0M334 672.2h0M329.3 664.6h0M356.2 670h0M341.1 663.4h0M344.2 667.4h0M352.5 664.6h0M354.2 673h0M354.7 666.9h0M354.7 665.9h0M356.8 662.8h0M347.1 666.1h0M354.8 670.9h0M374.8 665.1h0M366.8 667.4h0M362 667.2h0M363.1 668h0M367.2 666.6h0M365.1 664.2h0M365.3 671h0M369.5 669.7h0M366.9 672.9h0M372.1 663.1h0M373.7 662.9h0M379.5 668.3h0M365 665.8h0M377.9 668h0M375.6 668h0M364.7 667.5h0M371.8 662.5h0M362.1 668.3h0M378.1 663.3h0M387.7 671.3h0M389.8 675h0M398.6 663.1h0M396.4 671.4h0M390.1 670.2h0M397.9 667.4h0M392.8 673.9h0M384.7 668.1h0M385.9 671.4h0M414.3 668.8h0M415.5 671.5h0M406.9 666.2h0M411.7 666.4h0M409.5 665.8h0M407 668.1h0M411.5 668.4h0M412.8 663.5h0M407 668.7h0M413.6 666.6h0M413.2 665.5h0M408.1 670.1h0M406.9 672.5h0M427.6 664.8h0M423.8 666.6h0M425.4 665.4h0M427.2 662.5h0M424.6 669.9h0M429 670.9h0M438.2 666.7h0M434.3 663.8h0M445.7 660.9h0M442.5 663.3h0M439.6 667.2h0M442.4 662.8h0M443.6 661h0M436.6 666.6h0M443.6 663h0M433.9 666.3h0M444.9 660.4h0M440.9 662.8h0M440.5 668.1h0M450.5 660.2h0M458.2 668.5h0M457.7 668.3h0M455.7 666.6h0M455.2 661.7h0M450.8 663.6h0M467.7 671h0M463.3 673.2h0M464.7 672.2h0M465.7 674.7h0M468.2 670.9h0M468 672.9h0M461.8 676.7h0M469 673.8h0M465.8 676h0M469.8 674.1h0M478.7 664.4h0M477.2 668.8h0M476.2 663.6h0M473.1 662.8h0M479 663.9h0M484.9 658.4h0M490.4 663.8h0M486.9 665.7h0M487 665h0M484.3 665.8h0M488.1 666.2h0M490.5 659.1h0M484.2 658.1h0M485.1 658.6h0M496.4 659.7h0M496.8 662.1h0M497.5 663.1h0M506.9 664.4h0M504.7 658.7h0M505.3 664.3h0M504.7 659.3h0M505.3 660.8h0"/>
<defs><path id="f20" d="M70.7 665.9h0M69.5 651.8h0M84.5 666.9h0M62 664.8h0M80.9 664.3h0M78.2 666.1h0M63.2 654.4h0M55.7 662.9h0M60.9 659h0M53.7 659.3h0M60.3 652.4h0M62.8 663.5h0M52.3 654.4h0M73.5 654.2h0M77.4 666.5h0M77.4 664.9h0M58.3 655.6h0M74.6 662.7h0M53.8 659.6h0M53.4 662.6h0M53 663.4h0M77.5 665.7h0M85.9 664.7h0M79.4 659.9h0M73.9 660.3h0M56.2 659.6h0M83.7 663.6h0M57.9 663.7h0M60.3 650.8h0M62.4 665.6h0M69.7 666.2h0M79 659.9h0M62.1 666h0M82.9 660.2h0M78.1 666h0M84.8 663.3h0M52.4 649.8h0M75.8 663.8h0M82.6 663h0M73.6 663.4h0M58.8 658.2h0M51.8 664.5h0M53.7 660.2h0M56.1 660.5h0M67.2 659.8h0M83.4 652.9h0M58 662.2h0M79.2 663.7h0M84.2 665.3h0M73.3 662.1h0M76.7 664.3h0M66.1 660.4h0M80.4 663.9h0M57.4 663.6h0M78.2 662.6h0M76.5 659h0M59.5 661.9h0M51.5 663.8h0M72.4 662.3h0M79.2 664.3h0M66.8 661.2h0M59.1 660.2h0M65.4 665h0M55 661.2h0M80.2 660h0M81.6 662h0M78.6 659.4h0M72.2 660.8h0M57 664.2h0M54.3 663.5h0M65 664.2h0M71.1 659.6h0M60.7 655.8h0M80.6 663.9h0M72 663.2h0M53.6 662.6h0M58.5 663.9h0M52.2 658.8h0M81.7 658.7h0M53.9 663.5h0M81.4 664.1h0M63.4 663.4h0M69.9 665.1h0M56.6 665.4h0M76.3 656.1h0M52.6 663.6h0M69.7 665.2h0M68.5 662.4h0M60.6 663.8h0M66 658.9h0M56.2 663.4h0M79.8 661.3h0M63.5 658h0M61.8 663h0M67.1 658.6h0M73.1 660.1h0M69.4 657.5h0M63.7 667.2h0M57.5 663.3h0M54.7 650.4h0M70.8 660.6h0M67.2 662.7h0M59.2 656h0M66.1 663.3h0M77.4 659h0M86.3 662.5h0M66.2 658.7h0M66.2 664.5h0M68.1 663.7h0M60.3 658.7h0M63.6 664.2h0M61.9 665.3h0M78.7 660.5h0M76 661.2h0M57.4 661.8h0M80.5 658.8h0M72 660.2h0M57.3 664.4h0M81 665.2h0M60.2 662.4h0M75.9 660.1h0M81.7 656.2h0M60.8 663.2h0M55.6 664.6h0M54.9 652.8h0M71.5 662.8h0M53.3 654.5h0M59.9 658.9h0M58.5 662.8h0M56.1 663.4h0M61.3 661.4h0M76.4 664.2h0M55.9 663.6h0M65.3 663h0M64.2 666.2h0M55.6 661.3h0M73.6 659.1h0M73.7 660.9h0M58.2 654.7h0M70 664.3h0M60.5 662.5h0M85.7 664.4h0M79.5 664.2h0M72.3 662.3h0M59.5 663.1h0M65.2 661.4h0M65.6 657.7h0M56.7 658.3h0M66.6 659.6h0M65.2 664.2h0M82.7 662.6h0M76.7 662.8h0M76.2 653.1h0M77.3 653.5h0M63.6 666.5h0M82.3 659.7h0M82.5 664.3h0M65.8 654.1h0M58.4 663.3h0M57.3 663.2h0M66 663.4h0M67.5 665.3h0M63.3 665.3h0M53.2 661.4h0M83.1 662.4h0M84.5 659.7h0M68.6 665h0M53.4 660.4h0M80.9 663.6h0M55.9 661h0M70.2 664.4h0M55.8 663.2h0M71.4 660.7h0M83 666.1h0M80.5 663.1h0M65.9 663.6h0M79.6 662.3h0M53.8 661.1h0M56.5 665.9h0M53.1 662.2h0M67.1 665.6h0M56.1 657.5h0M70.4 652.1h0M70.3 655.2h0M75.6 662.6h0M53.1 663.4h0M79.1 661.3h0M61.7 664.6h0M73.8 653.6h0M70 665.8h0M57.7 659.4h0M83.9 665.8h0M59.7 663.9h0M58.6 663.1h0M66 664.2h0M74.6 663.3h0M60.6 662.2h0M57.2 664.5h0M54.5 664.2h0M75 664.2h0M146.8 666.7h0M138 667.2h0M143.3 662.8h0M138.1 663.8h0M141.9 659.2h0M148.6 663.2h0M153 668.2h0M135.8 666.3h0M156.5 662.9h0M153.3 651.3h0M131.6 658.9h0M129.6 659.6h0M151.9 664.9h0M154.7 662.1h0M143.4 664.4h0M133.6 665.7h0M144.6 662.6h0M134.4 663.1h0M131.3 665.7h0M148.3 663.9h0M144.1 664.7h0M154.5 667.2h0M155.9 656.2h0M156.9 665h0M148.7 664.1h0M157.1 662h0M130.1 664h0M132.1 666.1h0M156.1 659.7h0M138.4 662.3h0M129.3 661.2h0M140.3 667.2h0M155.6 661.9h0M157.8 663.2h0M146.9 666.4h0M142.8 657.3h0M145.1 662.1h0M142.3 664.1h0M129.3 663.2h0M134.4 665.6h0M130.6 660.2h0M157.8 662.5h0M153 667.4h0M153.6 667.1h0M153.7 667.9h0M137.6 664.2h0M135.5 665.3h0M150 659.8h0M157.4 662.8h0M139.1 666.8h0M145.9 663.7h0M155.5 662.8h0M156.8 663.7h0M141.9 665.5h0M138.4 666h0M129.3 662h0M132.4 666.3h0M154.5 658.6h0M132.3 664.2h0M143.1 665.6h0M137.6 664.1h0M141.3 662.6h0M130.9 662.7h0M146.7 666.5h0M145.4 656.1h0M154.8 663.9h0M144 660h0M142.1 661.1h0M139.8 665.5h0M150.2 662.6h0M146.4 665.6h0M139.1 665.2h0M141.9 663.4h0M139.9 666.9h0M147.1 658.8h0M134.6 662.1h0M144.4 661.4h0M148.2 662.8h0M129.3 662.5h0M144.1 661.5h0M155.8 661.7h0M147.9 663.5h0M152 666.2h0M154.6 665.4h0M142.1 661.2h0M132.5 667.1h0M146.2 666.4h0M144.3 663.9h0M139.5 667.9h0M136.3 665.7h0M157.2 661.6h0M139.4 668.6h0M157.2 658.3h0M131.7 660h0M144.9 649.8h0M141.7 663.5h0M129.2 661h0M135.9 658.4h0M135.5 658.4h0M138.6 662.7h0M149.6 655h0M145.6 665h0M136.6 665.2h0M132 666.4h0M138.2 661.5h0M129.2 661.6h0M143.7 664.8h0M149 663.7h0M150.5 665.4h0M154.4 666.9h0M131.7 667h0M134.9 665.7h0M138.1 654.6h0M139.8 666.5h0M150.8 666h0M131.5 659.8h0M138.5 667.9h0M134.3 660.8h0M157.2 664.7h0M149.6 662.8h0M134.9 664.8h0M138.8 668h0M151.9 666.4h0M140.2 662.7h0M130 651.9h0M146.8 663.2h0M134.6 665.2h0M153.4 654.8h0M129.4 657.7h0M134.8 665.9h0M146.2 667h0M153.3 661.7h0M137.3 665.9h0M143.8 660.1h0M130.1 660h0M132.6 665.5h0M133.8 665.6h0M144.5 663.9h0M155.3 657.5h0M150 663h0M147.7 664h0M142.6 662.8h0M141.2 663.6h0M153.6 651.9h0M150.3 658.6h0M137.8 667.1h0M135.4 663.8h0M151.1 661.3h0M155.4 660.4h0M137.6 666.8h0M142.9 664.3h0M154.1 659.7h0M144.6 659.7h0M150 662.9h0M141.8 654.1h0M152 663.7h0M157.5 666.3h0M151.2 663.4h0M138.3 667.8h0M145.8 659.3h0M134.1 657.2h0M157.5 666.1h0M145 663.2h0M138.7 668.5h0M136.7 655.5h0M212.8 665.5h0M201.8 664.2h0M195.9 667h0M194 666.2h0M203.7 665.9h0M195.2 667.3h0M208.4 669.5h0M200.5 664.6h0M212 667.2h0M205.1 663h0M204.9 663.1h0M200.7 667.5h0M207.7 661.5h0M208.1 665.8h0M215 667.9h0M205.5 659.9h0M207.4 668.5h0M203.9 659.7h0M196.2 666h0M215.6 667.1h0M204.7 663.1h0M212.3 665.8h0M213.5 663.1h0M201.2 665.1h0M198.6 666.1h0M203.2 665.8h0M198.6 659.3h0M215.3 668.4h0M195.3 666.9h0M202.4 666.4h0M211.2 666.8h0M204.6 665.3h0M207.2 667.7h0M203.5 658.8h0M191.6 665.8h0M193 662.4h0M207.8 668.4h0M213.5 667h0M203.3 661h0M206.1 666.2h0M192.4 667h0M214.7 659.9h0M198.7 666.1h0M206.9 666.7h0M213.3 658.3h0M210.6 661.7h0M210.5 660.6h0M200.6 663.6h0M191.5 662.1h0M202.2 651.6h0M210.7 665h0M208.7 666.6h0M206.5 666.8h0M196.8 666.7h0M208.6 660.7h0M206.8 661.9h0M207 667h0M197.5 664.1h0M209.9 666h0M208.4 668.5h0M199 665.5h0M201.5 665.3h0M193.9 660.3h0M191.4 661.6h0M199.8 656.6h0M198.3 666.5h0M208.3 668.2h0M211.5 663.5h0M202.1 663.4h0M208.1 668.3h0M196 663.9h0M205.3 666.3h0M195.2 666.6h0M193.4 667.2h0M201 667.4h0M209.8 663.2h0M192.9 665.5h0M215.8 665.7h0M215.6 668.3h0M196.7 666.3h0M197 667.1h0M197.5 664.8h0M211.3 662h0M192.2 661.9h0M207 666.5h0M191.4 659.2h0M194.5 668.7h0M198.7 660.2h0M214.6 659.2h0M212.3 661h0M202.9 666h0M197 667.2h0M194.1 669.7h0M199.1 666h0M198.5 659.1h0M197.2 665h0M212.3 668h0M209.2 666.4h0M191.9 658.6h0M210.9 666.9h0M215 665.8h0M206.9 666.7h0M192 662.4h0M208.9 669.1h0M192 663.9h0M198.8 664.6h0M212.7 664.8h0M194.1 665.7h0M209.1 666.4h0M214.8 666.4h0M207.3 668.1h0M198.7 664.9h0M201.9 665.3h0M194 665.8h0M192.6 667.1h0M205.7 666.4h0M199.4 660.2h0M209.3 667.3h0M195.3 663.3h0M212.8 667.7h0M201.6 665.4h0M208.4 669.2h0M211.6 664.2h0M211 656.2h0M208.1 665.7h0M198.6 665.1h0M200.5 662h0M206 665.2h0M213.6 665h0M215.5 665.3h0M209.4 667.4h0M215.8 666.8h0M207.9 667.6h0M204.2 665.5h0M200.3 666h0M209.6 667.9h0M196.1 664h0M202.9 658.1h0M191.7 664.5h0M211.8 662.6h0M200 664.6h0M201 668.7h0M193.2 668.7h0M212.8 667.1h0M265.5 666.1h0M264.3 664.7h0M249.9 663h0M253.4 663.9h0M268.6 654.1h0M257.5 662.2h0M261.7 665.2h0M250.2 663.5h0M251.5 662h0M260.1 665.2h0M264 653.7h0M257.7 655.5h0M257 667.6h0M257.3 666.5h0M267 662.2h0M268 663.3h0M255.6 666.6h0M248.5 660.6h0M248.1 664.6h0M256.7 657.7h0M252.5 665.6h0M262.4 662.5h0M250.4 657.1h0M265.9 656.8h0M265 664.3h0M262.4 666.5h0M261.2 664.3h0M254.6 664.6h0M249.1 659.1h0M263.8 666.6h0M258.4 669.1h0M259.1 667.7h0M268 662.5h0M258.6 667.9h0M266.7 665.6h0M253.9 664.2h0M263.4 665h0M265.8 665.8h0M250.1 664.3h0M249.2 664.8h0M258.6 665.9h0M252 665.8h0M258.6 666.9h0M257.7 664.6h0M250.4 667.1h0M248.8 659.3h0M262.4 666.4h0M254.5 664.5h0M267.2 662.7h0M262.7 666.7h0M248.3 664.5h0M261.1 663.7h0M266.1 660.5h0M267.9 655.8h0M249.3 663.5h0M250.5 663.7h0M258.2 668.8h0M249.1 663h0M260.8 663.8h0M257.5 664.6h0M262.3 662.4h0M256.3 666.2h0M266 666.9h0M251.8 666.1h0M260.1 662.5h0M249.5 663h0M259.7 662.6h0M249 660.4h0M253.2 663h0M250.1 659.6h0M260.6 659.4h0M258.4 668.8h0M256 666.4h0M249.5 659.5h0M247.4 664h0M248.3 660h0M268.6 664.5h0M255.2 652.5h0M252.8 663.7h0M268.5 654.9h0M255.7 662.5h0M264.4 665.2h0M247.4 664h0M262.2 654.4h0M256.9 665.4h0M255.5 663.1h0M247.9 656.5h0M267.8 663.8h0M247.5 664.4h0M250.5 661.7h0M266 664.1h0M267.6 663.1h0M251.6 665.4h0M257.1 666.9h0M267.1 659.6h0M253.6 663.9h0M253.5 662.9h0M261.4 660.5h0M267.7 663.6h0M251.6 665.4h0M267.8 661.6h0M262.8 660.4h0M257.3 666.3h0M264 662.8h0M268.6 663.5h0M267.8 661.4h0M266 663.2h0M259.5 660.3h0M249.1 664.1h0M257.8 662.5h0M251.4 661.7h0M249.3 663.8h0M257.3 663.4h0M258.6 662h0M262.2 665.1h0M258.5 667.3h0M266.1 665.6h0M251.3 666.5h0M252.8 658.8h0M262.1 665.8h0M256.4 658.5h0M268 663h0M267.6 663.8h0M268.8 663.4h0M267.8 663.8h0M262.1 657.1h0M306.5 662.5h0M307.4 665.1h0M311.5 662.4h0M302.6 658.6h0M305.9 663h0M298.1 667.2h0M311 662.3h0M309.9 662.5h0M296.8 659.5h0M297.1 666.2h0M302.2 665.3h0M298.2 666.5h0M299 666.5h0M303 667.8h0M311.9 666.7h0M300.2 657.7h0M304.2 657.3h0M302.3 665.3h0M306.5 665.3h0M315.5 663.5h0M311.8 664.1h0M303.1 661.1h0M314.2 665.7h0M307.9 659.6h0M306.1 666.2h0M310.3 666.3h0M305.5 668h0M313.1 661.5h0M304 662.4h0M306.8 662.5h0M300.9 660.7h0M301.4 664.9h0M311.4 665.5h0M311.1 659.5h0M299.5 662.2h0M301.9 666.5h0M303.1 662.5h0M308.7 663.7h0M309.5 660.4h0M300.1 658.6h0M306.4 663.7h0M313 666.4h0M305.4 664.3h0M296.6 664.7h0M306.8 664.3h0M306.1 661.4h0M298.5 663.8h0M301.8 667.1h0M305.3 668.4h0M305.2 668.2h0M304.9 668.2h0M315.6 664.8h0M304.9 665.3h0M309.4 666h0M312.7 665.6h0M297.9 666.3h0M308.4 663.4h0M310.4 665.5h0M312.1 656.8h0M312.1 666.8h0M304.4 665.6h0M303.7 667.3h0M307.7 664.5h0M299.5 665h0M315.6 663.8h0M315 660.8h0M308.8 656.5h0M307.6 660h0M305.5 662.9h0M313.3 667.2h0M314.4 665.3h0M308.7 665.3h0M311 664.5h0M298.9 661.1h0M301.1 657.7h0M303.7 665h0M304.9 663.4h0M303.2 665.5h0M300.8 664.5h0M298.4 667.5h0M301.7 662.9h0M299.1 667.2h0M315.2 661.2h0M298 660.9h0M311 663.1h0M315 662.1h0M299 668h0M298.1 666.2h0M307 659.3h0M297.7 667.9h0M298.2 666.9h0M314.5 659.7h0M297.1 663.9h0M299.8 665.6h0M302.5 667.1h0M302 666.9h0M303 664.8h0M307.2 660.7h0M301.7 667.3h0M307.4 663.9h0M300.4 664h0M314.7 661.7h0M310.2 666.8h0M306.8 661.9h0M313.1 661.9h0M297.3 651h0M296.6 661h0M305.4 659h0M314.7 660h0M297.9 664.5h0M298.6 666.5h0M298.8 667h0M297.3 664.7h0M298.1 667.5h0M311.4 665.3h0M346.4 657.6h0M351.1 663.2h0M351.6 661.9h0M339.4 664.3h0M352.9 660.5h0M357.9 663.8h0M349.3 663.2h0M347.9 658.5h0M347.8 662.1h0M354 659.8h0M350.6 662h0M341.3 662.7h0M343.1 657.8h0M352.3 665h0M350.5 657h0M355.7 662.8h0M346.4 663.3h0M347.4 651.7h0M355.8 656h0M358.6 663h0M357.6 662.4h0M344.4 659.1h0M347.1 665h0M358.1 662.9h0M341 662.7h0M355.2 659h0M348.1 662.9h0M342.1 658.3h0M353.9 666.6h0M352.2 657h0M346.3 665.1h0M353.7 663.9h0M347 666h0M345.6 660.4h0M343 661h0M354.2 665.6h0M341.8 660.1h0M352.6 662.5h0M356.8 662.5h0M349.2 662.7h0M355.8 662.9h0M344 660.7h0M355.2 660.1h0M343 657.1h0M358.4 662h0M354.6 662.1h0M351.2 663.5h0M339.4 658.8h0M345.8 658.8h0M355.8 657.1h0M353.5 662.7h0M355.1 654.6h0M357.1 656.3h0M345.6 655.4h0M341.2 663.8h0M356 661.3h0M357.7 662.5h0M340.7 664.3h0M356.4 658h0M347.6 661.3h0M340.1 655.2h0M344.8 662.4h0M348.7 662.3h0M348.8 660h0M342.9 657.6h0M345.6 663.2h0M356.6 659.2h0M353.4 661.5h0M347.5 663.8h0M349.4 658h0M342.7 659.3h0M348.5 653.8h0M353 657.4h0M347.3 663.3h0M344.2 661.6h0M345.4 663.6h0M351.4 661.3h0M353.6 662.4h0M358 660.9h0M351.2 661.6h0M348.6 663.2h0M345.3 662.9h0M349.2 662.7h0M349.9 661h0M358.4 660.2h0M358.4 662h0M351.1 661.2h0M348.1 662.5h0M343.9 647.3h0M340.8 658.5h0M348.6 663.1h0M345.3 653.3h0M345.8 662.2h0M347.4 661.5h0M350.1 662.2h0M341.4 664.3h0M351.9 664.8h0M349.4 663.8h0M353.6 666.1h0M340.3 664.6h0M345.8 661.4h0M352.9 660.1h0M357.7 660.9h0M340.3 661.2h0M346.2 662.5h0M342.8 661.9h0M344.1 658.2h0M357.6 662.4h0M349.1 661.1h0M354.1 665.7h0M344.5 658.7h0M345.4 661.8h0M351.5 661.4h0M358.1 662.1h0M343.5 660.8h0M386.3 661.9h0M397 666.6h0M393.2 669.8h0M386.6 665.5h0M384.3 657.9h0M385.9 664h0M392 668.6h0M393.1 669.3h0M387.3 661.8h0M394.1 659.2h0M389.1 662.8h0M393.8 667.8h0M384.3 661.6h0M390.7 667.5h0M385.3 657.9h0M385.5 661.6h0M387.6 663.5h0M390 666.8h0M391.1 666.6h0M399 661.9h0M385.8 660h0M386.4 660.5h0M396.3 658.8h0M392.1 664.6h0M396.5 661.9h0M393.5 663h0M395.8 666.6h0M389.7 661.4h0M398.7 662.4h0M398.7 658.3h0M395 667.4h0M388.2 665.9h0M394.8 666.8h0M387.3 665.5h0M396.8 667.1h0M386.5 662.8h0M384.6 661.3h0M387 658.5h0M392.7 669.1h0M391.3 667.9h0M397.4 655.9h0M383.8 659.9h0M396.4 661.2h0M399.2 655.5h0M398 664.5h0M399.8 649.4h0M394.1 662.5h0M387.9 664.7h0M385.5 662.3h0M399.8 660.5h0M391.1 666.4h0M387.1 663.9h0M388.4 665h0M393 669.8h0M393.3 669.6h0M391.8 666.4h0M397.4 658.3h0M393.2 666.4h0M388.6 667.2h0M388.8 667.6h0M396.1 659.1h0M394.1 669.6h0M385.8 659.6h0M393 671.2h0M399.8 659.9h0M399.3 649h0M396.4 658.4h0M399 663.5h0M389.3 665.6h0M394 670h0M388.1 661.5h0M399.4 662.1h0M398.8 656.3h0M398.3 663.8h0M389.9 663.9h0M396.9 661.1h0M385.6 660.7h0M384.1 661.6h0M384.5 660.5h0M385.7 661h0M390.3 661.6h0M388.9 650.7h0M385.6 664.6h0M391.8 666.3h0M397.4 666.6h0M386.6 664.7h0M390.7 661.2h0M394.5 668.8h0M390 662.5h0M392.7 671.3h0M389.5 668.3h0M391.1 666.8h0M388.6 666.3h0M397.7 665.6h0M385.1 663.6h0M390.6 665.5h0M398.8 659.3h0M388.1 666.5h0M392.6 664.6h0M421.7 658.7h0M422.8 652.2h0M424.3 659.7h0M422.9 648.9h0M426.7 663.5h0M430.5 660.9h0M428.6 663.8h0M423.6 662.6h0M429.9 661h0M428.5 665.7h0M425.9 663.3h0M426.6 660.3h0M427.3 665.1h0M424.3 665.7h0M425.5 663.9h0M423.2 664.8h0M426.2 656.3h0M423.4 653.9h0M428 657.2h0M430.2 661.1h0M430.5 666h0M427.6 663.8h0M422.9 664h0M427.8 665.1h0M422.3 657.1h0M429.5 665.8h0M423.2 665.8h0M426.6 648.8h0M422.8 661.6h0M425.7 660h0M427.2 660h0M422.3 649.8h0M429.2 665.4h0M421.3 657.5h0M429.1 664h0M430.7 663.1h0M426.4 664.2h0M426.1 662.6h0M425.7 663.4h0M429.9 664.3h0M422.2 663h0M429.7 663.2h0M424.8 658.6h0M431.2 665.2h0M422.6 663.2h0M422.3 656.5h0M428.5 664.5h0M427.8 658.6h0M431.3 666.5h0M425.9 660.7h0M425.7 662h0M425.9 662.7h0M427 662.9h0M424.2 665h0M429.2 665.2h0M426 663.5h0M430.7 666.9h0M424.8 654h0M428.5 664.9h0M428.7 663.3h0M422.2 663.6h0M421.6 662.6h0M425.4 652.1h0M430.3 663.4h0M428 662.1h0M429.5 664.1h0M453.9 649.6h0M455 659.1h0M450.5 649.7h0M456.6 657h0M448.8 658h0M453 661.3h0M453.6 659.9h0M450.7 657.1h0M458.6 654.2h0M457.2 659.8h0M451 657.4h0M458.4 661.1h0M449.4 652.3h0M448.7 656.7h0M458.9 658.8h0M448.7 658h0M456.5 655.8h0M449.5 657.2h0M453.6 661.7h0M450 658.4h0M452.8 649.7h0M452 651.7h0M448.8 657h0M450.2 659.7h0M451.7 655.4h0M455 659.5h0M456.2 655.2h0M457.7 657.3h0M449.5 653.8h0M458.6 654.1h0M455.5 659.4h0M457.7 659.1h0M456.2 650h0M450.8 659.8h0M458.4 653.6h0M449.5 657.3h0M457.6 658h0M448.9 657.6h0M450.2 647.6h0M454.7 660.1h0M457.7 652.5h0M453.7 651h0M450.9 655.5h0M459 661.1h0M456 653h0M457.7 660.5h0M452.6 660.6h0M453.9 654.8h0M451.7 651.9h0M451.4 657.4h0M455.5 653.6h0M458.5 660.3h0M452.7 655.8h0M457 654.9h0M451.4 652.3h0M456.6 656.9h0M452.1 655.4h0M449.3 654.4h0M453 656.2h0M454.8 659.5h0M451.9 657.4h0M450 658.7h0M455.3 659.4h0M458.2 659.1h0M452 659.3h0M451.5 657.9h0M477.6 660.6h0M480.9 655.5h0M481.1 659.3h0M476.9 659.9h0M473.3 660.8h0M478.3 650h0M473 660.3h0M477 660.6h0M474.8 660.9h0M475.2 661.6h0M474.9 661.4h0M480.3 656.5h0M476.9 661.3h0M478.5 657.9h0M479.9 652.8h0M474.5 658.9h0M475.7 646.8h0M474.5 661.5h0M474.4 651h0M478 655.6h0M476.8 658.2h0M476.3 659.9h0M478.3 654h0M480.9 657.2h0M479.8 659h0M474.2 652.6h0M473 659.5h0M474.6 658.7h0M475.1 652.9h0M473.3 655.4h0M481 659.2h0M479.7 655.8h0M474.4 658.9h0M473.5 660.6h0M473.1 661.1h0M480.4 657.8h0M480.2 657.9h0M475.2 659.2h0M475.7 648.3h0M472.7 660.8h0M474.4 659.1h0M475.9 662h0M477.9 652.8h0M477.3 660.6h0M476.9 661.7h0M472.8 660.3h0M475.8 656.7h0M476.1 654.8h0M473.5 660.6h0M474 656h0M473.9 658.8h0M476.9 657.7h0M477.1 661.2h0M480.9 658.6h0M473.9 659h0M477 662.2h0M472.8 659h0M478.9 657.4h0M478.2 659h0M497.7 660.5h0M495.4 661.5h0M495.4 662.4h0M498.9 659.1h0M496.8 657.6h0M496.5 652.9h0M496.1 661.3h0M496 650.5h0M499.4 661h0M499.6 661.9h0M498.5 659.7h0M496.1 658.7h0M496 659.3h0M498.7 659.8h0M499.5 653.4h0M495.8 661.3h0M495 661.5h0M495.3 661.4h0M495.5 660h0M496.2 652.2h0M499 660.1h0M497.6 662.1h0M495.2 656.4h0M495.3 660.9h0M496.1 661.2h0M496 661.2h0M499.7 661.1h0M498.2 661.1h0M499.6 653.6h0M497.5 651.5h0M498.6 653.3h0M497.6 662.2h0M495.3 655.8h0M499.8 660.2h0M499.4 652.9h0M496.5 656.8h0M498.9 657.6h0"/></defs>
<use href="#f20" stroke="#241c6a" stroke-width="2.3" stroke-linecap="round" fill="none"/>
<use href="#f20" stroke="#372d92" stroke-width="1.35" stroke-linecap="round" fill="none"/>
<defs><path id="f21" d="M105.8 660.6h0M118.9 651.8h0M125.1 663.3h0M114.2 659.7h0M120.4 662.2h0M106.8 663.5h0M118.7 656.7h0M90.5 663.9h0M95.3 661.4h0M117.7 662.5h0M93.1 659.2h0M112 659.7h0M99.9 660.7h0M98.5 654.3h0M103.8 658.3h0M109.7 665.2h0M100.2 657.2h0M120.8 651.8h0M95.7 664h0M93.8 663.1h0M103.9 658h0M122.6 661h0M95.4 663.5h0M95.4 664.2h0M110.6 662h0M96.4 662.6h0M121.9 660.5h0M111.5 661.2h0M100.9 656.1h0M90.8 659.2h0M124.1 661.1h0M92 664.2h0M118 663.1h0M105.2 658.3h0M114.1 662h0M114.4 651.4h0M106.8 662.4h0M114.5 653.3h0M114.5 650.5h0M117.9 648.5h0M99.1 657.3h0M97.7 661.7h0M102.4 651.2h0M100.7 661.2h0M117 662.7h0M119.4 661.9h0M90.7 664.2h0M102.1 664.2h0M120.6 661.1h0M120.3 660.1h0M103.4 663.2h0M92 661.3h0M123.9 648.2h0M123.2 665.1h0M105.9 655.3h0M95.7 665.2h0M97.6 662h0M116.4 658.2h0M125.2 665.2h0M115.1 655.6h0M96.6 663.3h0M124.9 658.1h0M92.7 662.7h0M113.5 662.4h0M105.7 663.3h0M93.5 660.5h0M109.5 657h0M90.4 662.3h0M92.8 659.7h0M96.1 662.7h0M124.5 661h0M113.9 659h0M97.4 656.7h0M124.5 665.8h0M119.9 660.6h0M97.4 657.1h0M120.3 662.6h0M97.3 659.1h0M97.5 658.9h0M125.2 665.2h0M105.4 662.6h0M96.2 660.2h0M123.7 662.8h0M110 660.3h0M120.6 646.9h0M102.1 664.5h0M122.7 660.8h0M121.5 664.6h0M118.2 663.2h0M95 665.2h0M103.1 663.1h0M113.5 649.4h0M105.5 659.5h0M104.8 661h0M99.7 662.9h0M99.3 656.5h0M118.5 657.3h0M105.9 661.7h0M97 661.6h0M125.5 660.4h0M104.6 659.7h0M107.7 663.2h0M105.1 660.7h0M122 654.4h0M100.5 659.9h0M98.1 647.1h0M95.1 662.6h0M90.7 661.4h0M106.5 664.8h0M95.7 662.1h0M107 663.2h0M92.2 662.2h0M102.6 665.4h0M111.5 662.1h0M109.1 659.8h0M90.8 661.1h0M112.8 651.3h0M114.7 654.5h0M113.7 662.2h0M119 655.3h0M107.5 651.9h0M92 652.3h0M102.9 662h0M118.4 662.4h0M107.8 664.9h0M91.6 648.9h0M98 659.6h0M94.6 651.9h0M108.2 655.4h0M99.9 659.7h0M99 658.4h0M115.3 659.3h0M110.9 662.8h0M123.9 666h0M96.2 659.1h0M124.6 656.7h0M99 648.5h0M106.4 660.6h0M113.2 658.1h0M121.3 653.7h0M101.5 653.1h0M101.4 658.5h0M95.9 660.2h0M113.8 661.1h0M124.3 665.6h0M116.7 659.4h0M90.9 661.5h0M93.8 659.1h0M109.5 665.7h0M123.3 661.4h0M112.1 660.9h0M95.7 663.5h0M91.5 663.5h0M107.8 662.4h0M117.1 664.2h0M97.6 658.7h0M114.6 661.8h0M97.6 661.7h0M103.1 663.3h0M118.4 661.9h0M102.3 659h0M97.6 662.2h0M124.6 653.8h0M101.5 662.7h0M106.5 663.7h0M118.1 653.1h0M115.4 661h0M164.8 650.8h0M162.2 656.9h0M175.3 660.6h0M185.9 663.3h0M187.7 662.1h0M182.7 662.4h0M187.8 659.8h0M173.6 664.4h0M184.6 658.5h0M187.6 655.6h0M181.1 657.4h0M165.3 655.4h0M180.2 664.2h0M162.7 661.1h0M166.7 657.2h0M181.6 657.6h0M170.8 649.7h0M164.9 662.8h0M172.8 664.7h0M180.7 655.1h0M181 662h0M176.5 661.4h0M175.7 661h0M164.9 654.8h0M182.8 656.3h0M163.3 660.4h0M181.1 655.5h0M177.5 648.4h0M172.4 665h0M173.7 663.8h0M171.1 656.7h0M169.6 657.2h0M176.9 662.5h0M174.6 655.2h0M178.3 653.3h0M161.9 660.3h0M166.2 657.2h0M168.8 659.3h0M178.6 663.2h0M177.4 660h0M167.7 660.1h0M177.9 661h0M180.1 664.4h0M162.3 651.2h0M186 650.1h0M187.8 659.5h0M176.2 660.2h0M175.3 650.7h0M187 663.8h0M166.3 660.4h0M172.3 657.9h0M185.8 659.6h0M163 657.7h0M164.3 659.5h0M183 658.2h0M173.5 664.8h0M186 654.7h0M174 665.1h0M179.1 661.8h0M171.6 662.9h0M168.3 664.5h0M178.4 659.4h0M172.5 659.3h0M174.4 664.4h0M168.1 661.3h0M178.9 658.9h0M181 661.7h0M181.6 659.2h0M167.7 664.6h0M177.8 652.7h0M186.6 657.7h0M183.1 659.3h0M167.5 663.4h0M184.1 661.2h0M173.9 661.4h0M161.3 663.8h0M166.2 656.3h0M182.1 663.2h0M165.3 656.2h0M176.7 652.6h0M180.8 663.6h0M181.6 657.3h0M161.9 648.6h0M168.7 661.7h0M175 661.2h0M176.2 663.5h0M183.9 659.3h0M163.5 658.4h0M165.9 661.4h0M180.3 657.6h0M165.2 662.6h0M187 661.7h0M165.8 659.6h0M167.5 664.8h0M178.6 662.9h0M164.6 658.1h0M187 666.3h0M181.1 663.1h0M162.4 661.9h0M161.3 657.7h0M185.4 663.4h0M164.9 663.9h0M171.8 663.8h0M166 655.8h0M163.6 657.1h0M164.7 658.6h0M164.3 662.3h0M187.6 664.9h0M173 660.6h0M187.9 662.1h0M164 657.2h0M179.3 660.2h0M171.2 656h0M162.5 657.8h0M175.5 652.4h0M181.9 662.3h0M171.2 659.9h0M171.1 664h0M187.7 663.3h0M164.6 663h0M161.2 652.4h0M164.6 659.6h0M186.4 658.5h0M176.8 661.1h0M179.1 656h0M166.4 663h0M171.9 661.3h0M184.9 658.2h0M168 658.9h0M164.9 663.5h0M236.8 662.9h0M233.5 664.7h0M223.4 663.2h0M243 661.4h0M220.1 666.5h0M233.7 662.9h0M243.4 653.8h0M221.4 659.8h0M243.3 658.8h0M242.6 663.6h0M234.8 661.1h0M238.8 659.5h0M239.4 664.8h0M238.8 661.2h0M242.8 664.1h0M234.6 656.8h0M237.9 658.8h0M223.2 663.7h0M227.3 660.5h0M220.5 662.6h0M222.6 664.4h0M226.4 661.6h0M236.9 651.1h0M225.2 665.5h0M240.3 663h0M241.8 659.9h0M222.8 662.8h0M225 662.8h0M226.6 655.6h0M241.2 665.6h0M243.7 648.7h0M228.9 655.2h0M242.4 659.4h0M228.4 661.2h0M238.1 662.8h0M231.1 663.1h0M223.4 656.5h0M227.1 659.6h0M230 657.3h0M226.6 665.1h0M235.7 665.9h0M224.6 662.4h0M231.6 653.4h0M236.4 663.9h0M230.3 658.6h0M222.8 663.3h0M234.2 652.4h0M234.1 665.3h0M242.9 658h0M225 663.6h0M220.5 660.8h0M224.9 657h0M236.9 658.3h0M233.2 665.1h0M220.6 663.6h0M220 663.7h0M238.3 664.2h0M230.2 659.4h0M223.3 663.4h0M234.4 665.7h0M223.4 663.3h0M242.2 654.6h0M222.4 661.7h0M229.6 664.2h0M225.7 660.6h0M220.2 651.6h0M226.6 663.4h0M242.5 665.3h0M222.8 661.8h0M227.2 663.8h0M233.7 651.4h0M229.7 664h0M228.7 656.4h0M230.1 663.2h0M225.7 664.6h0M228.1 664.3h0M235.8 661h0M220.8 667.4h0M239.4 656.5h0M238.6 664.5h0M236.3 666.5h0M235.9 666.1h0M239.9 658.1h0M230.9 656.8h0M242.4 654.8h0M235.2 662.5h0M228.3 660.5h0M223.1 661.6h0M221.7 667h0M235.7 664.6h0M224.7 650.6h0M226.7 661.6h0M231.5 663.2h0M243.5 658.2h0M241.1 665h0M241.6 654.2h0M242.3 665.1h0M223.4 664.1h0M221.9 661.1h0M220.9 665.1h0M228.2 659.7h0M220.8 661.8h0M242.7 664.3h0M229.4 658h0M227 656.2h0M243.6 664h0M231 662.6h0M233.1 664h0M243 659.4h0M243.5 657.1h0M239.5 664.6h0M235.7 666.8h0M228.1 653.5h0M243.2 664.8h0M231.6 661.8h0M234.6 662.2h0M226 655.1h0M230.5 655.6h0M278.9 661.3h0M291.5 654.7h0M278.2 663h0M273.6 655.6h0M288.4 659.8h0M291.7 661.5h0M275.5 666.1h0M280.5 657.6h0M273.6 663.6h0M273.5 665.2h0M283.9 658.5h0M292.4 662.3h0M276.8 663.3h0M275.8 665.7h0M271.7 665.7h0M283.5 661.3h0M291.6 660.7h0M273.6 665.7h0M288.2 665.3h0M279.3 662.3h0M281.2 663.3h0M275.1 666.8h0M291.1 646.3h0M293.2 663.2h0M286.8 665.9h0M274.2 666.7h0M279 656.9h0M283.3 663.3h0M282.3 661.5h0M276 662.5h0M292.1 661h0M293.5 659.6h0M274.5 654.3h0M286.9 664.2h0M275.9 660.5h0M275.9 662.7h0M275 664.3h0M293 660.6h0M283 660.3h0M286.1 661.4h0M278 662.2h0M285 650.4h0M290.9 661.9h0M278.2 659.3h0M272.7 663.1h0M288.9 649.3h0M273.7 665.4h0M282.3 660.7h0M292.9 664.4h0M274.5 663.6h0M289.2 666.5h0M280.1 658.9h0M281 663.9h0M273.3 659.2h0M282.9 661.3h0M286.7 659.8h0M280.5 662.7h0M291.9 663.6h0M288.8 663.4h0M283.4 663h0M292.4 662.4h0M278.8 664.3h0M291.3 655.6h0M272.8 665.7h0M278 663.4h0M282.6 655.9h0M287.5 663.5h0M293.2 663.8h0M278.7 663h0M285 660.5h0M274.4 663.5h0M293 654.6h0M285.4 654.5h0M282.4 662h0M287 666h0M284.8 659.9h0M278.3 660.4h0M275.6 661.2h0M274.2 663.8h0M272.9 662.6h0M273.8 657.8h0M272.1 658.3h0M278.3 648.3h0M278.9 664.1h0M286.4 665.3h0M289.6 663.4h0M277.6 658.6h0M276.6 662.5h0M273.5 665.1h0M276.5 663.4h0M280.9 661.9h0M284.8 659.4h0M286.7 662.2h0M282.1 655.7h0M274.8 665.4h0M272 654.4h0M291.1 662.3h0M290.2 662.1h0M292.2 652.4h0M279 663.3h0M280.8 649.2h0M282 663.1h0M272.2 664.2h0M292.1 661.2h0M289.2 655.2h0M292.3 657.5h0M282.6 663.6h0M292.4 656h0M327.2 662h0M334.6 665.2h0M337 663.6h0M318.5 666.1h0M325.1 660.4h0M319.1 656.3h0M333.2 660.7h0M337.4 665.6h0M331.4 656.4h0M321.3 661.6h0M321.8 651.1h0M327.1 656.8h0M322.8 660.1h0M332.6 664.8h0M323.1 664.4h0M330.2 662.8h0M321.8 662.2h0M324.1 664h0M329.5 663.5h0M322.1 662.1h0M337.4 659.6h0M322 654.9h0M336.4 662.5h0M333.6 662.9h0M328.8 651.6h0M331.1 660.9h0M336.4 661.5h0M319.9 667.2h0M332.1 663.3h0M335.1 647.6h0M322.8 663.7h0M329.2 663.6h0M319.8 667h0M323.7 661.8h0M321.7 658.3h0M332.8 658.2h0M328.6 656.4h0M333.6 661.3h0M324.1 660.3h0M334.1 666.2h0M324.9 664.8h0M329.7 664h0M326.6 665.3h0M320.1 655.7h0M324.3 648.6h0M332.4 662.2h0M327.4 660h0M333.9 666.8h0M328.5 661.9h0M321.5 663h0M333.4 654.1h0M326.4 665.4h0M321.3 662.5h0M325.2 654.3h0M328.2 660.4h0M330.2 664.4h0M325.1 662.1h0M319.1 666.3h0M329.1 659.1h0M323.1 664.5h0M329.1 662.8h0M317.9 650h0M332.3 652.7h0M324.1 657.2h0M334.7 661.8h0M318.5 666h0M325.2 662.3h0M329.1 662.7h0M322.2 664.3h0M325.8 665.3h0M322.4 664.4h0M334.5 665.8h0M327.9 660h0M318.6 663.9h0M333.7 666.5h0M330.3 659h0M328.9 661.3h0M327.9 658.7h0M326.5 659.7h0M332.6 659.9h0M326.4 665.6h0M321.2 662.6h0M328.9 663.2h0M323.9 663.9h0M328.4 662.4h0M334.1 667.4h0M324.9 657.9h0M334.3 664.9h0M336.5 654h0M328.9 661.5h0M321.6 658.3h0M319 662.9h0M322.3 663.4h0M330 662.6h0M318.9 667.3h0M333.4 665.3h0M333.2 662.8h0M317.9 664.6h0M329.7 663.1h0M375.8 660.2h0M365.5 665.6h0M362.7 665.2h0M373.8 660.3h0M379.1 661.1h0M367.6 657.1h0M360.6 649.8h0M368.6 659.8h0M364.5 660.3h0M375.3 659.2h0M374.2 665.7h0M378.5 662.8h0M376.6 661.5h0M372.7 664.5h0M376 658.7h0M365.3 652.3h0M368.6 658h0M365 662.7h0M364.6 664.2h0M363.2 663.8h0M370.6 662h0M362.5 653.5h0M373 662.4h0M365.8 663.7h0M378.4 660.4h0M370.4 653.1h0M368.3 657.9h0M361.7 660.4h0M362.8 663.9h0M362.1 655.8h0M378.1 655.5h0M370.3 665.5h0M370.7 653.7h0M374.7 665.8h0M380 650.4h0M372 664.7h0M374.5 660.9h0M360.5 662.3h0M360.7 665.3h0M373.8 659h0M366.8 666h0M365.8 665.1h0M371.4 662.8h0M378.5 663h0M365 660h0M369.3 667.4h0M368.1 665.7h0M376.2 664.5h0M373.1 660.6h0M368.7 667.6h0M371 664.1h0M365.2 652.3h0M363.9 648h0M363.6 664h0M361 656.8h0M378.1 661.8h0M367.2 664.8h0M372.9 664.3h0M369.7 662.1h0M365.8 665.7h0M373.3 661.1h0M360.5 662.4h0M377.2 660.5h0M364.4 661.6h0M363.3 653h0M372 654.3h0M373.4 664.3h0M374.5 664.3h0M370.4 660.9h0M375.8 664.4h0M375.3 661.7h0M372.8 665.4h0M370.8 664.5h0M372.9 658.1h0M368 664.4h0M372.8 661.7h0M379.8 655.7h0M374 664.1h0M361.5 660.8h0M364.8 658.6h0M373.3 656.5h0M361.6 663.2h0M367.1 664.8h0M365.5 657h0M369.4 663.7h0M362.7 661.5h0M372.9 665.4h0M367.1 665.3h0M371.3 664h0M379.9 662.7h0M378.7 663h0M375.3 654.1h0M369.1 665.6h0M372.7 664h0M365.3 653.2h0M373.1 662.8h0M369.5 659.7h0M414.8 666h0M408.3 664.1h0M414.8 663.5h0M411.8 664.2h0M409.6 661.9h0M413 665.1h0M416.6 663.3h0M410.6 661.4h0M408.4 664.3h0M404.5 653.2h0M416.5 660.5h0M405.7 666.1h0M408.1 664.9h0M408.4 663h0M408.2 655.8h0M407.9 665.1h0M413.8 660.9h0M414.5 664.8h0M414.4 666.6h0M413.2 660.9h0M411.2 659.6h0M409.9 661.7h0M410.1 659.9h0M414.8 664.4h0M411.1 661.9h0M406.2 661.6h0M404.1 654.9h0M404.6 664.7h0M413.5 664.4h0M407.8 662.3h0M415.9 659.8h0M408.6 649.5h0M407.1 666.7h0M413.4 658.9h0M414.2 664.9h0M412.7 664.7h0M407.4 652.2h0M414.9 651.8h0M411.1 658.2h0M408.6 661.8h0M415.9 658.2h0M416 664.2h0M409.3 651.7h0M415.9 656.5h0M415.3 664.1h0M413.1 666.1h0M409.9 664.5h0M409.5 663.3h0M409.2 658.7h0M412.7 655h0M416 663.2h0M408.3 662.1h0M407.2 657.6h0M414.2 662h0M412.3 663.3h0M407.6 659.1h0M405.9 666.2h0M413.7 655.3h0M406 653.5h0M410.5 663.9h0M411 663.1h0M412.3 660.1h0M414.7 654.1h0M415 660.5h0M413.3 656.8h0M442.9 658.7h0M435.3 657.3h0M433.6 663.9h0M434.3 662.2h0M446.7 650.8h0M440.7 658.5h0M441.8 653.8h0M444.5 645.7h0M446.1 658.6h0M446.1 659.2h0M434.7 658.4h0M433.8 654.8h0M446.5 652.1h0M436.7 661.8h0M433.9 662.1h0M444.4 661.3h0M435.3 661.3h0M438 663.5h0M437.6 665.5h0M441.9 657.8h0M441.5 660.2h0M445.5 654h0M440.8 661.2h0M444.8 659.4h0M438.9 660.5h0M434 661.5h0M434.3 651.7h0M444 661.4h0M436.1 659h0M440.6 661.3h0M438.7 663.5h0M438.8 664.5h0M434.1 663.4h0M433.6 664.4h0M435.9 662h0M442.8 651.9h0M440.8 656.4h0M441.8 661.5h0M438.2 664.6h0M442.5 658.3h0M439.1 663.8h0M446.4 658.7h0M435.1 661.1h0M437.5 664.9h0M442.7 657.7h0M433.4 651.1h0M434.9 653.4h0M446.6 656.2h0M443.6 661.5h0M435.9 656.4h0M442.6 659.9h0M436.8 665.3h0M444 656.9h0M438 661.4h0M440 662.9h0M440.5 664h0M443 644.8h0M435.4 660.7h0M441.3 656.9h0M443.7 659.7h0M443.4 659h0M443.8 658.3h0M441 651.9h0M435.6 660.3h0M437.9 665.3h0M443.8 660.7h0M435.5 662.9h0M443.8 655.7h0M437.7 662.5h0M468.6 665.4h0M465.5 668.7h0M469.1 665.5h0M467.4 662h0M461.2 662.8h0M469.2 670.4h0M461.4 661h0M463.4 669.3h0M469.9 670.8h0M465.7 670h0M469.4 661.4h0M465.1 662.4h0M462.4 664.7h0M468.7 664h0M461.2 669h0M467.3 661.7h0M465.7 664.4h0M465.3 665.8h0M463.7 671.7h0M469.3 667.3h0M464 670.3h0M464.2 668.1h0M462.4 670.1h0M464.3 669h0M464.4 671h0M469.5 669.7h0M468.2 655.8h0M464.6 668.8h0M467.5 656.2h0M466.1 665.3h0M461.9 670.3h0M465.3 664.9h0M464.6 664.2h0M469 669.5h0M466 669.9h0M464 667.8h0M468.9 669.7h0M468.7 665.1h0M468.9 670.4h0M465.9 669.6h0M468.4 664.7h0M469.6 669.1h0M463 666h0M464.2 661.8h0M463.6 663.3h0M464.3 667h0M464 667.4h0M461.5 669h0M464.3 666.9h0M468.7 667.2h0M470.1 671.1h0M484.7 657.6h0M485.5 649.1h0M488.5 658.1h0M483.9 651.6h0M491.6 659.1h0M485.7 661.6h0M490.5 660.3h0M484.7 649.2h0M489 659.1h0M485.3 644.9h0M486.1 656h0M488.7 659.6h0M491.6 657.7h0M485.4 659.6h0M483.5 657h0M491.2 654.2h0M486.2 661h0M490.1 653.2h0M485.9 660.7h0M485.5 652.6h0M487.3 657.7h0M489 653.9h0M487.9 662.6h0M488.9 660.6h0M490.5 657.1h0M489.1 656.2h0M490.5 653h0M491.1 652.1h0M485.4 653.9h0M486.2 655.8h0M488 658.3h0M484 658.5h0M484.3 658.9h0M490.7 649.3h0M486.2 659.8h0M488.1 656.5h0M483.9 641.5h0M483.5 659.5h0M489.4 660h0M488.7 657.9h0M487.3 659.7h0M490.2 659.2h0M489.8 657.6h0M490.8 660.7h0M485.7 661.6h0M483.4 656.2h0M487.1 662.5h0M507.3 653.5h0M504.5 657.7h0M503.8 645.6h0M504.8 656.2h0M506.8 660h0M506.6 661.4h0M505.3 658.8h0M507 660.2h0M507 654.8h0M504.1 657.7h0M506.9 656h0M505.4 658.3h0M504.3 656.9h0M505.7 654.2h0M507.2 656.1h0M505.9 656.3h0M506.2 660.3h0M503.8 656h0M505.4 649h0M504.6 656.6h0M504.7 653.4h0M507 661.3h0M505.2 653.1h0M506.7 654.2h0M504.3 652.7h0M505.5 648.2h0M504.4 649.7h0"/></defs>
<use href="#f21" stroke="#3f6a90" stroke-width="2.3" stroke-linecap="round" fill="none"/>
<use href="#f21" stroke="#3f85bb" stroke-width="1.35" stroke-linecap="round" fill="none"/>
<path stroke="#1d1856" stroke-width="2.45" stroke-linecap="round" fill="none" d="M72.8 635.2h0M75.7 635.5h0M84 635.5h0M84 639.2h0M72.5 643.3h0M72.2 647.9h0M81.2 645.9h0M79.2 649h0M53.2 647.3h0M59 650.2h0M54.3 652.5h0M68.2 655.4h0M72.8 651.9h0M76.3 654.8h0M51.4 645h0M51.4 648h0M51.4 651h0M51.4 654h0M143.3 624.5h0M133.7 645.2h0M136.7 647.9h0M135.5 651.2h0M135.5 652.6h0M143.3 651h0M153.7 651.3h0M147.9 655.4h0M154.2 656h0M131.7 658.3h0M143.3 658.8h0M206.9 644.4h0M209.8 647.9h0M209 652.5h0M191 654.8h0M198.8 657.1h0M202.3 658.3h0M216 647.9h0M216.5 651.9h0M247.1 646.7h0M253.5 648.5h0M262.7 647.3h0M249.4 652.5h0M255.8 652.5h0M261.5 652.5h0M266 639h0M262 647.8h0M263 646.8h0M261.4 653.1h0M267.5 656.5h0M298.2 648.5h0M299 649.5h0M298.1 656.5h0M310.8 651.9h0M315.4 650.8h0M309.6 657.7h0M339.8 641.2h0M339.8 644.6h0M338.1 648.1h0M339.8 651.5h0M348.5 649.8h0M353.1 649.8h0M356 651h0M349.6 653.3h0M343.3 654.4h0M354.2 656.2h0M389 643.6h0M398.3 655.8h0M398.3 657h0M386.2 659.1h0M389.6 657.7h0M393.7 661.2h0M421.3 649h0M423.7 653.1h0M429.4 658.3h0M430.2 656.5h0M427.3 658.8h0M453.3 640.6h0M448.7 650.2h0M454.4 650.2h0M459.6 645h0M459.6 648.5h0M459.6 652.5h0M452.7 654.2h0M474.5 649h0M475.7 649h0M480.5 643.6h0M480.5 645.2h0M474.4 653.7h0"/>
<path stroke="#415468" stroke-width="2.45" stroke-linecap="round" fill="none" d="M94.2 638.7h0M106.4 639h0M90.9 649.4h0M94.2 654.8h0M102.2 653.1h0M105.1 648.5h0M124.2 641h0M124.2 644h0M124.2 647h0M121.9 648.5h0M105.8 648.5h0M117 651.9h0M118 651.9h0M160.8 646.2h0M161 647.4h0M162.5 655.4h0M172.3 654.2h0M175.8 653.7h0M181.5 656.5h0M185.6 659.4h0M225.6 637.6h0M224.6 638.8h0M224.6 643.3h0M224.6 646.3h0M224.6 649.3h0M239 645.6h0M232.7 652.5h0M235 654.8h0M241.9 655.4h0M222.3 654.2h0M275 628.3h0M275.6 649.6h0M279.6 656.5h0M287.1 656h0M291.7 653.1h0M284.2 659.4h0M331.9 560.2h0M331.9 581.3h0M331.9 601.5h0M332.1 618.7h0M332.1 622.1h0M336.9 624.1h0M336.9 639.1h0M329 647.5h0M330 647.5h0M321.9 655h0M325.4 655h0M332.3 652.7h0M332.3 656.2h0M319 657.9h0M336.3 652.7h0M361.7 645.5h0M361.7 649h0M368.7 651.8h0M372.1 657.3h0M364 657.3h0M378.3 646h0M378.3 648.5h0M378.3 655.4h0M403.3 632.8h0M404.1 631.8h0M404.6 653.7h0M408.1 649.6h0M410.6 647.9h0M408.7 656h0M415.6 651.7h0M438.1 521h0M438.1 538.4h0M438.1 548.9h0M438.1 552.3h0M438.1 569.3h0M438.1 571.1h0M438.1 578.8h0M438.1 588.5h0M438.1 596.9h0M434.8 643.6h0M434.8 645.2h0M438.6 643.6h0M438.6 645.2h0M434.8 651.3h0M438.6 648.5h0M438.6 651.3h0M438.6 654h0M434.8 656.5h0M467.2 642.1h0M471 651.9h0M463.5 661.7h0M483.7 635.5h0M483.7 645.6h0M483.4 648h0M483.1 650.2h0M490 656h0M491.2 656h0M507.3 634.6h0M503.8 648.5h0M506.2 651.9h0M503.8 655.4h0"/>
<rect x="68.9" y="650.4" width="1.7" height="30" fill="#fff"/>
<rect x="302.3" y="650.4" width="2.5" height="30" fill="#fff"/>
<line x1="51.5" x2="509.5" y1="610.5" y2="610.5" stroke="#f0c4cc" stroke-width="1.2"/>
<line x1="52" x2="509.5" y1="610.5" y2="610.5" stroke="#a8636f" stroke-width="1.1" stroke-dasharray="1.9 1.5"/>
<path stroke="#222" stroke-width="1.3" fill="none" d="M50.8 505.4V683.4 M50.2 680.4H512" />
<path stroke="#222" stroke-width="1" fill="none" d="M47.3 680.4H50.8M47.3 655.2H50.8M47.3 630.1H50.8M47.3 604.9H50.8M47.3 579.8H50.8M47.3 554.6H50.8M47.3 529.4H50.8M47.3 508.8H50.8M123.5 680.4V683.6M195.4 680.4V683.6M268.2 680.4V683.6M340 680.4V683.6M412.3 680.4V683.6M485.4 680.4V683.6M508.5 680.4V683.6"/>
<text x="43.6" y="682.8" font-size="6.6" text-anchor="end" fill="#333" stroke="#333" stroke-width="0.18">0</text>
<text x="43.6" y="657.6" font-size="6.6" text-anchor="end" fill="#333" stroke="#333" stroke-width="0.18">2</text>
<text x="43.6" y="632.4" font-size="6.6" text-anchor="end" fill="#333" stroke="#333" stroke-width="0.18">4</text>
<text x="43.6" y="607.3" font-size="6.6" text-anchor="end" fill="#333" stroke="#333" stroke-width="0.18">6</text>
<text x="43.6" y="582.1" font-size="6.6" text-anchor="end" fill="#333" stroke="#333" stroke-width="0.18">8</text>
<text x="43.6" y="557" font-size="6.6" text-anchor="end" fill="#333" stroke="#333" stroke-width="0.18">10</text>
<text x="43.6" y="531.8" font-size="6.6" text-anchor="end" fill="#333" stroke="#333" stroke-width="0.18">12</text>
<text transform="translate(72.6 687.4) rotate(-90)" font-size="7.2" text-anchor="end" fill="#333" stroke="#333" stroke-width="0.15">1</text>
<text transform="translate(111.4 687.4) rotate(-90)" font-size="7.2" text-anchor="end" fill="#333" stroke="#333" stroke-width="0.15">2</text>
<text transform="translate(147.6 687.4) rotate(-90)" font-size="7.2" text-anchor="end" fill="#333" stroke="#333" stroke-width="0.15">3</text>
<text transform="translate(177.6 687.4) rotate(-90)" font-size="7.2" text-anchor="end" fill="#333" stroke="#333" stroke-width="0.15">4</text>
<text transform="translate(207.2 687.4) rotate(-90)" font-size="7.2" text-anchor="end" fill="#333" stroke="#333" stroke-width="0.15">5</text>
<text transform="translate(235.7 687.4) rotate(-90)" font-size="7.2" text-anchor="end" fill="#333" stroke="#333" stroke-width="0.15">6</text>
<text transform="translate(261.1 687.4) rotate(-90)" font-size="7.2" text-anchor="end" fill="#333" stroke="#333" stroke-width="0.15">7</text>
<text transform="translate(285.7 687.4) rotate(-90)" font-size="7.2" text-anchor="end" fill="#333" stroke="#333" stroke-width="0.15">8</text>
<text transform="translate(308.8 687.4) rotate(-90)" font-size="7.2" text-anchor="end" fill="#333" stroke="#333" stroke-width="0.15">9</text>
<text transform="translate(331.4 687.4) rotate(-90)" font-size="7.2" text-anchor="end" fill="#333" stroke="#333" stroke-width="0.15">10</text>
<text transform="translate(352.9 687.4) rotate(-90)" font-size="7.2" text-anchor="end" fill="#333" stroke="#333" stroke-width="0.15">11</text>
<text transform="translate(374.9 687.4) rotate(-90)" font-size="7.2" text-anchor="end" fill="#333" stroke="#333" stroke-width="0.15">12</text>
<text transform="translate(394.9 687.4) rotate(-90)" font-size="7.2" text-anchor="end" fill="#333" stroke="#333" stroke-width="0.15">13</text>
<text transform="translate(411.8 687.4) rotate(-90)" font-size="7.2" text-anchor="end" fill="#333" stroke="#333" stroke-width="0.15">14</text>
<text transform="translate(428.8 687.4) rotate(-90)" font-size="7.2" text-anchor="end" fill="#333" stroke="#333" stroke-width="0.15">15</text>
<text transform="translate(443.1 687.4) rotate(-90)" font-size="7.2" text-anchor="end" fill="#333" stroke="#333" stroke-width="0.15">16</text>
<text transform="translate(456.8 687.4) rotate(-90)" font-size="7.2" text-anchor="end" fill="#333" stroke="#333" stroke-width="0.15">17</text>
<text transform="translate(469.5 687.4) rotate(-90)" font-size="7.2" text-anchor="end" fill="#333" stroke="#333" stroke-width="0.15">18</text>
<text transform="translate(480.9 687.4) rotate(-90)" font-size="7.2" text-anchor="end" fill="#333" stroke="#333" stroke-width="0.15">19</text>
<text transform="translate(489.9 687.4) rotate(-90)" font-size="7.2" text-anchor="end" fill="#333" stroke="#333" stroke-width="0.15">20</text>
<text transform="translate(498.6 687.4) rotate(-90)" font-size="7.2" text-anchor="end" fill="#333" stroke="#333" stroke-width="0.15">21</text>
<text transform="translate(507.2 687.4) rotate(-90)" font-size="7.2" text-anchor="end" fill="#333" stroke="#333" stroke-width="0.15">22</text>
<text transform="translate(281.4 707) scale(0.765 1)" font-size="8.6" text-anchor="middle" fill="#222" stroke="#222" stroke-width="0.25">Chromosome</text>
<text transform="translate(28.8 592.4) rotate(-90) scale(0.77 1)" font-size="8.8" text-anchor="middle" fill="#222" stroke="#222" stroke-width="0.2">&#8211;log10 <tspan font-style="italic">P</tspan>-value</text>
<text x="281.8" y="499.4" font-size="9.92" text-anchor="middle" fill="#222">MR-MEGA with standard GWAS</text>
<text x="8.1" y="498.6" font-size="13" font-weight="bold" fill="#111">C</text>
<text transform="translate(334 73.4) scale(0.94 1)" font-size="8.1" font-style="italic" fill="#2a2a2a" stroke="#2a2a2a" stroke-width="0.12">CYP2C19</text>
<text transform="translate(334 83.8) scale(0.94 1)" font-size="8.1" font-style="italic" fill="#2a2a2a" stroke="#2a2a2a" stroke-width="0.12">CYP2C9</text>
<text transform="translate(441.5 43.2) scale(0.94 1)" font-size="8.1" font-style="italic" fill="#2a2a2a" stroke="#2a2a2a" stroke-width="0.12">VKORC1</text>
<text transform="translate(441.5 53.1) scale(0.94 1)" font-size="8.1" font-style="italic" fill="#2a2a2a" stroke="#2a2a2a" stroke-width="0.12">KAT8</text>
<text transform="translate(335.6 283.8) scale(0.94 1)" font-size="8.1" font-style="italic" fill="#2a2a2a" stroke="#2a2a2a" stroke-width="0.12">CYP2C19</text>
<text transform="translate(335.6 294.2) scale(0.94 1)" font-size="8.1" font-style="italic" fill="#2a2a2a" stroke="#2a2a2a" stroke-width="0.12">CYP2C18</text>
<text transform="translate(335.6 304) scale(0.94 1)" font-size="8.1" font-style="italic" fill="#2a2a2a" stroke="#2a2a2a" stroke-width="0.12">CYP2C9</text>
<text transform="translate(437.1 349.1) scale(0.94 1)" font-size="8.1" font-style="italic" fill="#2a2a2a" stroke="#2a2a2a" stroke-width="0.12">KAT8</text>
<text transform="translate(335.6 557.8) scale(0.94 1)" font-size="8.1" font-style="italic" fill="#2a2a2a" stroke="#2a2a2a" stroke-width="0.12">CYP2C19</text>
<text transform="translate(335.6 578.3) scale(0.94 1)" font-size="8.1" font-style="italic" fill="#2a2a2a" stroke="#2a2a2a" stroke-width="0.12">CYP2C18</text>
<text transform="translate(335.6 588.7) scale(0.94 1)" font-size="8.1" font-style="italic" fill="#2a2a2a" stroke="#2a2a2a" stroke-width="0.12">CYP2C9</text>
<text transform="translate(443.4 523.2) scale(0.91 1)" font-size="8.1" font-style="italic" fill="#2a2a2a" stroke="#2a2a2a" stroke-width="0.12">VKORC1</text>
<text transform="translate(443.4 537.8) scale(0.91 1)" font-size="8.1" font-style="italic" fill="#2a2a2a" stroke="#2a2a2a" stroke-width="0.12">KAT8</text>
</svg></div></body></html>
